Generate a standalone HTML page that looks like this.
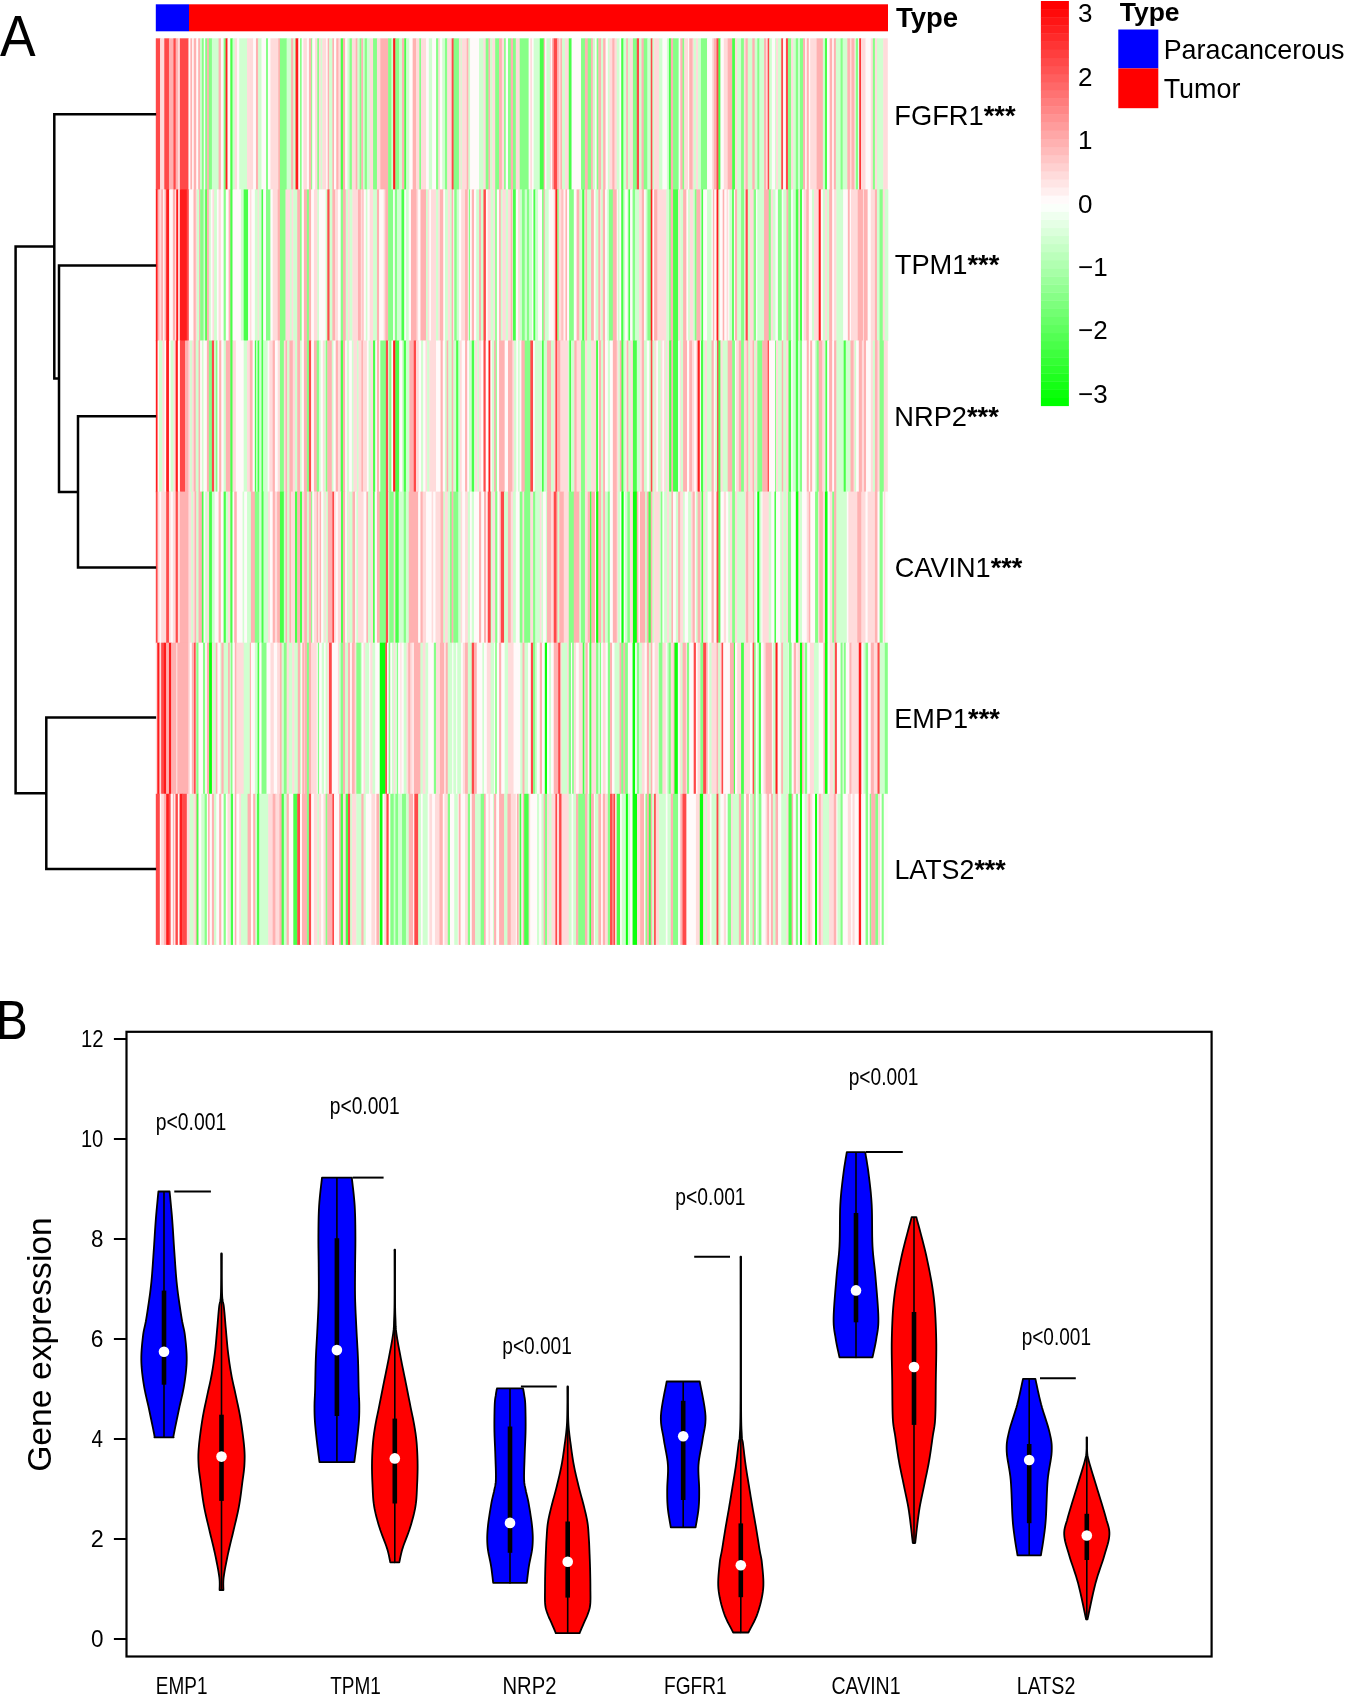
<!DOCTYPE html>
<html><head><meta charset="utf-8"><style>
html,body{margin:0;padding:0;background:#fff;}
svg{display:block;will-change:transform;}
text{font-family:"Liberation Sans", sans-serif;fill:#000;}
</style></head><body>
<svg width="1345" height="1696" viewBox="0 0 1345 1696">
<rect width="1345" height="1696" fill="#fff"/>
<defs><filter id="hb" x="-1%" y="-1%" width="102%" height="102%"><feGaussianBlur stdDeviation="0.55 0.4"/></filter></defs><g filter="url(#hb)"><rect x="155.80" y="38.30" width="4.64" height="151.70" fill="#ff4949"/><rect x="160.04" y="38.30" width="2.63" height="151.70" fill="#ffdbdb"/><rect x="162.27" y="38.30" width="2.41" height="151.70" fill="#ffdbdb"/><rect x="164.28" y="38.30" width="5.08" height="151.70" fill="#ff4949"/><rect x="168.96" y="38.30" width="4.86" height="151.70" fill="#ffb1b1"/><rect x="173.42" y="38.30" width="2.63" height="151.70" fill="#ff4949"/><rect x="175.65" y="38.30" width="2.63" height="151.70" fill="#ffb1b1"/><rect x="177.88" y="38.30" width="2.41" height="151.70" fill="#ffdbdb"/><rect x="179.89" y="38.30" width="8.99" height="151.70" fill="#ff4949"/><rect x="188.48" y="38.30" width="2.30" height="151.70" fill="#fffafa"/><rect x="190.37" y="38.30" width="2.18" height="151.70" fill="#ffb1b1"/><rect x="192.16" y="38.30" width="1.96" height="151.70" fill="#fffafa"/><rect x="193.72" y="38.30" width="2.97" height="151.70" fill="#ffb1b1"/><rect x="196.28" y="38.30" width="2.30" height="151.70" fill="#fffafa"/><rect x="198.18" y="38.30" width="2.18" height="151.70" fill="#ffb1b1"/><rect x="199.96" y="38.30" width="2.30" height="151.70" fill="#d0ffd0"/><rect x="201.86" y="38.30" width="2.30" height="151.70" fill="#87ff87"/><rect x="203.75" y="38.30" width="1.85" height="151.70" fill="#fffafa"/><rect x="205.20" y="38.30" width="2.30" height="151.70" fill="#87ff87"/><rect x="207.10" y="38.30" width="2.18" height="151.70" fill="#ffb1b1"/><rect x="208.88" y="38.30" width="3.41" height="151.70" fill="#87ff87"/><rect x="211.90" y="38.30" width="7.09" height="151.70" fill="#d0ffd0"/><rect x="218.59" y="38.30" width="2.63" height="151.70" fill="#ffb1b1"/><rect x="220.82" y="38.30" width="3.19" height="151.70" fill="#fffafa"/><rect x="223.61" y="38.30" width="2.41" height="151.70" fill="#87ff87"/><rect x="225.61" y="38.30" width="2.30" height="151.70" fill="#ff1f1f"/><rect x="227.51" y="38.30" width="3.19" height="151.70" fill="#fffafa"/><rect x="230.30" y="38.30" width="2.63" height="151.70" fill="#49ff49"/><rect x="232.53" y="38.30" width="2.63" height="151.70" fill="#d0ffd0"/><rect x="234.76" y="38.30" width="2.63" height="151.70" fill="#ffdbdb"/><rect x="236.99" y="38.30" width="2.63" height="151.70" fill="#fffafa"/><rect x="239.22" y="38.30" width="8.21" height="151.70" fill="#d0ffd0"/><rect x="247.03" y="38.30" width="6.53" height="151.70" fill="#ffdbdb"/><rect x="253.16" y="38.30" width="3.19" height="151.70" fill="#fffafa"/><rect x="255.95" y="38.30" width="2.63" height="151.70" fill="#ffb1b1"/><rect x="258.18" y="38.30" width="3.75" height="151.70" fill="#d0ffd0"/><rect x="261.52" y="38.30" width="4.86" height="151.70" fill="#fffafa"/><rect x="265.99" y="38.30" width="2.41" height="151.70" fill="#87ff87"/><rect x="267.99" y="38.30" width="2.85" height="151.70" fill="#fffafa"/><rect x="270.45" y="38.30" width="8.21" height="151.70" fill="#ffdbdb"/><rect x="278.25" y="38.30" width="2.07" height="151.70" fill="#ffb1b1"/><rect x="279.93" y="38.30" width="7.09" height="151.70" fill="#87ff87"/><rect x="286.62" y="38.30" width="4.86" height="151.70" fill="#d0ffd0"/><rect x="291.08" y="38.30" width="2.63" height="151.70" fill="#ffb1b1"/><rect x="293.31" y="38.30" width="2.63" height="151.70" fill="#d0ffd0"/><rect x="295.54" y="38.30" width="3.19" height="151.70" fill="#ff1f1f"/><rect x="298.33" y="38.30" width="2.07" height="151.70" fill="#fffafa"/><rect x="300.00" y="38.30" width="2.07" height="151.70" fill="#87ff87"/><rect x="301.67" y="38.30" width="2.07" height="151.70" fill="#fffafa"/><rect x="303.35" y="38.30" width="3.97" height="151.70" fill="#ffdbdb"/><rect x="306.91" y="38.30" width="2.41" height="151.70" fill="#fffafa"/><rect x="308.92" y="38.30" width="2.63" height="151.70" fill="#ffb1b1"/><rect x="311.15" y="38.30" width="1.52" height="151.70" fill="#87ff87"/><rect x="312.27" y="38.30" width="3.19" height="151.70" fill="#fffafa"/><rect x="315.06" y="38.30" width="2.63" height="151.70" fill="#ffdbdb"/><rect x="317.29" y="38.30" width="2.07" height="151.70" fill="#87ff87"/><rect x="318.96" y="38.30" width="2.07" height="151.70" fill="#ffdbdb"/><rect x="320.63" y="38.30" width="2.07" height="151.70" fill="#d0ffd0"/><rect x="322.30" y="38.30" width="4.30" height="151.70" fill="#ffdbdb"/><rect x="326.21" y="38.30" width="1.85" height="151.70" fill="#fffafa"/><rect x="327.66" y="38.30" width="1.96" height="151.70" fill="#ffb1b1"/><rect x="329.22" y="38.30" width="3.52" height="151.70" fill="#d0ffd0"/><rect x="332.34" y="38.30" width="2.07" height="151.70" fill="#ffb1b1"/><rect x="334.01" y="38.30" width="2.63" height="151.70" fill="#fffafa"/><rect x="336.25" y="38.30" width="2.63" height="151.70" fill="#ffb1b1"/><rect x="338.48" y="38.30" width="2.63" height="151.70" fill="#ffdbdb"/><rect x="340.71" y="38.30" width="2.63" height="151.70" fill="#49ff49"/><rect x="342.94" y="38.30" width="2.63" height="151.70" fill="#ffb1b1"/><rect x="345.17" y="38.30" width="2.63" height="151.70" fill="#fffafa"/><rect x="347.40" y="38.30" width="2.63" height="151.70" fill="#d0ffd0"/><rect x="349.63" y="38.30" width="2.63" height="151.70" fill="#87ff87"/><rect x="351.86" y="38.30" width="4.30" height="151.70" fill="#ffdbdb"/><rect x="355.76" y="38.30" width="2.07" height="151.70" fill="#ffb1b1"/><rect x="357.43" y="38.30" width="2.63" height="151.70" fill="#d0ffd0"/><rect x="359.67" y="38.30" width="2.07" height="151.70" fill="#87ff87"/><rect x="361.34" y="38.30" width="2.07" height="151.70" fill="#ffb1b1"/><rect x="363.01" y="38.30" width="2.07" height="151.70" fill="#d0ffd0"/><rect x="364.68" y="38.30" width="2.63" height="151.70" fill="#87ff87"/><rect x="366.91" y="38.30" width="3.19" height="151.70" fill="#d0ffd0"/><rect x="369.70" y="38.30" width="3.75" height="151.70" fill="#ffdbdb"/><rect x="373.05" y="38.30" width="4.30" height="151.70" fill="#87ff87"/><rect x="376.95" y="38.30" width="3.75" height="151.70" fill="#ffdbdb"/><rect x="380.30" y="38.30" width="8.21" height="151.70" fill="#ffb1b1"/><rect x="388.10" y="38.30" width="3.75" height="151.70" fill="#87ff87"/><rect x="391.45" y="38.30" width="2.07" height="151.70" fill="#d0ffd0"/><rect x="393.12" y="38.30" width="2.63" height="151.70" fill="#ff1f1f"/><rect x="395.35" y="38.30" width="4.30" height="151.70" fill="#87ff87"/><rect x="399.26" y="38.30" width="3.19" height="151.70" fill="#d0ffd0"/><rect x="402.04" y="38.30" width="2.63" height="151.70" fill="#ffb1b1"/><rect x="404.28" y="38.30" width="2.30" height="151.70" fill="#49ff49"/><rect x="406.17" y="38.30" width="3.52" height="151.70" fill="#d0ffd0"/><rect x="409.29" y="38.30" width="3.75" height="151.70" fill="#fffafa"/><rect x="412.64" y="38.30" width="3.75" height="151.70" fill="#ffb1b1"/><rect x="415.99" y="38.30" width="3.75" height="151.70" fill="#ffdbdb"/><rect x="419.33" y="38.30" width="2.07" height="151.70" fill="#87ff87"/><rect x="421.00" y="38.30" width="5.42" height="151.70" fill="#ffdbdb"/><rect x="426.02" y="38.30" width="3.19" height="151.70" fill="#fffafa"/><rect x="428.81" y="38.30" width="3.75" height="151.70" fill="#d0ffd0"/><rect x="432.16" y="38.30" width="4.30" height="151.70" fill="#fffafa"/><rect x="436.06" y="38.30" width="2.63" height="151.70" fill="#87ff87"/><rect x="438.29" y="38.30" width="2.07" height="151.70" fill="#ffdbdb"/><rect x="439.96" y="38.30" width="2.63" height="151.70" fill="#fffafa"/><rect x="442.19" y="38.30" width="3.19" height="151.70" fill="#d0ffd0"/><rect x="444.98" y="38.30" width="2.63" height="151.70" fill="#87ff87"/><rect x="447.21" y="38.30" width="3.19" height="151.70" fill="#ffdbdb"/><rect x="450.00" y="38.30" width="2.07" height="151.70" fill="#ffdbdb"/><rect x="451.67" y="38.30" width="2.30" height="151.70" fill="#ff4949"/><rect x="453.57" y="38.30" width="5.75" height="151.70" fill="#87ff87"/><rect x="458.92" y="38.30" width="2.07" height="151.70" fill="#ffdbdb"/><rect x="460.59" y="38.30" width="1.52" height="151.70" fill="#d0ffd0"/><rect x="461.71" y="38.30" width="5.42" height="151.70" fill="#ffdbdb"/><rect x="466.73" y="38.30" width="2.07" height="151.70" fill="#ffb1b1"/><rect x="468.40" y="38.30" width="2.07" height="151.70" fill="#d0ffd0"/><rect x="470.07" y="38.30" width="9.32" height="151.70" fill="#fffafa"/><rect x="479.00" y="38.30" width="4.86" height="151.70" fill="#d0ffd0"/><rect x="483.46" y="38.30" width="2.63" height="151.70" fill="#ffdbdb"/><rect x="485.69" y="38.30" width="3.19" height="151.70" fill="#87ff87"/><rect x="488.48" y="38.30" width="2.07" height="151.70" fill="#ffb1b1"/><rect x="490.15" y="38.30" width="2.63" height="151.70" fill="#d0ffd0"/><rect x="492.38" y="38.30" width="3.19" height="151.70" fill="#ffdbdb"/><rect x="495.17" y="38.30" width="4.30" height="151.70" fill="#87ff87"/><rect x="499.07" y="38.30" width="3.19" height="151.70" fill="#ffb1b1"/><rect x="501.86" y="38.30" width="2.63" height="151.70" fill="#ffdbdb"/><rect x="504.09" y="38.30" width="2.07" height="151.70" fill="#87ff87"/><rect x="505.76" y="38.30" width="2.63" height="151.70" fill="#fffafa"/><rect x="507.99" y="38.30" width="3.19" height="151.70" fill="#87ff87"/><rect x="510.78" y="38.30" width="2.63" height="151.70" fill="#ffb1b1"/><rect x="513.01" y="38.30" width="3.19" height="151.70" fill="#87ff87"/><rect x="515.80" y="38.30" width="4.30" height="151.70" fill="#ffdbdb"/><rect x="519.70" y="38.30" width="9.32" height="151.70" fill="#87ff87"/><rect x="528.62" y="38.30" width="2.07" height="151.70" fill="#fffafa"/><rect x="530.30" y="38.30" width="2.07" height="151.70" fill="#ffdbdb"/><rect x="531.97" y="38.30" width="2.07" height="151.70" fill="#fffafa"/><rect x="533.64" y="38.30" width="6.53" height="151.70" fill="#d0ffd0"/><rect x="539.78" y="38.30" width="4.30" height="151.70" fill="#49ff49"/><rect x="543.68" y="38.30" width="1.52" height="151.70" fill="#ffb1b1"/><rect x="544.80" y="38.30" width="2.07" height="151.70" fill="#fffafa"/><rect x="546.47" y="38.30" width="3.75" height="151.70" fill="#d0ffd0"/><rect x="549.81" y="38.30" width="1.52" height="151.70" fill="#ffdbdb"/><rect x="550.93" y="38.30" width="1.52" height="151.70" fill="#fffafa"/><rect x="552.04" y="38.30" width="2.07" height="151.70" fill="#ffb1b1"/><rect x="553.72" y="38.30" width="3.75" height="151.70" fill="#ff4949"/><rect x="557.06" y="38.30" width="2.07" height="151.70" fill="#ffb1b1"/><rect x="558.74" y="38.30" width="2.07" height="151.70" fill="#ffdbdb"/><rect x="560.41" y="38.30" width="2.07" height="151.70" fill="#ffb1b1"/><rect x="562.08" y="38.30" width="3.19" height="151.70" fill="#d0ffd0"/><rect x="564.87" y="38.30" width="4.30" height="151.70" fill="#ffdbdb"/><rect x="568.77" y="38.30" width="3.19" height="151.70" fill="#49ff49"/><rect x="571.56" y="38.30" width="9.88" height="151.70" fill="#fffafa"/><rect x="581.04" y="38.30" width="4.30" height="151.70" fill="#87ff87"/><rect x="584.94" y="38.30" width="3.19" height="151.70" fill="#ffb1b1"/><rect x="587.73" y="38.30" width="3.75" height="151.70" fill="#87ff87"/><rect x="591.08" y="38.30" width="2.07" height="151.70" fill="#ffb1b1"/><rect x="592.75" y="38.30" width="2.63" height="151.70" fill="#d0ffd0"/><rect x="594.98" y="38.30" width="2.07" height="151.70" fill="#fffafa"/><rect x="596.65" y="38.30" width="2.07" height="151.70" fill="#87ff87"/><rect x="598.33" y="38.30" width="2.07" height="151.70" fill="#ffb1b1"/><rect x="600.00" y="38.30" width="1.52" height="151.70" fill="#ffb1b1"/><rect x="601.12" y="38.30" width="2.41" height="151.70" fill="#d0ffd0"/><rect x="603.12" y="38.30" width="2.85" height="151.70" fill="#ffb1b1"/><rect x="605.58" y="38.30" width="2.63" height="151.70" fill="#fffafa"/><rect x="607.81" y="38.30" width="2.07" height="151.70" fill="#d0ffd0"/><rect x="609.48" y="38.30" width="3.19" height="151.70" fill="#ffdbdb"/><rect x="612.27" y="38.30" width="2.63" height="151.70" fill="#ffb1b1"/><rect x="614.50" y="38.30" width="2.63" height="151.70" fill="#ffdbdb"/><rect x="616.73" y="38.30" width="3.19" height="151.70" fill="#d0ffd0"/><rect x="619.52" y="38.30" width="2.07" height="151.70" fill="#fffafa"/><rect x="621.19" y="38.30" width="2.63" height="151.70" fill="#49ff49"/><rect x="623.42" y="38.30" width="3.19" height="151.70" fill="#d0ffd0"/><rect x="626.21" y="38.30" width="2.07" height="151.70" fill="#ffb1b1"/><rect x="627.88" y="38.30" width="2.41" height="151.70" fill="#d0ffd0"/><rect x="629.89" y="38.30" width="3.41" height="151.70" fill="#ffdbdb"/><rect x="632.90" y="38.30" width="4.30" height="151.70" fill="#87ff87"/><rect x="636.80" y="38.30" width="2.63" height="151.70" fill="#ff4949"/><rect x="639.03" y="38.30" width="2.85" height="151.70" fill="#d0ffd0"/><rect x="641.49" y="38.30" width="2.63" height="151.70" fill="#ffb1b1"/><rect x="643.72" y="38.30" width="4.08" height="151.70" fill="#87ff87"/><rect x="647.40" y="38.30" width="3.75" height="151.70" fill="#d0ffd0"/><rect x="650.74" y="38.30" width="2.07" height="151.70" fill="#ff4949"/><rect x="652.42" y="38.30" width="2.07" height="151.70" fill="#d0ffd0"/><rect x="654.09" y="38.30" width="5.42" height="151.70" fill="#ffdbdb"/><rect x="659.11" y="38.30" width="3.75" height="151.70" fill="#d0ffd0"/><rect x="662.45" y="38.30" width="4.86" height="151.70" fill="#fffafa"/><rect x="666.91" y="38.30" width="2.41" height="151.70" fill="#d0ffd0"/><rect x="668.92" y="38.30" width="2.30" height="151.70" fill="#49ff49"/><rect x="670.82" y="38.30" width="2.63" height="151.70" fill="#ffb1b1"/><rect x="673.05" y="38.30" width="5.98" height="151.70" fill="#87ff87"/><rect x="678.62" y="38.30" width="2.07" height="151.70" fill="#fffafa"/><rect x="680.30" y="38.30" width="2.63" height="151.70" fill="#ffb1b1"/><rect x="682.53" y="38.30" width="2.07" height="151.70" fill="#87ff87"/><rect x="684.20" y="38.30" width="4.30" height="151.70" fill="#ffdbdb"/><rect x="688.10" y="38.30" width="1.52" height="151.70" fill="#fffafa"/><rect x="689.22" y="38.30" width="3.75" height="151.70" fill="#ffb1b1"/><rect x="692.57" y="38.30" width="1.52" height="151.70" fill="#ffdbdb"/><rect x="693.68" y="38.30" width="2.63" height="151.70" fill="#d0ffd0"/><rect x="695.91" y="38.30" width="2.63" height="151.70" fill="#ffdbdb"/><rect x="698.14" y="38.30" width="3.19" height="151.70" fill="#d0ffd0"/><rect x="700.93" y="38.30" width="6.53" height="151.70" fill="#87ff87"/><rect x="707.06" y="38.30" width="5.42" height="151.70" fill="#fffafa"/><rect x="712.08" y="38.30" width="2.07" height="151.70" fill="#ffdbdb"/><rect x="713.75" y="38.30" width="3.19" height="151.70" fill="#ffb1b1"/><rect x="716.54" y="38.30" width="2.30" height="151.70" fill="#ff4949"/><rect x="718.44" y="38.30" width="2.41" height="151.70" fill="#49ff49"/><rect x="720.45" y="38.30" width="3.75" height="151.70" fill="#fffafa"/><rect x="723.79" y="38.30" width="4.30" height="151.70" fill="#ffdbdb"/><rect x="727.70" y="38.30" width="4.86" height="151.70" fill="#ffb1b1"/><rect x="732.16" y="38.30" width="3.19" height="151.70" fill="#49ff49"/><rect x="734.94" y="38.30" width="2.63" height="151.70" fill="#ffdbdb"/><rect x="737.17" y="38.30" width="4.30" height="151.70" fill="#d0ffd0"/><rect x="741.08" y="38.30" width="3.19" height="151.70" fill="#87ff87"/><rect x="743.87" y="38.30" width="2.07" height="151.70" fill="#ffdbdb"/><rect x="745.54" y="38.30" width="2.63" height="151.70" fill="#ffb1b1"/><rect x="747.77" y="38.30" width="2.63" height="151.70" fill="#d0ffd0"/><rect x="750.00" y="38.30" width="2.69" height="151.70" fill="#d0ffd0"/><rect x="752.29" y="38.30" width="2.79" height="151.70" fill="#ffb1b1"/><rect x="754.68" y="38.30" width="3.00" height="151.70" fill="#d0ffd0"/><rect x="757.29" y="38.30" width="2.48" height="151.70" fill="#87ff87"/><rect x="759.37" y="38.30" width="5.08" height="151.70" fill="#d0ffd0"/><rect x="764.05" y="38.30" width="2.48" height="151.70" fill="#ffb1b1"/><rect x="766.13" y="38.30" width="1.96" height="151.70" fill="#ffdbdb"/><rect x="767.70" y="38.30" width="1.96" height="151.70" fill="#ff4949"/><rect x="769.26" y="38.30" width="3.00" height="151.70" fill="#d0ffd0"/><rect x="771.86" y="38.30" width="3.52" height="151.70" fill="#fffafa"/><rect x="774.98" y="38.30" width="1.44" height="151.70" fill="#d0ffd0"/><rect x="776.02" y="38.30" width="2.48" height="151.70" fill="#ffdbdb"/><rect x="778.10" y="38.30" width="3.52" height="151.70" fill="#d0ffd0"/><rect x="781.23" y="38.30" width="2.27" height="151.70" fill="#ff4949"/><rect x="783.10" y="38.30" width="3.21" height="151.70" fill="#fffafa"/><rect x="785.91" y="38.30" width="2.48" height="151.70" fill="#ff4949"/><rect x="787.99" y="38.30" width="3.52" height="151.70" fill="#87ff87"/><rect x="791.12" y="38.30" width="2.48" height="151.70" fill="#ffdbdb"/><rect x="793.20" y="38.30" width="3.00" height="151.70" fill="#d0ffd0"/><rect x="795.80" y="38.30" width="2.69" height="151.70" fill="#87ff87"/><rect x="798.09" y="38.30" width="2.27" height="151.70" fill="#d0ffd0"/><rect x="799.96" y="38.30" width="3.52" height="151.70" fill="#87ff87"/><rect x="803.09" y="38.30" width="2.48" height="151.70" fill="#ffb1b1"/><rect x="805.17" y="38.30" width="1.96" height="151.70" fill="#fffafa"/><rect x="806.73" y="38.30" width="2.48" height="151.70" fill="#ffb1b1"/><rect x="808.81" y="38.30" width="1.75" height="151.70" fill="#fffafa"/><rect x="810.16" y="38.30" width="6.85" height="151.70" fill="#ffdbdb"/><rect x="816.62" y="38.30" width="6.65" height="151.70" fill="#ffb1b1"/><rect x="822.86" y="38.30" width="2.48" height="151.70" fill="#d0ffd0"/><rect x="824.94" y="38.30" width="2.48" height="151.70" fill="#49ff49"/><rect x="827.03" y="38.30" width="3.00" height="151.70" fill="#fffafa"/><rect x="829.63" y="38.30" width="3.00" height="151.70" fill="#ffb1b1"/><rect x="832.23" y="38.30" width="1.96" height="151.70" fill="#fffafa"/><rect x="833.79" y="38.30" width="2.48" height="151.70" fill="#ffb1b1"/><rect x="835.87" y="38.30" width="5.08" height="151.70" fill="#d0ffd0"/><rect x="840.56" y="38.30" width="2.48" height="151.70" fill="#87ff87"/><rect x="842.64" y="38.30" width="5.08" height="151.70" fill="#d0ffd0"/><rect x="847.32" y="38.30" width="3.00" height="151.70" fill="#ffb1b1"/><rect x="849.93" y="38.30" width="1.96" height="151.70" fill="#ffdbdb"/><rect x="851.49" y="38.30" width="3.52" height="151.70" fill="#ffb1b1"/><rect x="854.61" y="38.30" width="1.44" height="151.70" fill="#fffafa"/><rect x="855.65" y="38.30" width="3.00" height="151.70" fill="#87ff87"/><rect x="858.25" y="38.30" width="1.44" height="151.70" fill="#fffafa"/><rect x="859.29" y="38.30" width="1.96" height="151.70" fill="#ff1f1f"/><rect x="860.86" y="38.30" width="5.08" height="151.70" fill="#ffdbdb"/><rect x="865.54" y="38.30" width="5.60" height="151.70" fill="#fffafa"/><rect x="870.74" y="38.30" width="2.48" height="151.70" fill="#ffdbdb"/><rect x="872.83" y="38.30" width="2.48" height="151.70" fill="#87ff87"/><rect x="874.91" y="38.30" width="2.48" height="151.70" fill="#ffdbdb"/><rect x="876.99" y="38.30" width="6.65" height="151.70" fill="#d0ffd0"/><rect x="883.23" y="38.30" width="4.56" height="151.70" fill="#ffdbdb"/><rect x="155.80" y="189.40" width="2.18" height="151.70" fill="#ff1f1f"/><rect x="157.58" y="189.40" width="2.30" height="151.70" fill="#ffb1b1"/><rect x="159.48" y="189.40" width="2.07" height="151.70" fill="#ffdbdb"/><rect x="161.15" y="189.40" width="2.41" height="151.70" fill="#ffb1b1"/><rect x="163.16" y="189.40" width="1.74" height="151.70" fill="#fffafa"/><rect x="164.50" y="189.40" width="2.07" height="151.70" fill="#ffb1b1"/><rect x="166.17" y="189.40" width="3.41" height="151.70" fill="#ff1f1f"/><rect x="169.18" y="189.40" width="4.08" height="151.70" fill="#fffafa"/><rect x="172.86" y="189.40" width="2.97" height="151.70" fill="#ffb1b1"/><rect x="175.43" y="189.40" width="1.18" height="151.70" fill="#fffafa"/><rect x="176.21" y="189.40" width="2.30" height="151.70" fill="#ff1f1f"/><rect x="178.10" y="189.40" width="2.18" height="151.70" fill="#ffdbdb"/><rect x="179.89" y="189.40" width="7.31" height="151.70" fill="#ff1f1f"/><rect x="186.80" y="189.40" width="2.41" height="151.70" fill="#ff4949"/><rect x="188.81" y="189.40" width="5.08" height="151.70" fill="#fffafa"/><rect x="193.49" y="189.40" width="2.63" height="151.70" fill="#ffb1b1"/><rect x="195.72" y="189.40" width="1.52" height="151.70" fill="#ffdbdb"/><rect x="196.84" y="189.40" width="2.63" height="151.70" fill="#d0ffd0"/><rect x="199.07" y="189.40" width="1.52" height="151.70" fill="#ffb1b1"/><rect x="200.19" y="189.40" width="3.75" height="151.70" fill="#87ff87"/><rect x="203.53" y="189.40" width="2.07" height="151.70" fill="#d0ffd0"/><rect x="205.20" y="189.40" width="2.07" height="151.70" fill="#49ff49"/><rect x="206.88" y="189.40" width="2.41" height="151.70" fill="#ffb1b1"/><rect x="208.88" y="189.40" width="2.30" height="151.70" fill="#d0ffd0"/><rect x="210.78" y="189.40" width="2.07" height="151.70" fill="#fffafa"/><rect x="212.45" y="189.40" width="2.07" height="151.70" fill="#ffdbdb"/><rect x="214.13" y="189.40" width="3.19" height="151.70" fill="#d0ffd0"/><rect x="216.91" y="189.40" width="2.07" height="151.70" fill="#fffafa"/><rect x="218.59" y="189.40" width="2.63" height="151.70" fill="#ffdbdb"/><rect x="220.82" y="189.40" width="3.19" height="151.70" fill="#fffafa"/><rect x="223.61" y="189.40" width="2.63" height="151.70" fill="#87ff87"/><rect x="225.84" y="189.40" width="3.19" height="151.70" fill="#fffafa"/><rect x="228.62" y="189.40" width="2.07" height="151.70" fill="#ffb1b1"/><rect x="230.30" y="189.40" width="2.63" height="151.70" fill="#49ff49"/><rect x="232.53" y="189.40" width="8.76" height="151.70" fill="#fffafa"/><rect x="240.89" y="189.40" width="3.19" height="151.70" fill="#d0ffd0"/><rect x="243.68" y="189.40" width="4.86" height="151.70" fill="#49ff49"/><rect x="248.14" y="189.40" width="2.07" height="151.70" fill="#fffafa"/><rect x="249.81" y="189.40" width="2.07" height="151.70" fill="#ffdbdb"/><rect x="251.49" y="189.40" width="3.75" height="151.70" fill="#fffafa"/><rect x="254.83" y="189.40" width="3.19" height="151.70" fill="#d0ffd0"/><rect x="257.62" y="189.40" width="1.52" height="151.70" fill="#ffdbdb"/><rect x="258.74" y="189.40" width="3.19" height="151.70" fill="#d0ffd0"/><rect x="261.52" y="189.40" width="2.07" height="151.70" fill="#49ff49"/><rect x="263.20" y="189.40" width="3.19" height="151.70" fill="#fffafa"/><rect x="265.99" y="189.40" width="4.86" height="151.70" fill="#87ff87"/><rect x="270.45" y="189.40" width="2.63" height="151.70" fill="#fffafa"/><rect x="272.68" y="189.40" width="5.42" height="151.70" fill="#ffdbdb"/><rect x="277.70" y="189.40" width="2.63" height="151.70" fill="#ffb1b1"/><rect x="279.93" y="189.40" width="5.98" height="151.70" fill="#87ff87"/><rect x="285.50" y="189.40" width="4.86" height="151.70" fill="#ffdbdb"/><rect x="289.96" y="189.40" width="2.07" height="151.70" fill="#d0ffd0"/><rect x="291.64" y="189.40" width="2.07" height="151.70" fill="#ffdbdb"/><rect x="293.31" y="189.40" width="4.30" height="151.70" fill="#d0ffd0"/><rect x="297.21" y="189.40" width="3.19" height="151.70" fill="#ffb1b1"/><rect x="300.00" y="189.40" width="2.07" height="151.70" fill="#87ff87"/><rect x="301.67" y="189.40" width="2.63" height="151.70" fill="#fffafa"/><rect x="303.90" y="189.40" width="3.41" height="151.70" fill="#ffb1b1"/><rect x="306.91" y="189.40" width="2.41" height="151.70" fill="#87ff87"/><rect x="308.92" y="189.40" width="2.63" height="151.70" fill="#ffb1b1"/><rect x="311.15" y="189.40" width="3.19" height="151.70" fill="#fffafa"/><rect x="313.94" y="189.40" width="3.75" height="151.70" fill="#ffdbdb"/><rect x="317.29" y="189.40" width="2.07" height="151.70" fill="#d0ffd0"/><rect x="318.96" y="189.40" width="7.09" height="151.70" fill="#fffafa"/><rect x="325.65" y="189.40" width="2.07" height="151.70" fill="#d0ffd0"/><rect x="327.32" y="189.40" width="2.63" height="151.70" fill="#ff4949"/><rect x="329.55" y="189.40" width="3.19" height="151.70" fill="#d0ffd0"/><rect x="332.34" y="189.40" width="3.19" height="151.70" fill="#ffb1b1"/><rect x="335.13" y="189.40" width="3.19" height="151.70" fill="#ffdbdb"/><rect x="337.92" y="189.40" width="3.19" height="151.70" fill="#fffafa"/><rect x="340.71" y="189.40" width="2.63" height="151.70" fill="#87ff87"/><rect x="342.94" y="189.40" width="3.19" height="151.70" fill="#ffb1b1"/><rect x="345.72" y="189.40" width="2.63" height="151.70" fill="#d0ffd0"/><rect x="347.96" y="189.40" width="2.07" height="151.70" fill="#ffdbdb"/><rect x="349.63" y="189.40" width="3.19" height="151.70" fill="#d0ffd0"/><rect x="352.42" y="189.40" width="5.98" height="151.70" fill="#ffdbdb"/><rect x="357.99" y="189.40" width="3.19" height="151.70" fill="#ffb1b1"/><rect x="360.78" y="189.40" width="2.07" height="151.70" fill="#ffdbdb"/><rect x="362.45" y="189.40" width="1.52" height="151.70" fill="#ffb1b1"/><rect x="363.57" y="189.40" width="2.63" height="151.70" fill="#fffafa"/><rect x="365.80" y="189.40" width="2.07" height="151.70" fill="#d0ffd0"/><rect x="367.47" y="189.40" width="2.63" height="151.70" fill="#fffafa"/><rect x="369.70" y="189.40" width="3.75" height="151.70" fill="#ffdbdb"/><rect x="373.05" y="189.40" width="4.30" height="151.70" fill="#d0ffd0"/><rect x="376.95" y="189.40" width="2.63" height="151.70" fill="#ffb1b1"/><rect x="379.18" y="189.40" width="4.86" height="151.70" fill="#fffafa"/><rect x="383.64" y="189.40" width="2.07" height="151.70" fill="#ffdbdb"/><rect x="385.32" y="189.40" width="3.19" height="151.70" fill="#ffb1b1"/><rect x="388.10" y="189.40" width="5.42" height="151.70" fill="#87ff87"/><rect x="393.12" y="189.40" width="2.07" height="151.70" fill="#fffafa"/><rect x="394.80" y="189.40" width="2.63" height="151.70" fill="#87ff87"/><rect x="397.03" y="189.40" width="4.86" height="151.70" fill="#d0ffd0"/><rect x="401.49" y="189.40" width="3.19" height="151.70" fill="#49ff49"/><rect x="404.28" y="189.40" width="2.07" height="151.70" fill="#fffafa"/><rect x="405.95" y="189.40" width="3.19" height="151.70" fill="#d0ffd0"/><rect x="408.74" y="189.40" width="2.63" height="151.70" fill="#fffafa"/><rect x="410.97" y="189.40" width="5.98" height="151.70" fill="#ffb1b1"/><rect x="416.54" y="189.40" width="2.07" height="151.70" fill="#ffdbdb"/><rect x="418.22" y="189.40" width="2.63" height="151.70" fill="#fffafa"/><rect x="420.45" y="189.40" width="5.98" height="151.70" fill="#ffb1b1"/><rect x="426.02" y="189.40" width="2.07" height="151.70" fill="#d0ffd0"/><rect x="427.70" y="189.40" width="2.07" height="151.70" fill="#ffdbdb"/><rect x="429.37" y="189.40" width="2.07" height="151.70" fill="#fffafa"/><rect x="431.04" y="189.40" width="5.42" height="151.70" fill="#ffdbdb"/><rect x="436.06" y="189.40" width="2.63" height="151.70" fill="#d0ffd0"/><rect x="438.29" y="189.40" width="2.07" height="151.70" fill="#ffdbdb"/><rect x="439.96" y="189.40" width="3.75" height="151.70" fill="#ffb1b1"/><rect x="443.31" y="189.40" width="2.07" height="151.70" fill="#fffafa"/><rect x="444.98" y="189.40" width="3.19" height="151.70" fill="#d0ffd0"/><rect x="447.77" y="189.40" width="2.63" height="151.70" fill="#ffdbdb"/><rect x="450.00" y="189.40" width="2.07" height="151.70" fill="#d0ffd0"/><rect x="451.67" y="189.40" width="2.07" height="151.70" fill="#ffb1b1"/><rect x="453.35" y="189.40" width="1.29" height="151.70" fill="#fffafa"/><rect x="454.24" y="189.40" width="2.85" height="151.70" fill="#87ff87"/><rect x="456.69" y="189.40" width="2.63" height="151.70" fill="#d0ffd0"/><rect x="458.92" y="189.40" width="2.63" height="151.70" fill="#fffafa"/><rect x="461.15" y="189.40" width="4.30" height="151.70" fill="#ffdbdb"/><rect x="465.06" y="189.40" width="3.19" height="151.70" fill="#ffb1b1"/><rect x="467.84" y="189.40" width="1.29" height="151.70" fill="#fffafa"/><rect x="468.74" y="189.40" width="1.74" height="151.70" fill="#87ff87"/><rect x="470.07" y="189.40" width="2.07" height="151.70" fill="#fffafa"/><rect x="471.75" y="189.40" width="2.63" height="151.70" fill="#ffb1b1"/><rect x="473.98" y="189.40" width="2.63" height="151.70" fill="#fffafa"/><rect x="476.21" y="189.40" width="3.19" height="151.70" fill="#d0ffd0"/><rect x="479.00" y="189.40" width="2.41" height="151.70" fill="#ffb1b1"/><rect x="481.00" y="189.40" width="2.85" height="151.70" fill="#d0ffd0"/><rect x="483.46" y="189.40" width="2.85" height="151.70" fill="#ff4949"/><rect x="485.91" y="189.40" width="2.18" height="151.70" fill="#fffafa"/><rect x="487.70" y="189.40" width="3.41" height="151.70" fill="#ffdbdb"/><rect x="490.71" y="189.40" width="3.19" height="151.70" fill="#d0ffd0"/><rect x="493.49" y="189.40" width="2.07" height="151.70" fill="#ffdbdb"/><rect x="495.17" y="189.40" width="2.07" height="151.70" fill="#87ff87"/><rect x="496.84" y="189.40" width="2.63" height="151.70" fill="#fffafa"/><rect x="499.07" y="189.40" width="2.07" height="151.70" fill="#ffb1b1"/><rect x="500.74" y="189.40" width="2.07" height="151.70" fill="#d0ffd0"/><rect x="502.42" y="189.40" width="3.75" height="151.70" fill="#ffdbdb"/><rect x="505.76" y="189.40" width="2.63" height="151.70" fill="#d0ffd0"/><rect x="507.99" y="189.40" width="3.19" height="151.70" fill="#ffdbdb"/><rect x="510.78" y="189.40" width="2.07" height="151.70" fill="#ffb1b1"/><rect x="512.45" y="189.40" width="0.96" height="151.70" fill="#d0ffd0"/><rect x="513.01" y="189.40" width="3.19" height="151.70" fill="#49ff49"/><rect x="515.80" y="189.40" width="2.63" height="151.70" fill="#fffafa"/><rect x="518.03" y="189.40" width="2.07" height="151.70" fill="#ffdbdb"/><rect x="519.70" y="189.40" width="2.63" height="151.70" fill="#d0ffd0"/><rect x="521.93" y="189.40" width="3.19" height="151.70" fill="#87ff87"/><rect x="524.72" y="189.40" width="2.63" height="151.70" fill="#d0ffd0"/><rect x="526.95" y="189.40" width="2.63" height="151.70" fill="#87ff87"/><rect x="529.18" y="189.40" width="3.19" height="151.70" fill="#d0ffd0"/><rect x="531.97" y="189.40" width="1.85" height="151.70" fill="#fffafa"/><rect x="533.42" y="189.40" width="2.30" height="151.70" fill="#49ff49"/><rect x="535.32" y="189.40" width="3.19" height="151.70" fill="#d0ffd0"/><rect x="538.10" y="189.40" width="4.30" height="151.70" fill="#fffafa"/><rect x="542.01" y="189.40" width="2.07" height="151.70" fill="#87ff87"/><rect x="543.68" y="189.40" width="1.52" height="151.70" fill="#ffb1b1"/><rect x="544.80" y="189.40" width="4.30" height="151.70" fill="#d0ffd0"/><rect x="548.70" y="189.40" width="5.42" height="151.70" fill="#fffafa"/><rect x="553.72" y="189.40" width="2.07" height="151.70" fill="#ffdbdb"/><rect x="555.39" y="189.40" width="2.30" height="151.70" fill="#ff1f1f"/><rect x="557.29" y="189.40" width="1.85" height="151.70" fill="#87ff87"/><rect x="558.74" y="189.40" width="3.19" height="151.70" fill="#ffdbdb"/><rect x="561.52" y="189.40" width="1.52" height="151.70" fill="#ffb1b1"/><rect x="562.64" y="189.40" width="2.07" height="151.70" fill="#ffdbdb"/><rect x="564.31" y="189.40" width="1.52" height="151.70" fill="#fffafa"/><rect x="565.43" y="189.40" width="2.07" height="151.70" fill="#ffb1b1"/><rect x="567.10" y="189.40" width="2.41" height="151.70" fill="#fffafa"/><rect x="569.11" y="189.40" width="5.08" height="151.70" fill="#87ff87"/><rect x="573.79" y="189.40" width="3.19" height="151.70" fill="#fffafa"/><rect x="576.58" y="189.40" width="3.19" height="151.70" fill="#ffb1b1"/><rect x="579.37" y="189.40" width="3.19" height="151.70" fill="#d0ffd0"/><rect x="582.16" y="189.40" width="2.63" height="151.70" fill="#49ff49"/><rect x="584.39" y="189.40" width="1.52" height="151.70" fill="#ffdbdb"/><rect x="585.50" y="189.40" width="2.07" height="151.70" fill="#ffb1b1"/><rect x="587.17" y="189.40" width="4.30" height="151.70" fill="#d0ffd0"/><rect x="591.08" y="189.40" width="3.19" height="151.70" fill="#ffb1b1"/><rect x="593.87" y="189.40" width="2.07" height="151.70" fill="#fffafa"/><rect x="595.54" y="189.40" width="3.19" height="151.70" fill="#d0ffd0"/><rect x="598.33" y="189.40" width="2.07" height="151.70" fill="#ffb1b1"/><rect x="600.00" y="189.40" width="1.52" height="151.70" fill="#ffdbdb"/><rect x="601.12" y="189.40" width="2.07" height="151.70" fill="#d0ffd0"/><rect x="602.79" y="189.40" width="2.63" height="151.70" fill="#ffb1b1"/><rect x="605.02" y="189.40" width="2.63" height="151.70" fill="#fffafa"/><rect x="607.25" y="189.40" width="2.07" height="151.70" fill="#d0ffd0"/><rect x="608.92" y="189.40" width="4.30" height="151.70" fill="#87ff87"/><rect x="612.83" y="189.40" width="4.30" height="151.70" fill="#ffb1b1"/><rect x="616.73" y="189.40" width="1.52" height="151.70" fill="#fffafa"/><rect x="617.84" y="189.40" width="2.07" height="151.70" fill="#d0ffd0"/><rect x="619.52" y="189.40" width="2.07" height="151.70" fill="#fffafa"/><rect x="621.19" y="189.40" width="2.63" height="151.70" fill="#49ff49"/><rect x="623.42" y="189.40" width="2.07" height="151.70" fill="#d0ffd0"/><rect x="625.09" y="189.40" width="2.63" height="151.70" fill="#fffafa"/><rect x="627.32" y="189.40" width="1.52" height="151.70" fill="#d0ffd0"/><rect x="628.44" y="189.40" width="2.07" height="151.70" fill="#49ff49"/><rect x="630.11" y="189.40" width="2.85" height="151.70" fill="#fffafa"/><rect x="632.57" y="189.40" width="2.97" height="151.70" fill="#87ff87"/><rect x="635.13" y="189.40" width="4.30" height="151.70" fill="#d0ffd0"/><rect x="639.03" y="189.40" width="3.19" height="151.70" fill="#ffdbdb"/><rect x="641.82" y="189.40" width="2.63" height="151.70" fill="#ffb1b1"/><rect x="644.05" y="189.40" width="2.07" height="151.70" fill="#fffafa"/><rect x="645.72" y="189.40" width="2.07" height="151.70" fill="#d0ffd0"/><rect x="647.40" y="189.40" width="3.75" height="151.70" fill="#87ff87"/><rect x="650.74" y="189.40" width="2.07" height="151.70" fill="#ff1f1f"/><rect x="652.42" y="189.40" width="2.07" height="151.70" fill="#fffafa"/><rect x="654.09" y="189.40" width="3.75" height="151.70" fill="#ffb1b1"/><rect x="657.43" y="189.40" width="9.32" height="151.70" fill="#ffdbdb"/><rect x="666.36" y="189.40" width="3.19" height="151.70" fill="#d0ffd0"/><rect x="669.14" y="189.40" width="2.07" height="151.70" fill="#87ff87"/><rect x="670.82" y="189.40" width="2.63" height="151.70" fill="#ffb1b1"/><rect x="673.05" y="189.40" width="5.42" height="151.70" fill="#49ff49"/><rect x="678.07" y="189.40" width="2.63" height="151.70" fill="#ffdbdb"/><rect x="680.30" y="189.40" width="3.19" height="151.70" fill="#d0ffd0"/><rect x="683.09" y="189.40" width="3.75" height="151.70" fill="#ffb1b1"/><rect x="686.43" y="189.40" width="2.07" height="151.70" fill="#fffafa"/><rect x="688.10" y="189.40" width="2.07" height="151.70" fill="#d0ffd0"/><rect x="689.78" y="189.40" width="3.75" height="151.70" fill="#ffdbdb"/><rect x="693.12" y="189.40" width="2.07" height="151.70" fill="#d0ffd0"/><rect x="694.80" y="189.40" width="2.07" height="151.70" fill="#87ff87"/><rect x="696.47" y="189.40" width="4.30" height="151.70" fill="#ffb1b1"/><rect x="700.37" y="189.40" width="1.52" height="151.70" fill="#d0ffd0"/><rect x="701.49" y="189.40" width="2.07" height="151.70" fill="#49ff49"/><rect x="703.16" y="189.40" width="4.30" height="151.70" fill="#fffafa"/><rect x="707.06" y="189.40" width="4.86" height="151.70" fill="#d0ffd0"/><rect x="711.52" y="189.40" width="1.74" height="151.70" fill="#fffafa"/><rect x="712.86" y="189.40" width="1.85" height="151.70" fill="#ffb1b1"/><rect x="714.31" y="189.40" width="2.63" height="151.70" fill="#fffafa"/><rect x="716.54" y="189.40" width="2.30" height="151.70" fill="#ff1f1f"/><rect x="718.44" y="189.40" width="1.85" height="151.70" fill="#d0ffd0"/><rect x="719.89" y="189.40" width="3.19" height="151.70" fill="#fffafa"/><rect x="722.68" y="189.40" width="2.07" height="151.70" fill="#ffb1b1"/><rect x="724.35" y="189.40" width="2.63" height="151.70" fill="#fffafa"/><rect x="726.58" y="189.40" width="2.07" height="151.70" fill="#ffdbdb"/><rect x="728.25" y="189.40" width="1.52" height="151.70" fill="#fffafa"/><rect x="729.37" y="189.40" width="3.19" height="151.70" fill="#d0ffd0"/><rect x="732.16" y="189.40" width="2.07" height="151.70" fill="#49ff49"/><rect x="733.83" y="189.40" width="1.52" height="151.70" fill="#fffafa"/><rect x="734.94" y="189.40" width="2.63" height="151.70" fill="#ffb1b1"/><rect x="737.17" y="189.40" width="4.30" height="151.70" fill="#d0ffd0"/><rect x="741.08" y="189.40" width="3.75" height="151.70" fill="#87ff87"/><rect x="744.42" y="189.40" width="1.52" height="151.70" fill="#fffafa"/><rect x="745.54" y="189.40" width="2.63" height="151.70" fill="#ff4949"/><rect x="747.77" y="189.40" width="2.63" height="151.70" fill="#d0ffd0"/><rect x="750.00" y="189.40" width="4.04" height="151.70" fill="#ffdbdb"/><rect x="753.64" y="189.40" width="2.79" height="151.70" fill="#87ff87"/><rect x="756.04" y="189.40" width="1.65" height="151.70" fill="#fffafa"/><rect x="757.29" y="189.40" width="7.17" height="151.70" fill="#d0ffd0"/><rect x="764.05" y="189.40" width="5.08" height="151.70" fill="#ffb1b1"/><rect x="768.74" y="189.40" width="2.48" height="151.70" fill="#87ff87"/><rect x="770.82" y="189.40" width="2.48" height="151.70" fill="#ffdbdb"/><rect x="772.90" y="189.40" width="3.00" height="151.70" fill="#d0ffd0"/><rect x="775.50" y="189.40" width="2.79" height="151.70" fill="#fffafa"/><rect x="777.90" y="189.40" width="4.25" height="151.70" fill="#87ff87"/><rect x="781.75" y="189.40" width="1.96" height="151.70" fill="#fffafa"/><rect x="783.31" y="189.40" width="3.52" height="151.70" fill="#d0ffd0"/><rect x="786.43" y="189.40" width="2.27" height="151.70" fill="#ffb1b1"/><rect x="788.30" y="189.40" width="3.21" height="151.70" fill="#87ff87"/><rect x="791.12" y="189.40" width="2.17" height="151.70" fill="#fffafa"/><rect x="792.88" y="189.40" width="3.31" height="151.70" fill="#d0ffd0"/><rect x="795.80" y="189.40" width="3.00" height="151.70" fill="#49ff49"/><rect x="798.40" y="189.40" width="1.96" height="151.70" fill="#ffdbdb"/><rect x="799.96" y="189.40" width="2.48" height="151.70" fill="#49ff49"/><rect x="802.04" y="189.40" width="1.96" height="151.70" fill="#fffafa"/><rect x="803.61" y="189.40" width="3.00" height="151.70" fill="#ffdbdb"/><rect x="806.21" y="189.40" width="3.00" height="151.70" fill="#ffb1b1"/><rect x="808.81" y="189.40" width="3.52" height="151.70" fill="#fffafa"/><rect x="811.93" y="189.40" width="2.48" height="151.70" fill="#d0ffd0"/><rect x="814.01" y="189.40" width="5.08" height="151.70" fill="#ffdbdb"/><rect x="818.70" y="189.40" width="2.48" height="151.70" fill="#ff1f1f"/><rect x="820.78" y="189.40" width="2.48" height="151.70" fill="#fffafa"/><rect x="822.86" y="189.40" width="2.48" height="151.70" fill="#d0ffd0"/><rect x="824.94" y="189.40" width="2.48" height="151.70" fill="#ffdbdb"/><rect x="827.03" y="189.40" width="2.48" height="151.70" fill="#d0ffd0"/><rect x="829.11" y="189.40" width="3.52" height="151.70" fill="#ffb1b1"/><rect x="832.23" y="189.40" width="2.27" height="151.70" fill="#fffafa"/><rect x="834.10" y="189.40" width="2.69" height="151.70" fill="#ffdbdb"/><rect x="836.39" y="189.40" width="7.17" height="151.70" fill="#d0ffd0"/><rect x="843.16" y="189.40" width="5.08" height="151.70" fill="#fffafa"/><rect x="847.84" y="189.40" width="2.27" height="151.70" fill="#ffb1b1"/><rect x="849.72" y="189.40" width="1.65" height="151.70" fill="#fffafa"/><rect x="850.97" y="189.40" width="7.17" height="151.70" fill="#ffdbdb"/><rect x="857.73" y="189.40" width="5.60" height="151.70" fill="#ffb1b1"/><rect x="862.94" y="189.40" width="1.44" height="151.70" fill="#ffdbdb"/><rect x="863.98" y="189.40" width="4.04" height="151.70" fill="#ffb1b1"/><rect x="867.62" y="189.40" width="3.52" height="151.70" fill="#fffafa"/><rect x="870.74" y="189.40" width="4.56" height="151.70" fill="#ffdbdb"/><rect x="874.91" y="189.40" width="2.48" height="151.70" fill="#ffb1b1"/><rect x="876.99" y="189.40" width="3.00" height="151.70" fill="#d0ffd0"/><rect x="879.59" y="189.40" width="3.52" height="151.70" fill="#87ff87"/><rect x="882.71" y="189.40" width="2.48" height="151.70" fill="#ffdbdb"/><rect x="884.80" y="189.40" width="3.52" height="151.70" fill="#d0ffd0"/><rect x="155.80" y="340.50" width="2.18" height="151.70" fill="#ff1f1f"/><rect x="157.58" y="340.50" width="1.74" height="151.70" fill="#fffafa"/><rect x="158.92" y="340.50" width="3.75" height="151.70" fill="#d0ffd0"/><rect x="162.27" y="340.50" width="2.63" height="151.70" fill="#ffdbdb"/><rect x="164.50" y="340.50" width="2.07" height="151.70" fill="#fffafa"/><rect x="166.17" y="340.50" width="3.19" height="151.70" fill="#ff1f1f"/><rect x="168.96" y="340.50" width="2.07" height="151.70" fill="#fffafa"/><rect x="170.63" y="340.50" width="3.19" height="151.70" fill="#d0ffd0"/><rect x="173.42" y="340.50" width="2.63" height="151.70" fill="#ffdbdb"/><rect x="175.65" y="340.50" width="2.63" height="151.70" fill="#ff1f1f"/><rect x="177.88" y="340.50" width="2.41" height="151.70" fill="#fffafa"/><rect x="179.89" y="340.50" width="5.64" height="151.70" fill="#ff4949"/><rect x="185.13" y="340.50" width="3.75" height="151.70" fill="#ffb1b1"/><rect x="188.48" y="340.50" width="2.07" height="151.70" fill="#ffdbdb"/><rect x="190.15" y="340.50" width="2.07" height="151.70" fill="#d0ffd0"/><rect x="191.82" y="340.50" width="2.30" height="151.70" fill="#ffdbdb"/><rect x="193.72" y="340.50" width="2.41" height="151.70" fill="#ffb1b1"/><rect x="195.72" y="340.50" width="3.19" height="151.70" fill="#d0ffd0"/><rect x="198.51" y="340.50" width="2.07" height="151.70" fill="#ffb1b1"/><rect x="200.19" y="340.50" width="2.07" height="151.70" fill="#fffafa"/><rect x="201.86" y="340.50" width="2.07" height="151.70" fill="#d0ffd0"/><rect x="203.53" y="340.50" width="3.75" height="151.70" fill="#fffafa"/><rect x="206.88" y="340.50" width="2.41" height="151.70" fill="#ffb1b1"/><rect x="208.88" y="340.50" width="3.41" height="151.70" fill="#87ff87"/><rect x="211.90" y="340.50" width="2.63" height="151.70" fill="#ff4949"/><rect x="214.13" y="340.50" width="2.07" height="151.70" fill="#d0ffd0"/><rect x="215.80" y="340.50" width="2.07" height="151.70" fill="#87ff87"/><rect x="217.47" y="340.50" width="2.07" height="151.70" fill="#fffafa"/><rect x="219.14" y="340.50" width="2.63" height="151.70" fill="#ffb1b1"/><rect x="221.38" y="340.50" width="2.63" height="151.70" fill="#fffafa"/><rect x="223.61" y="340.50" width="2.63" height="151.70" fill="#d0ffd0"/><rect x="225.84" y="340.50" width="4.86" height="151.70" fill="#ffb1b1"/><rect x="230.30" y="340.50" width="2.63" height="151.70" fill="#49ff49"/><rect x="232.53" y="340.50" width="3.75" height="151.70" fill="#ffdbdb"/><rect x="235.87" y="340.50" width="8.21" height="151.70" fill="#fffafa"/><rect x="243.68" y="340.50" width="3.75" height="151.70" fill="#d0ffd0"/><rect x="247.03" y="340.50" width="3.19" height="151.70" fill="#ffdbdb"/><rect x="249.81" y="340.50" width="3.19" height="151.70" fill="#ffb1b1"/><rect x="252.60" y="340.50" width="2.63" height="151.70" fill="#fffafa"/><rect x="254.83" y="340.50" width="1.74" height="151.70" fill="#49ff49"/><rect x="256.17" y="340.50" width="1.85" height="151.70" fill="#d0ffd0"/><rect x="257.62" y="340.50" width="2.07" height="151.70" fill="#49ff49"/><rect x="259.29" y="340.50" width="2.63" height="151.70" fill="#d0ffd0"/><rect x="261.52" y="340.50" width="2.07" height="151.70" fill="#49ff49"/><rect x="263.20" y="340.50" width="4.86" height="151.70" fill="#d0ffd0"/><rect x="267.66" y="340.50" width="2.07" height="151.70" fill="#fffafa"/><rect x="269.33" y="340.50" width="3.75" height="151.70" fill="#ffdbdb"/><rect x="272.68" y="340.50" width="2.63" height="151.70" fill="#ffb1b1"/><rect x="274.91" y="340.50" width="3.19" height="151.70" fill="#fffafa"/><rect x="277.70" y="340.50" width="2.63" height="151.70" fill="#ffdbdb"/><rect x="279.93" y="340.50" width="4.30" height="151.70" fill="#87ff87"/><rect x="283.83" y="340.50" width="2.07" height="151.70" fill="#ffdbdb"/><rect x="285.50" y="340.50" width="2.07" height="151.70" fill="#ffb1b1"/><rect x="287.17" y="340.50" width="2.63" height="151.70" fill="#d0ffd0"/><rect x="289.41" y="340.50" width="3.75" height="151.70" fill="#ffb1b1"/><rect x="292.75" y="340.50" width="2.63" height="151.70" fill="#ffdbdb"/><rect x="294.98" y="340.50" width="2.63" height="151.70" fill="#d0ffd0"/><rect x="297.21" y="340.50" width="3.19" height="151.70" fill="#ffb1b1"/><rect x="300.00" y="340.50" width="2.07" height="151.70" fill="#d0ffd0"/><rect x="301.67" y="340.50" width="2.63" height="151.70" fill="#fffafa"/><rect x="303.90" y="340.50" width="3.41" height="151.70" fill="#ffb1b1"/><rect x="306.91" y="340.50" width="2.41" height="151.70" fill="#87ff87"/><rect x="308.92" y="340.50" width="2.63" height="151.70" fill="#ff4949"/><rect x="311.15" y="340.50" width="3.19" height="151.70" fill="#fffafa"/><rect x="313.94" y="340.50" width="3.19" height="151.70" fill="#ffb1b1"/><rect x="316.73" y="340.50" width="2.63" height="151.70" fill="#87ff87"/><rect x="318.96" y="340.50" width="2.07" height="151.70" fill="#d0ffd0"/><rect x="320.63" y="340.50" width="2.63" height="151.70" fill="#fffafa"/><rect x="322.86" y="340.50" width="2.07" height="151.70" fill="#ffdbdb"/><rect x="324.54" y="340.50" width="1.74" height="151.70" fill="#d0ffd0"/><rect x="325.87" y="340.50" width="1.85" height="151.70" fill="#87ff87"/><rect x="327.32" y="340.50" width="4.86" height="151.70" fill="#ffb1b1"/><rect x="331.78" y="340.50" width="2.07" height="151.70" fill="#d0ffd0"/><rect x="333.46" y="340.50" width="2.63" height="151.70" fill="#fffafa"/><rect x="335.69" y="340.50" width="2.63" height="151.70" fill="#ffb1b1"/><rect x="337.92" y="340.50" width="3.19" height="151.70" fill="#ffdbdb"/><rect x="340.71" y="340.50" width="2.63" height="151.70" fill="#49ff49"/><rect x="342.94" y="340.50" width="2.63" height="151.70" fill="#ffb1b1"/><rect x="345.17" y="340.50" width="2.07" height="151.70" fill="#fffafa"/><rect x="346.84" y="340.50" width="2.63" height="151.70" fill="#d0ffd0"/><rect x="349.07" y="340.50" width="3.19" height="151.70" fill="#fffafa"/><rect x="351.86" y="340.50" width="2.07" height="151.70" fill="#d0ffd0"/><rect x="353.53" y="340.50" width="3.75" height="151.70" fill="#ffdbdb"/><rect x="356.88" y="340.50" width="2.07" height="151.70" fill="#d0ffd0"/><rect x="358.55" y="340.50" width="3.19" height="151.70" fill="#ffdbdb"/><rect x="361.34" y="340.50" width="2.07" height="151.70" fill="#ffb1b1"/><rect x="363.01" y="340.50" width="4.30" height="151.70" fill="#ffdbdb"/><rect x="366.91" y="340.50" width="2.07" height="151.70" fill="#fffafa"/><rect x="368.59" y="340.50" width="2.63" height="151.70" fill="#d0ffd0"/><rect x="370.82" y="340.50" width="2.63" height="151.70" fill="#ffdbdb"/><rect x="373.05" y="340.50" width="2.63" height="151.70" fill="#49ff49"/><rect x="375.28" y="340.50" width="2.07" height="151.70" fill="#fffafa"/><rect x="376.95" y="340.50" width="2.63" height="151.70" fill="#ffb1b1"/><rect x="379.18" y="340.50" width="1.52" height="151.70" fill="#fffafa"/><rect x="380.30" y="340.50" width="5.98" height="151.70" fill="#87ff87"/><rect x="385.87" y="340.50" width="2.63" height="151.70" fill="#ff4949"/><rect x="388.10" y="340.50" width="1.52" height="151.70" fill="#d0ffd0"/><rect x="389.22" y="340.50" width="2.63" height="151.70" fill="#87ff87"/><rect x="391.45" y="340.50" width="2.07" height="151.70" fill="#fffafa"/><rect x="393.12" y="340.50" width="2.63" height="151.70" fill="#ff1f1f"/><rect x="395.35" y="340.50" width="4.30" height="151.70" fill="#49ff49"/><rect x="399.26" y="340.50" width="3.19" height="151.70" fill="#fffafa"/><rect x="402.04" y="340.50" width="2.07" height="151.70" fill="#d0ffd0"/><rect x="403.72" y="340.50" width="2.63" height="151.70" fill="#49ff49"/><rect x="405.95" y="340.50" width="3.75" height="151.70" fill="#d0ffd0"/><rect x="409.29" y="340.50" width="4.86" height="151.70" fill="#ffb1b1"/><rect x="413.75" y="340.50" width="2.63" height="151.70" fill="#ff4949"/><rect x="415.99" y="340.50" width="3.19" height="151.70" fill="#ffdbdb"/><rect x="418.77" y="340.50" width="2.63" height="151.70" fill="#fffafa"/><rect x="421.00" y="340.50" width="2.63" height="151.70" fill="#d0ffd0"/><rect x="423.23" y="340.50" width="2.63" height="151.70" fill="#fffafa"/><rect x="425.46" y="340.50" width="2.07" height="151.70" fill="#ffdbdb"/><rect x="427.14" y="340.50" width="2.63" height="151.70" fill="#d0ffd0"/><rect x="429.37" y="340.50" width="7.09" height="151.70" fill="#ffdbdb"/><rect x="436.06" y="340.50" width="4.86" height="151.70" fill="#fffafa"/><rect x="440.52" y="340.50" width="2.63" height="151.70" fill="#ffb1b1"/><rect x="442.75" y="340.50" width="2.63" height="151.70" fill="#fffafa"/><rect x="444.98" y="340.50" width="2.07" height="151.70" fill="#d0ffd0"/><rect x="446.65" y="340.50" width="2.07" height="151.70" fill="#ffb1b1"/><rect x="448.33" y="340.50" width="2.07" height="151.70" fill="#d0ffd0"/><rect x="450.00" y="340.50" width="2.07" height="151.70" fill="#d0ffd0"/><rect x="451.67" y="340.50" width="2.07" height="151.70" fill="#ffb1b1"/><rect x="453.35" y="340.50" width="3.19" height="151.70" fill="#d0ffd0"/><rect x="456.13" y="340.50" width="2.63" height="151.70" fill="#49ff49"/><rect x="458.36" y="340.50" width="2.07" height="151.70" fill="#d0ffd0"/><rect x="460.04" y="340.50" width="2.07" height="151.70" fill="#ffdbdb"/><rect x="461.71" y="340.50" width="3.75" height="151.70" fill="#fffafa"/><rect x="465.06" y="340.50" width="2.63" height="151.70" fill="#ffb1b1"/><rect x="467.29" y="340.50" width="2.07" height="151.70" fill="#fffafa"/><rect x="468.96" y="340.50" width="3.19" height="151.70" fill="#d0ffd0"/><rect x="471.75" y="340.50" width="2.63" height="151.70" fill="#49ff49"/><rect x="473.98" y="340.50" width="1.52" height="151.70" fill="#d0ffd0"/><rect x="475.09" y="340.50" width="2.63" height="151.70" fill="#ffdbdb"/><rect x="477.32" y="340.50" width="2.07" height="151.70" fill="#d0ffd0"/><rect x="479.00" y="340.50" width="2.63" height="151.70" fill="#ffdbdb"/><rect x="481.23" y="340.50" width="2.63" height="151.70" fill="#fffafa"/><rect x="483.46" y="340.50" width="2.63" height="151.70" fill="#ff4949"/><rect x="485.69" y="340.50" width="3.19" height="151.70" fill="#fffafa"/><rect x="488.48" y="340.50" width="2.30" height="151.70" fill="#ff1f1f"/><rect x="490.37" y="340.50" width="1.85" height="151.70" fill="#fffafa"/><rect x="491.82" y="340.50" width="2.63" height="151.70" fill="#d0ffd0"/><rect x="494.05" y="340.50" width="2.07" height="151.70" fill="#ffb1b1"/><rect x="495.72" y="340.50" width="1.52" height="151.70" fill="#87ff87"/><rect x="496.84" y="340.50" width="2.63" height="151.70" fill="#fffafa"/><rect x="499.07" y="340.50" width="5.98" height="151.70" fill="#ffb1b1"/><rect x="504.65" y="340.50" width="3.75" height="151.70" fill="#fffafa"/><rect x="507.99" y="340.50" width="4.86" height="151.70" fill="#ffb1b1"/><rect x="512.45" y="340.50" width="2.07" height="151.70" fill="#ffdbdb"/><rect x="514.13" y="340.50" width="2.63" height="151.70" fill="#d0ffd0"/><rect x="516.36" y="340.50" width="2.07" height="151.70" fill="#fffafa"/><rect x="518.03" y="340.50" width="2.07" height="151.70" fill="#d0ffd0"/><rect x="519.70" y="340.50" width="2.07" height="151.70" fill="#fffafa"/><rect x="521.38" y="340.50" width="3.75" height="151.70" fill="#ffb1b1"/><rect x="524.72" y="340.50" width="5.98" height="151.70" fill="#87ff87"/><rect x="530.30" y="340.50" width="3.19" height="151.70" fill="#ff4949"/><rect x="533.09" y="340.50" width="2.07" height="151.70" fill="#fffafa"/><rect x="534.76" y="340.50" width="7.65" height="151.70" fill="#d0ffd0"/><rect x="542.01" y="340.50" width="2.07" height="151.70" fill="#49ff49"/><rect x="543.68" y="340.50" width="3.75" height="151.70" fill="#d0ffd0"/><rect x="547.03" y="340.50" width="4.30" height="151.70" fill="#ffb1b1"/><rect x="550.93" y="340.50" width="3.19" height="151.70" fill="#d0ffd0"/><rect x="553.72" y="340.50" width="2.07" height="151.70" fill="#ffdbdb"/><rect x="555.39" y="340.50" width="2.07" height="151.70" fill="#ff4949"/><rect x="557.06" y="340.50" width="3.75" height="151.70" fill="#ffb1b1"/><rect x="560.41" y="340.50" width="8.21" height="151.70" fill="#ffdbdb"/><rect x="568.22" y="340.50" width="1.52" height="151.70" fill="#d0ffd0"/><rect x="569.33" y="340.50" width="2.07" height="151.70" fill="#49ff49"/><rect x="571.00" y="340.50" width="3.75" height="151.70" fill="#d0ffd0"/><rect x="574.35" y="340.50" width="2.63" height="151.70" fill="#ffb1b1"/><rect x="576.58" y="340.50" width="4.86" height="151.70" fill="#ffdbdb"/><rect x="581.04" y="340.50" width="4.30" height="151.70" fill="#87ff87"/><rect x="584.94" y="340.50" width="2.63" height="151.70" fill="#ffdbdb"/><rect x="587.17" y="340.50" width="4.30" height="151.70" fill="#d0ffd0"/><rect x="591.08" y="340.50" width="5.42" height="151.70" fill="#ffdbdb"/><rect x="596.10" y="340.50" width="2.41" height="151.70" fill="#49ff49"/><rect x="598.10" y="340.50" width="1.18" height="151.70" fill="#fffafa"/><rect x="598.88" y="340.50" width="1.52" height="151.70" fill="#ffb1b1"/><rect x="600.00" y="340.50" width="1.52" height="151.70" fill="#ffb1b1"/><rect x="601.12" y="340.50" width="2.41" height="151.70" fill="#d0ffd0"/><rect x="603.12" y="340.50" width="2.30" height="151.70" fill="#ffb1b1"/><rect x="605.02" y="340.50" width="3.19" height="151.70" fill="#fffafa"/><rect x="607.81" y="340.50" width="2.63" height="151.70" fill="#d0ffd0"/><rect x="610.04" y="340.50" width="3.19" height="151.70" fill="#fffafa"/><rect x="612.83" y="340.50" width="4.30" height="151.70" fill="#ffb1b1"/><rect x="616.73" y="340.50" width="2.07" height="151.70" fill="#ffdbdb"/><rect x="618.40" y="340.50" width="1.85" height="151.70" fill="#d0ffd0"/><rect x="619.85" y="340.50" width="1.96" height="151.70" fill="#ffb1b1"/><rect x="621.41" y="340.50" width="2.41" height="151.70" fill="#49ff49"/><rect x="623.42" y="340.50" width="2.63" height="151.70" fill="#d0ffd0"/><rect x="625.65" y="340.50" width="1.29" height="151.70" fill="#fffafa"/><rect x="626.54" y="340.50" width="2.30" height="151.70" fill="#ffb1b1"/><rect x="628.44" y="340.50" width="2.63" height="151.70" fill="#d0ffd0"/><rect x="630.67" y="340.50" width="2.63" height="151.70" fill="#ffdbdb"/><rect x="632.90" y="340.50" width="4.30" height="151.70" fill="#49ff49"/><rect x="636.80" y="340.50" width="3.75" height="151.70" fill="#d0ffd0"/><rect x="640.15" y="340.50" width="2.07" height="151.70" fill="#ffdbdb"/><rect x="641.82" y="340.50" width="2.63" height="151.70" fill="#ffb1b1"/><rect x="644.05" y="340.50" width="3.19" height="151.70" fill="#d0ffd0"/><rect x="646.84" y="340.50" width="2.63" height="151.70" fill="#fffafa"/><rect x="649.07" y="340.50" width="2.07" height="151.70" fill="#d0ffd0"/><rect x="650.74" y="340.50" width="2.07" height="151.70" fill="#ff4949"/><rect x="652.42" y="340.50" width="2.41" height="151.70" fill="#d0ffd0"/><rect x="654.42" y="340.50" width="2.30" height="151.70" fill="#ffdbdb"/><rect x="656.32" y="340.50" width="2.07" height="151.70" fill="#fffafa"/><rect x="657.99" y="340.50" width="3.19" height="151.70" fill="#d0ffd0"/><rect x="660.78" y="340.50" width="2.07" height="151.70" fill="#ffdbdb"/><rect x="662.45" y="340.50" width="2.07" height="151.70" fill="#fffafa"/><rect x="664.13" y="340.50" width="2.07" height="151.70" fill="#ffdbdb"/><rect x="665.80" y="340.50" width="2.07" height="151.70" fill="#d0ffd0"/><rect x="667.47" y="340.50" width="2.07" height="151.70" fill="#ffdbdb"/><rect x="669.14" y="340.50" width="2.63" height="151.70" fill="#49ff49"/><rect x="671.38" y="340.50" width="2.07" height="151.70" fill="#ffb1b1"/><rect x="673.05" y="340.50" width="5.42" height="151.70" fill="#49ff49"/><rect x="678.07" y="340.50" width="2.07" height="151.70" fill="#fffafa"/><rect x="679.74" y="340.50" width="1.52" height="151.70" fill="#ffdbdb"/><rect x="680.86" y="340.50" width="2.63" height="151.70" fill="#d0ffd0"/><rect x="683.09" y="340.50" width="4.30" height="151.70" fill="#ffb1b1"/><rect x="686.99" y="340.50" width="2.63" height="151.70" fill="#fffafa"/><rect x="689.22" y="340.50" width="3.19" height="151.70" fill="#ffb1b1"/><rect x="692.01" y="340.50" width="2.63" height="151.70" fill="#ffdbdb"/><rect x="694.24" y="340.50" width="2.07" height="151.70" fill="#fffafa"/><rect x="695.91" y="340.50" width="2.07" height="151.70" fill="#ffdbdb"/><rect x="697.58" y="340.50" width="2.63" height="151.70" fill="#ff1f1f"/><rect x="699.81" y="340.50" width="1.52" height="151.70" fill="#fffafa"/><rect x="700.93" y="340.50" width="2.63" height="151.70" fill="#49ff49"/><rect x="703.16" y="340.50" width="2.07" height="151.70" fill="#d0ffd0"/><rect x="704.83" y="340.50" width="2.63" height="151.70" fill="#ffdbdb"/><rect x="707.06" y="340.50" width="4.86" height="151.70" fill="#d0ffd0"/><rect x="711.52" y="340.50" width="2.63" height="151.70" fill="#ffb1b1"/><rect x="713.75" y="340.50" width="2.07" height="151.70" fill="#fffafa"/><rect x="715.43" y="340.50" width="2.07" height="151.70" fill="#d0ffd0"/><rect x="717.10" y="340.50" width="1.74" height="151.70" fill="#ff4949"/><rect x="718.44" y="340.50" width="2.41" height="151.70" fill="#49ff49"/><rect x="720.45" y="340.50" width="2.63" height="151.70" fill="#ffdbdb"/><rect x="722.68" y="340.50" width="5.42" height="151.70" fill="#d0ffd0"/><rect x="727.70" y="340.50" width="4.86" height="151.70" fill="#ffb1b1"/><rect x="732.16" y="340.50" width="3.19" height="151.70" fill="#87ff87"/><rect x="734.94" y="340.50" width="1.52" height="151.70" fill="#fffafa"/><rect x="736.06" y="340.50" width="3.19" height="151.70" fill="#ffdbdb"/><rect x="738.85" y="340.50" width="2.63" height="151.70" fill="#ffb1b1"/><rect x="741.08" y="340.50" width="3.19" height="151.70" fill="#87ff87"/><rect x="743.87" y="340.50" width="3.19" height="151.70" fill="#ffdbdb"/><rect x="746.65" y="340.50" width="2.07" height="151.70" fill="#ffb1b1"/><rect x="748.33" y="340.50" width="2.07" height="151.70" fill="#d0ffd0"/><rect x="750.00" y="340.50" width="3.00" height="151.70" fill="#ffdbdb"/><rect x="752.60" y="340.50" width="1.96" height="151.70" fill="#ffb1b1"/><rect x="754.16" y="340.50" width="1.96" height="151.70" fill="#d0ffd0"/><rect x="755.72" y="340.50" width="1.96" height="151.70" fill="#ffdbdb"/><rect x="757.29" y="340.50" width="5.40" height="151.70" fill="#87ff87"/><rect x="762.28" y="340.50" width="5.81" height="151.70" fill="#ffb1b1"/><rect x="767.70" y="340.50" width="1.65" height="151.70" fill="#ff4949"/><rect x="768.94" y="340.50" width="6.44" height="151.70" fill="#fffafa"/><rect x="774.98" y="340.50" width="1.44" height="151.70" fill="#87ff87"/><rect x="776.02" y="340.50" width="2.48" height="151.70" fill="#ffdbdb"/><rect x="778.10" y="340.50" width="4.04" height="151.70" fill="#d0ffd0"/><rect x="781.75" y="340.50" width="1.96" height="151.70" fill="#ffb1b1"/><rect x="783.31" y="340.50" width="3.00" height="151.70" fill="#d0ffd0"/><rect x="785.91" y="340.50" width="3.00" height="151.70" fill="#ffdbdb"/><rect x="788.51" y="340.50" width="3.00" height="151.70" fill="#49ff49"/><rect x="791.12" y="340.50" width="1.96" height="151.70" fill="#fffafa"/><rect x="792.68" y="340.50" width="3.52" height="151.70" fill="#d0ffd0"/><rect x="795.80" y="340.50" width="2.69" height="151.70" fill="#49ff49"/><rect x="798.09" y="340.50" width="2.27" height="151.70" fill="#d0ffd0"/><rect x="799.96" y="340.50" width="2.48" height="151.70" fill="#87ff87"/><rect x="802.04" y="340.50" width="5.08" height="151.70" fill="#fffafa"/><rect x="806.73" y="340.50" width="2.48" height="151.70" fill="#ffb1b1"/><rect x="808.81" y="340.50" width="1.75" height="151.70" fill="#fffafa"/><rect x="810.16" y="340.50" width="2.48" height="151.70" fill="#ffb1b1"/><rect x="812.25" y="340.50" width="3.21" height="151.70" fill="#fffafa"/><rect x="815.06" y="340.50" width="1.96" height="151.70" fill="#d0ffd0"/><rect x="816.62" y="340.50" width="2.48" height="151.70" fill="#87ff87"/><rect x="818.70" y="340.50" width="4.04" height="151.70" fill="#ffb1b1"/><rect x="822.34" y="340.50" width="2.48" height="151.70" fill="#ffdbdb"/><rect x="824.42" y="340.50" width="1.44" height="151.70" fill="#d0ffd0"/><rect x="825.46" y="340.50" width="2.17" height="151.70" fill="#49ff49"/><rect x="827.23" y="340.50" width="2.27" height="151.70" fill="#fffafa"/><rect x="829.11" y="340.50" width="3.52" height="151.70" fill="#ffb1b1"/><rect x="832.23" y="340.50" width="2.27" height="151.70" fill="#fffafa"/><rect x="834.10" y="340.50" width="2.69" height="151.70" fill="#ffb1b1"/><rect x="836.39" y="340.50" width="7.69" height="151.70" fill="#d0ffd0"/><rect x="843.68" y="340.50" width="2.48" height="151.70" fill="#49ff49"/><rect x="845.76" y="340.50" width="5.08" height="151.70" fill="#d0ffd0"/><rect x="850.45" y="340.50" width="3.52" height="151.70" fill="#ffb1b1"/><rect x="853.57" y="340.50" width="1.44" height="151.70" fill="#ffdbdb"/><rect x="854.61" y="340.50" width="1.96" height="151.70" fill="#d0ffd0"/><rect x="856.17" y="340.50" width="3.00" height="151.70" fill="#fffafa"/><rect x="858.77" y="340.50" width="3.52" height="151.70" fill="#ffb1b1"/><rect x="861.90" y="340.50" width="2.48" height="151.70" fill="#ffdbdb"/><rect x="863.98" y="340.50" width="2.48" height="151.70" fill="#ffb1b1"/><rect x="866.06" y="340.50" width="5.08" height="151.70" fill="#fffafa"/><rect x="870.74" y="340.50" width="2.48" height="151.70" fill="#ffdbdb"/><rect x="872.83" y="340.50" width="2.48" height="151.70" fill="#d0ffd0"/><rect x="874.91" y="340.50" width="3.00" height="151.70" fill="#ffb1b1"/><rect x="877.51" y="340.50" width="2.48" height="151.70" fill="#ffdbdb"/><rect x="879.59" y="340.50" width="4.56" height="151.70" fill="#87ff87"/><rect x="883.75" y="340.50" width="4.04" height="151.70" fill="#ffdbdb"/><rect x="155.80" y="491.60" width="2.18" height="151.70" fill="#ff4949"/><rect x="157.58" y="491.60" width="2.30" height="151.70" fill="#ffdbdb"/><rect x="159.48" y="491.60" width="2.07" height="151.70" fill="#fffafa"/><rect x="161.15" y="491.60" width="5.42" height="151.70" fill="#ffdbdb"/><rect x="166.17" y="491.60" width="3.19" height="151.70" fill="#ff4949"/><rect x="168.96" y="491.60" width="2.07" height="151.70" fill="#ffdbdb"/><rect x="170.63" y="491.60" width="2.63" height="151.70" fill="#fffafa"/><rect x="172.86" y="491.60" width="3.19" height="151.70" fill="#ffdbdb"/><rect x="175.65" y="491.60" width="2.63" height="151.70" fill="#ff4949"/><rect x="177.88" y="491.60" width="2.41" height="151.70" fill="#ffdbdb"/><rect x="179.89" y="491.60" width="8.99" height="151.70" fill="#ffb1b1"/><rect x="188.48" y="491.60" width="3.19" height="151.70" fill="#ffdbdb"/><rect x="191.26" y="491.60" width="2.07" height="151.70" fill="#d0ffd0"/><rect x="192.94" y="491.60" width="2.07" height="151.70" fill="#ffdbdb"/><rect x="194.61" y="491.60" width="2.07" height="151.70" fill="#ffb1b1"/><rect x="196.28" y="491.60" width="2.63" height="151.70" fill="#d0ffd0"/><rect x="198.51" y="491.60" width="3.75" height="151.70" fill="#ffb1b1"/><rect x="201.86" y="491.60" width="2.07" height="151.70" fill="#49ff49"/><rect x="203.53" y="491.60" width="2.07" height="151.70" fill="#fffafa"/><rect x="205.20" y="491.60" width="2.30" height="151.70" fill="#d0ffd0"/><rect x="207.10" y="491.60" width="2.41" height="151.70" fill="#ffdbdb"/><rect x="209.11" y="491.60" width="3.19" height="151.70" fill="#49ff49"/><rect x="211.90" y="491.60" width="3.19" height="151.70" fill="#d0ffd0"/><rect x="214.68" y="491.60" width="4.30" height="151.70" fill="#fffafa"/><rect x="218.59" y="491.60" width="2.63" height="151.70" fill="#ffb1b1"/><rect x="220.82" y="491.60" width="3.19" height="151.70" fill="#fffafa"/><rect x="223.61" y="491.60" width="2.63" height="151.70" fill="#49ff49"/><rect x="225.84" y="491.60" width="2.63" height="151.70" fill="#d0ffd0"/><rect x="228.07" y="491.60" width="2.63" height="151.70" fill="#ffdbdb"/><rect x="230.30" y="491.60" width="2.63" height="151.70" fill="#49ff49"/><rect x="232.53" y="491.60" width="2.07" height="151.70" fill="#fffafa"/><rect x="234.20" y="491.60" width="2.97" height="151.70" fill="#ffb1b1"/><rect x="236.77" y="491.60" width="6.20" height="151.70" fill="#fffafa"/><rect x="242.57" y="491.60" width="2.07" height="151.70" fill="#d0ffd0"/><rect x="244.24" y="491.60" width="3.19" height="151.70" fill="#fffafa"/><rect x="247.03" y="491.60" width="4.30" height="151.70" fill="#d0ffd0"/><rect x="250.93" y="491.60" width="4.30" height="151.70" fill="#ffb1b1"/><rect x="254.83" y="491.60" width="4.86" height="151.70" fill="#87ff87"/><rect x="259.29" y="491.60" width="2.63" height="151.70" fill="#d0ffd0"/><rect x="261.52" y="491.60" width="2.41" height="151.70" fill="#49ff49"/><rect x="263.53" y="491.60" width="5.08" height="151.70" fill="#d0ffd0"/><rect x="268.22" y="491.60" width="2.07" height="151.70" fill="#ffdbdb"/><rect x="269.89" y="491.60" width="3.19" height="151.70" fill="#fffafa"/><rect x="272.68" y="491.60" width="2.63" height="151.70" fill="#ffb1b1"/><rect x="274.91" y="491.60" width="2.63" height="151.70" fill="#ffdbdb"/><rect x="277.14" y="491.60" width="3.19" height="151.70" fill="#ffb1b1"/><rect x="279.93" y="491.60" width="4.30" height="151.70" fill="#49ff49"/><rect x="283.83" y="491.60" width="2.07" height="151.70" fill="#d0ffd0"/><rect x="285.50" y="491.60" width="2.07" height="151.70" fill="#ffb1b1"/><rect x="287.17" y="491.60" width="2.63" height="151.70" fill="#d0ffd0"/><rect x="289.41" y="491.60" width="2.07" height="151.70" fill="#ffb1b1"/><rect x="291.08" y="491.60" width="4.30" height="151.70" fill="#ffdbdb"/><rect x="294.98" y="491.60" width="2.63" height="151.70" fill="#49ff49"/><rect x="297.21" y="491.60" width="3.19" height="151.70" fill="#ffb1b1"/><rect x="300.00" y="491.60" width="2.41" height="151.70" fill="#49ff49"/><rect x="302.01" y="491.60" width="2.63" height="151.70" fill="#ffdbdb"/><rect x="304.24" y="491.60" width="3.08" height="151.70" fill="#ffb1b1"/><rect x="306.91" y="491.60" width="2.41" height="151.70" fill="#d0ffd0"/><rect x="308.92" y="491.60" width="2.63" height="151.70" fill="#ffb1b1"/><rect x="311.15" y="491.60" width="1.52" height="151.70" fill="#87ff87"/><rect x="312.27" y="491.60" width="2.07" height="151.70" fill="#fffafa"/><rect x="313.94" y="491.60" width="3.19" height="151.70" fill="#ffdbdb"/><rect x="316.73" y="491.60" width="2.07" height="151.70" fill="#ffb1b1"/><rect x="318.40" y="491.60" width="1.52" height="151.70" fill="#fffafa"/><rect x="319.52" y="491.60" width="2.07" height="151.70" fill="#ffb1b1"/><rect x="321.19" y="491.60" width="2.63" height="151.70" fill="#fffafa"/><rect x="323.42" y="491.60" width="1.52" height="151.70" fill="#d0ffd0"/><rect x="324.54" y="491.60" width="2.07" height="151.70" fill="#ffdbdb"/><rect x="326.21" y="491.60" width="2.07" height="151.70" fill="#d0ffd0"/><rect x="327.88" y="491.60" width="4.86" height="151.70" fill="#ffb1b1"/><rect x="332.34" y="491.60" width="2.07" height="151.70" fill="#ff4949"/><rect x="334.01" y="491.60" width="2.07" height="151.70" fill="#ffdbdb"/><rect x="335.69" y="491.60" width="2.63" height="151.70" fill="#fffafa"/><rect x="337.92" y="491.60" width="3.52" height="151.70" fill="#ffdbdb"/><rect x="341.04" y="491.60" width="2.30" height="151.70" fill="#49ff49"/><rect x="342.94" y="491.60" width="2.63" height="151.70" fill="#ffb1b1"/><rect x="345.17" y="491.60" width="2.07" height="151.70" fill="#fffafa"/><rect x="346.84" y="491.60" width="2.07" height="151.70" fill="#d0ffd0"/><rect x="348.51" y="491.60" width="1.52" height="151.70" fill="#ffdbdb"/><rect x="349.63" y="491.60" width="3.19" height="151.70" fill="#d0ffd0"/><rect x="352.42" y="491.60" width="3.19" height="151.70" fill="#ffb1b1"/><rect x="355.20" y="491.60" width="1.52" height="151.70" fill="#fffafa"/><rect x="356.32" y="491.60" width="2.07" height="151.70" fill="#d0ffd0"/><rect x="357.99" y="491.60" width="5.98" height="151.70" fill="#ffdbdb"/><rect x="363.57" y="491.60" width="3.19" height="151.70" fill="#fffafa"/><rect x="366.36" y="491.60" width="2.07" height="151.70" fill="#ffb1b1"/><rect x="368.03" y="491.60" width="3.19" height="151.70" fill="#d0ffd0"/><rect x="370.82" y="491.60" width="2.63" height="151.70" fill="#ffdbdb"/><rect x="373.05" y="491.60" width="2.07" height="151.70" fill="#49ff49"/><rect x="374.72" y="491.60" width="2.63" height="151.70" fill="#fffafa"/><rect x="376.95" y="491.60" width="3.19" height="151.70" fill="#ffb1b1"/><rect x="379.74" y="491.60" width="6.53" height="151.70" fill="#87ff87"/><rect x="385.87" y="491.60" width="2.63" height="151.70" fill="#ff4949"/><rect x="388.10" y="491.60" width="1.52" height="151.70" fill="#d0ffd0"/><rect x="389.22" y="491.60" width="4.86" height="151.70" fill="#87ff87"/><rect x="393.68" y="491.60" width="2.07" height="151.70" fill="#ffdbdb"/><rect x="395.35" y="491.60" width="3.75" height="151.70" fill="#49ff49"/><rect x="398.70" y="491.60" width="5.42" height="151.70" fill="#d0ffd0"/><rect x="403.72" y="491.60" width="2.63" height="151.70" fill="#87ff87"/><rect x="405.95" y="491.60" width="3.19" height="151.70" fill="#d0ffd0"/><rect x="408.74" y="491.60" width="9.88" height="151.70" fill="#ffb1b1"/><rect x="418.22" y="491.60" width="2.63" height="151.70" fill="#fffafa"/><rect x="420.45" y="491.60" width="2.63" height="151.70" fill="#ffb1b1"/><rect x="422.68" y="491.60" width="3.75" height="151.70" fill="#ffdbdb"/><rect x="426.02" y="491.60" width="5.98" height="151.70" fill="#fffafa"/><rect x="431.60" y="491.60" width="2.07" height="151.70" fill="#ffdbdb"/><rect x="433.27" y="491.60" width="2.63" height="151.70" fill="#fffafa"/><rect x="435.50" y="491.60" width="5.42" height="151.70" fill="#ffdbdb"/><rect x="440.52" y="491.60" width="3.19" height="151.70" fill="#ffb1b1"/><rect x="443.31" y="491.60" width="2.07" height="151.70" fill="#d0ffd0"/><rect x="444.98" y="491.60" width="3.19" height="151.70" fill="#ffdbdb"/><rect x="447.77" y="491.60" width="2.63" height="151.70" fill="#d0ffd0"/><rect x="450.00" y="491.60" width="2.07" height="151.70" fill="#87ff87"/><rect x="451.67" y="491.60" width="2.07" height="151.70" fill="#ffb1b1"/><rect x="453.35" y="491.60" width="5.42" height="151.70" fill="#87ff87"/><rect x="458.36" y="491.60" width="2.63" height="151.70" fill="#d0ffd0"/><rect x="460.59" y="491.60" width="2.07" height="151.70" fill="#ffdbdb"/><rect x="462.27" y="491.60" width="3.19" height="151.70" fill="#fffafa"/><rect x="465.06" y="491.60" width="3.19" height="151.70" fill="#ffdbdb"/><rect x="467.84" y="491.60" width="2.63" height="151.70" fill="#d0ffd0"/><rect x="470.07" y="491.60" width="2.07" height="151.70" fill="#fffafa"/><rect x="471.75" y="491.60" width="2.63" height="151.70" fill="#d0ffd0"/><rect x="473.98" y="491.60" width="5.42" height="151.70" fill="#fffafa"/><rect x="479.00" y="491.60" width="2.63" height="151.70" fill="#ffb1b1"/><rect x="481.23" y="491.60" width="3.19" height="151.70" fill="#fffafa"/><rect x="484.01" y="491.60" width="2.63" height="151.70" fill="#ffb1b1"/><rect x="486.25" y="491.60" width="1.85" height="151.70" fill="#fffafa"/><rect x="487.70" y="491.60" width="3.41" height="151.70" fill="#ff4949"/><rect x="490.71" y="491.60" width="2.07" height="151.70" fill="#d0ffd0"/><rect x="492.38" y="491.60" width="3.19" height="151.70" fill="#ffdbdb"/><rect x="495.17" y="491.60" width="2.63" height="151.70" fill="#87ff87"/><rect x="497.40" y="491.60" width="2.07" height="151.70" fill="#fffafa"/><rect x="499.07" y="491.60" width="2.07" height="151.70" fill="#ffdbdb"/><rect x="500.74" y="491.60" width="3.75" height="151.70" fill="#ff4949"/><rect x="504.09" y="491.60" width="4.30" height="151.70" fill="#d0ffd0"/><rect x="507.99" y="491.60" width="3.19" height="151.70" fill="#ffb1b1"/><rect x="510.78" y="491.60" width="2.63" height="151.70" fill="#ffdbdb"/><rect x="513.01" y="491.60" width="3.19" height="151.70" fill="#d0ffd0"/><rect x="515.80" y="491.60" width="4.30" height="151.70" fill="#fffafa"/><rect x="519.70" y="491.60" width="3.19" height="151.70" fill="#87ff87"/><rect x="522.49" y="491.60" width="2.07" height="151.70" fill="#ffdbdb"/><rect x="524.16" y="491.60" width="6.53" height="151.70" fill="#87ff87"/><rect x="530.30" y="491.60" width="3.19" height="151.70" fill="#ffdbdb"/><rect x="533.09" y="491.60" width="2.63" height="151.70" fill="#87ff87"/><rect x="535.32" y="491.60" width="4.86" height="151.70" fill="#d0ffd0"/><rect x="539.78" y="491.60" width="2.07" height="151.70" fill="#ffdbdb"/><rect x="541.45" y="491.60" width="2.07" height="151.70" fill="#d0ffd0"/><rect x="543.12" y="491.60" width="3.19" height="151.70" fill="#fffafa"/><rect x="545.91" y="491.60" width="1.52" height="151.70" fill="#d0ffd0"/><rect x="547.03" y="491.60" width="4.30" height="151.70" fill="#ffb1b1"/><rect x="550.93" y="491.60" width="3.19" height="151.70" fill="#ffdbdb"/><rect x="553.72" y="491.60" width="3.19" height="151.70" fill="#ff4949"/><rect x="556.51" y="491.60" width="1.52" height="151.70" fill="#ffb1b1"/><rect x="557.62" y="491.60" width="2.07" height="151.70" fill="#d0ffd0"/><rect x="559.29" y="491.60" width="4.86" height="151.70" fill="#ffb1b1"/><rect x="563.75" y="491.60" width="5.42" height="151.70" fill="#ffdbdb"/><rect x="568.77" y="491.60" width="5.42" height="151.70" fill="#87ff87"/><rect x="573.79" y="491.60" width="5.98" height="151.70" fill="#ffb1b1"/><rect x="579.37" y="491.60" width="2.07" height="151.70" fill="#d0ffd0"/><rect x="581.04" y="491.60" width="4.30" height="151.70" fill="#87ff87"/><rect x="584.94" y="491.60" width="3.19" height="151.70" fill="#ffdbdb"/><rect x="587.73" y="491.60" width="2.63" height="151.70" fill="#ffb1b1"/><rect x="589.96" y="491.60" width="1.85" height="151.70" fill="#49ff49"/><rect x="591.41" y="491.60" width="3.97" height="151.70" fill="#ffb1b1"/><rect x="594.98" y="491.60" width="1.52" height="151.70" fill="#fffafa"/><rect x="596.10" y="491.60" width="2.63" height="151.70" fill="#0aff0a"/><rect x="598.33" y="491.60" width="2.07" height="151.70" fill="#ffb1b1"/><rect x="600.00" y="491.60" width="1.52" height="151.70" fill="#ffb1b1"/><rect x="601.12" y="491.60" width="2.41" height="151.70" fill="#d0ffd0"/><rect x="603.12" y="491.60" width="2.30" height="151.70" fill="#ffb1b1"/><rect x="605.02" y="491.60" width="3.19" height="151.70" fill="#d0ffd0"/><rect x="607.81" y="491.60" width="2.41" height="151.70" fill="#87ff87"/><rect x="609.81" y="491.60" width="3.41" height="151.70" fill="#fffafa"/><rect x="612.83" y="491.60" width="4.30" height="151.70" fill="#ffb1b1"/><rect x="616.73" y="491.60" width="1.52" height="151.70" fill="#ffdbdb"/><rect x="617.84" y="491.60" width="2.63" height="151.70" fill="#d0ffd0"/><rect x="620.07" y="491.60" width="1.74" height="151.70" fill="#fffafa"/><rect x="621.41" y="491.60" width="2.63" height="151.70" fill="#0aff0a"/><rect x="623.64" y="491.60" width="1.85" height="151.70" fill="#fffafa"/><rect x="625.09" y="491.60" width="2.63" height="151.70" fill="#d0ffd0"/><rect x="627.32" y="491.60" width="2.97" height="151.70" fill="#87ff87"/><rect x="629.89" y="491.60" width="3.41" height="151.70" fill="#ffdbdb"/><rect x="632.90" y="491.60" width="4.30" height="151.70" fill="#0aff0a"/><rect x="636.80" y="491.60" width="2.07" height="151.70" fill="#ffb1b1"/><rect x="638.48" y="491.60" width="1.85" height="151.70" fill="#fffafa"/><rect x="639.93" y="491.60" width="5.64" height="151.70" fill="#ffb1b1"/><rect x="645.17" y="491.60" width="2.07" height="151.70" fill="#d0ffd0"/><rect x="646.84" y="491.60" width="2.07" height="151.70" fill="#ffb1b1"/><rect x="648.51" y="491.60" width="2.63" height="151.70" fill="#49ff49"/><rect x="650.74" y="491.60" width="2.07" height="151.70" fill="#ffb1b1"/><rect x="652.42" y="491.60" width="2.07" height="151.70" fill="#d0ffd0"/><rect x="654.09" y="491.60" width="5.98" height="151.70" fill="#ffdbdb"/><rect x="659.67" y="491.60" width="1.52" height="151.70" fill="#d0ffd0"/><rect x="660.78" y="491.60" width="2.07" height="151.70" fill="#87ff87"/><rect x="662.45" y="491.60" width="2.07" height="151.70" fill="#fffafa"/><rect x="664.13" y="491.60" width="3.19" height="151.70" fill="#d0ffd0"/><rect x="666.91" y="491.60" width="2.63" height="151.70" fill="#ffdbdb"/><rect x="669.14" y="491.60" width="2.63" height="151.70" fill="#d0ffd0"/><rect x="671.38" y="491.60" width="2.07" height="151.70" fill="#ffb1b1"/><rect x="673.05" y="491.60" width="3.19" height="151.70" fill="#fffafa"/><rect x="675.84" y="491.60" width="2.63" height="151.70" fill="#d0ffd0"/><rect x="678.07" y="491.60" width="2.63" height="151.70" fill="#ffb1b1"/><rect x="680.30" y="491.60" width="3.19" height="151.70" fill="#ffdbdb"/><rect x="683.09" y="491.60" width="2.07" height="151.70" fill="#d0ffd0"/><rect x="684.76" y="491.60" width="3.75" height="151.70" fill="#fffafa"/><rect x="688.10" y="491.60" width="3.19" height="151.70" fill="#d0ffd0"/><rect x="690.89" y="491.60" width="2.07" height="151.70" fill="#ffdbdb"/><rect x="692.57" y="491.60" width="2.63" height="151.70" fill="#ffb1b1"/><rect x="694.80" y="491.60" width="1.52" height="151.70" fill="#fffafa"/><rect x="695.91" y="491.60" width="2.07" height="151.70" fill="#d0ffd0"/><rect x="697.58" y="491.60" width="3.19" height="151.70" fill="#ffb1b1"/><rect x="700.37" y="491.60" width="1.52" height="151.70" fill="#d0ffd0"/><rect x="701.49" y="491.60" width="2.07" height="151.70" fill="#49ff49"/><rect x="703.16" y="491.60" width="2.63" height="151.70" fill="#ffdbdb"/><rect x="705.39" y="491.60" width="2.63" height="151.70" fill="#d0ffd0"/><rect x="707.62" y="491.60" width="4.30" height="151.70" fill="#fffafa"/><rect x="711.52" y="491.60" width="2.63" height="151.70" fill="#ffb1b1"/><rect x="713.75" y="491.60" width="3.19" height="151.70" fill="#fffafa"/><rect x="716.54" y="491.60" width="2.30" height="151.70" fill="#ff4949"/><rect x="718.44" y="491.60" width="2.41" height="151.70" fill="#49ff49"/><rect x="720.45" y="491.60" width="3.75" height="151.70" fill="#fffafa"/><rect x="723.79" y="491.60" width="2.63" height="151.70" fill="#ffdbdb"/><rect x="726.02" y="491.60" width="2.63" height="151.70" fill="#fffafa"/><rect x="728.25" y="491.60" width="2.07" height="151.70" fill="#d0ffd0"/><rect x="729.93" y="491.60" width="2.63" height="151.70" fill="#ffdbdb"/><rect x="732.16" y="491.60" width="3.19" height="151.70" fill="#87ff87"/><rect x="734.94" y="491.60" width="2.63" height="151.70" fill="#ffdbdb"/><rect x="737.17" y="491.60" width="8.21" height="151.70" fill="#d0ffd0"/><rect x="744.98" y="491.60" width="1.52" height="151.70" fill="#ffdbdb"/><rect x="746.10" y="491.60" width="2.63" height="151.70" fill="#ffb1b1"/><rect x="748.33" y="491.60" width="2.07" height="151.70" fill="#ffdbdb"/><rect x="750.00" y="491.60" width="3.31" height="151.70" fill="#ffdbdb"/><rect x="752.91" y="491.60" width="1.65" height="151.70" fill="#ffb1b1"/><rect x="754.16" y="491.60" width="1.96" height="151.70" fill="#d0ffd0"/><rect x="755.72" y="491.60" width="1.96" height="151.70" fill="#fffafa"/><rect x="757.29" y="491.60" width="2.48" height="151.70" fill="#0aff0a"/><rect x="759.37" y="491.60" width="2.48" height="151.70" fill="#d0ffd0"/><rect x="761.45" y="491.60" width="1.44" height="151.70" fill="#fffafa"/><rect x="762.49" y="491.60" width="6.65" height="151.70" fill="#ffdbdb"/><rect x="768.74" y="491.60" width="3.00" height="151.70" fill="#d0ffd0"/><rect x="771.34" y="491.60" width="3.52" height="151.70" fill="#fffafa"/><rect x="774.46" y="491.60" width="1.96" height="151.70" fill="#49ff49"/><rect x="776.02" y="491.60" width="4.56" height="151.70" fill="#fffafa"/><rect x="780.19" y="491.60" width="1.96" height="151.70" fill="#d0ffd0"/><rect x="781.75" y="491.60" width="1.96" height="151.70" fill="#ffdbdb"/><rect x="783.31" y="491.60" width="3.52" height="151.70" fill="#d0ffd0"/><rect x="786.43" y="491.60" width="1.96" height="151.70" fill="#ffdbdb"/><rect x="787.99" y="491.60" width="3.52" height="151.70" fill="#87ff87"/><rect x="791.12" y="491.60" width="5.08" height="151.70" fill="#fffafa"/><rect x="795.80" y="491.60" width="3.00" height="151.70" fill="#0aff0a"/><rect x="798.40" y="491.60" width="1.96" height="151.70" fill="#ffdbdb"/><rect x="799.96" y="491.60" width="2.48" height="151.70" fill="#d0ffd0"/><rect x="802.04" y="491.60" width="5.08" height="151.70" fill="#fffafa"/><rect x="806.73" y="491.60" width="2.48" height="151.70" fill="#ffdbdb"/><rect x="808.81" y="491.60" width="1.96" height="151.70" fill="#ffb1b1"/><rect x="810.37" y="491.60" width="5.08" height="151.70" fill="#fffafa"/><rect x="815.06" y="491.60" width="3.52" height="151.70" fill="#87ff87"/><rect x="818.18" y="491.60" width="1.44" height="151.70" fill="#ffdbdb"/><rect x="819.22" y="491.60" width="4.04" height="151.70" fill="#ffb1b1"/><rect x="822.86" y="491.60" width="2.48" height="151.70" fill="#ffdbdb"/><rect x="824.94" y="491.60" width="3.00" height="151.70" fill="#0aff0a"/><rect x="827.55" y="491.60" width="2.48" height="151.70" fill="#fffafa"/><rect x="829.63" y="491.60" width="3.00" height="151.70" fill="#ffdbdb"/><rect x="832.23" y="491.60" width="2.27" height="151.70" fill="#87ff87"/><rect x="834.10" y="491.60" width="2.69" height="151.70" fill="#ffb1b1"/><rect x="836.39" y="491.60" width="10.81" height="151.70" fill="#d0ffd0"/><rect x="846.80" y="491.60" width="1.96" height="151.70" fill="#fffafa"/><rect x="848.36" y="491.60" width="9.25" height="151.70" fill="#ffdbdb"/><rect x="857.21" y="491.60" width="4.56" height="151.70" fill="#ffb1b1"/><rect x="861.38" y="491.60" width="4.56" height="151.70" fill="#ffdbdb"/><rect x="865.54" y="491.60" width="2.48" height="151.70" fill="#fffafa"/><rect x="867.62" y="491.60" width="7.69" height="151.70" fill="#ffdbdb"/><rect x="874.91" y="491.60" width="3.00" height="151.70" fill="#ffb1b1"/><rect x="877.51" y="491.60" width="2.48" height="151.70" fill="#fffafa"/><rect x="879.59" y="491.60" width="3.52" height="151.70" fill="#87ff87"/><rect x="882.71" y="491.60" width="1.44" height="151.70" fill="#fffafa"/><rect x="883.75" y="491.60" width="1.96" height="151.70" fill="#ffdbdb"/><rect x="885.32" y="491.60" width="2.48" height="151.70" fill="#fffafa"/><rect x="155.80" y="642.70" width="1.85" height="151.70" fill="#ffdbdb"/><rect x="157.25" y="642.70" width="2.63" height="151.70" fill="#ff1f1f"/><rect x="159.48" y="642.70" width="2.07" height="151.70" fill="#ffdbdb"/><rect x="161.15" y="642.70" width="3.19" height="151.70" fill="#ff4949"/><rect x="163.94" y="642.70" width="2.63" height="151.70" fill="#ff1f1f"/><rect x="166.17" y="642.70" width="3.19" height="151.70" fill="#ffb1b1"/><rect x="168.96" y="642.70" width="2.63" height="151.70" fill="#ff1f1f"/><rect x="171.19" y="642.70" width="5.42" height="151.70" fill="#ffb1b1"/><rect x="176.21" y="642.70" width="1.52" height="151.70" fill="#ffdbdb"/><rect x="177.32" y="642.70" width="11.55" height="151.70" fill="#ffb1b1"/><rect x="188.48" y="642.70" width="1.85" height="151.70" fill="#ffdbdb"/><rect x="189.93" y="642.70" width="2.30" height="151.70" fill="#fffafa"/><rect x="191.82" y="642.70" width="2.63" height="151.70" fill="#ffb1b1"/><rect x="194.05" y="642.70" width="2.07" height="151.70" fill="#ff4949"/><rect x="195.72" y="642.70" width="0.96" height="151.70" fill="#fffafa"/><rect x="196.28" y="642.70" width="2.63" height="151.70" fill="#87ff87"/><rect x="198.51" y="642.70" width="4.86" height="151.70" fill="#fffafa"/><rect x="202.97" y="642.70" width="2.63" height="151.70" fill="#87ff87"/><rect x="205.20" y="642.70" width="2.07" height="151.70" fill="#fffafa"/><rect x="206.88" y="642.70" width="2.63" height="151.70" fill="#ffb1b1"/><rect x="209.11" y="642.70" width="3.19" height="151.70" fill="#0aff0a"/><rect x="211.90" y="642.70" width="2.07" height="151.70" fill="#ffdbdb"/><rect x="213.57" y="642.70" width="2.63" height="151.70" fill="#d0ffd0"/><rect x="215.80" y="642.70" width="2.07" height="151.70" fill="#ffb1b1"/><rect x="217.47" y="642.70" width="3.19" height="151.70" fill="#fffafa"/><rect x="220.26" y="642.70" width="1.52" height="151.70" fill="#d0ffd0"/><rect x="221.38" y="642.70" width="2.63" height="151.70" fill="#ffb1b1"/><rect x="223.61" y="642.70" width="4.86" height="151.70" fill="#d0ffd0"/><rect x="228.07" y="642.70" width="2.07" height="151.70" fill="#ffb1b1"/><rect x="229.74" y="642.70" width="1.52" height="151.70" fill="#d0ffd0"/><rect x="230.86" y="642.70" width="2.07" height="151.70" fill="#87ff87"/><rect x="232.53" y="642.70" width="2.63" height="151.70" fill="#fffafa"/><rect x="234.76" y="642.70" width="2.07" height="151.70" fill="#ffb1b1"/><rect x="236.43" y="642.70" width="7.65" height="151.70" fill="#ffdbdb"/><rect x="243.68" y="642.70" width="6.53" height="151.70" fill="#d0ffd0"/><rect x="249.81" y="642.70" width="1.52" height="151.70" fill="#ffb1b1"/><rect x="250.93" y="642.70" width="4.30" height="151.70" fill="#fffafa"/><rect x="254.83" y="642.70" width="3.19" height="151.70" fill="#d0ffd0"/><rect x="257.62" y="642.70" width="2.07" height="151.70" fill="#49ff49"/><rect x="259.29" y="642.70" width="2.63" height="151.70" fill="#fffafa"/><rect x="261.52" y="642.70" width="5.42" height="151.70" fill="#87ff87"/><rect x="266.54" y="642.70" width="4.30" height="151.70" fill="#fffafa"/><rect x="270.45" y="642.70" width="3.75" height="151.70" fill="#ffdbdb"/><rect x="273.79" y="642.70" width="3.75" height="151.70" fill="#fffafa"/><rect x="277.14" y="642.70" width="3.19" height="151.70" fill="#ffdbdb"/><rect x="279.93" y="642.70" width="2.07" height="151.70" fill="#ffb1b1"/><rect x="281.60" y="642.70" width="2.63" height="151.70" fill="#d0ffd0"/><rect x="283.83" y="642.70" width="3.19" height="151.70" fill="#87ff87"/><rect x="286.62" y="642.70" width="2.63" height="151.70" fill="#ffdbdb"/><rect x="288.85" y="642.70" width="3.75" height="151.70" fill="#d0ffd0"/><rect x="292.19" y="642.70" width="2.63" height="151.70" fill="#ffdbdb"/><rect x="294.42" y="642.70" width="3.75" height="151.70" fill="#d0ffd0"/><rect x="297.77" y="642.70" width="2.63" height="151.70" fill="#ffb1b1"/><rect x="300.00" y="642.70" width="1.52" height="151.70" fill="#d0ffd0"/><rect x="301.12" y="642.70" width="1.52" height="151.70" fill="#fffafa"/><rect x="302.23" y="642.70" width="2.63" height="151.70" fill="#ffb1b1"/><rect x="304.46" y="642.70" width="0.96" height="151.70" fill="#ffdbdb"/><rect x="305.02" y="642.70" width="2.30" height="151.70" fill="#ffb1b1"/><rect x="306.91" y="642.70" width="2.41" height="151.70" fill="#87ff87"/><rect x="308.92" y="642.70" width="2.63" height="151.70" fill="#ffb1b1"/><rect x="311.15" y="642.70" width="5.98" height="151.70" fill="#ffdbdb"/><rect x="316.73" y="642.70" width="1.52" height="151.70" fill="#fffafa"/><rect x="317.84" y="642.70" width="1.74" height="151.70" fill="#87ff87"/><rect x="319.18" y="642.70" width="2.97" height="151.70" fill="#fffafa"/><rect x="321.75" y="642.70" width="2.63" height="151.70" fill="#d0ffd0"/><rect x="323.98" y="642.70" width="2.07" height="151.70" fill="#fffafa"/><rect x="325.65" y="642.70" width="2.07" height="151.70" fill="#d0ffd0"/><rect x="327.32" y="642.70" width="2.07" height="151.70" fill="#ffdbdb"/><rect x="329.00" y="642.70" width="3.19" height="151.70" fill="#ff4949"/><rect x="331.78" y="642.70" width="6.53" height="151.70" fill="#fffafa"/><rect x="337.92" y="642.70" width="1.52" height="151.70" fill="#ffdbdb"/><rect x="339.03" y="642.70" width="2.07" height="151.70" fill="#d0ffd0"/><rect x="340.71" y="642.70" width="2.63" height="151.70" fill="#87ff87"/><rect x="342.94" y="642.70" width="2.63" height="151.70" fill="#ffb1b1"/><rect x="345.17" y="642.70" width="3.19" height="151.70" fill="#d0ffd0"/><rect x="347.96" y="642.70" width="2.63" height="151.70" fill="#ffb1b1"/><rect x="350.19" y="642.70" width="2.07" height="151.70" fill="#fffafa"/><rect x="351.86" y="642.70" width="3.19" height="151.70" fill="#ffb1b1"/><rect x="354.65" y="642.70" width="2.07" height="151.70" fill="#ffdbdb"/><rect x="356.32" y="642.70" width="4.86" height="151.70" fill="#87ff87"/><rect x="360.78" y="642.70" width="1.52" height="151.70" fill="#d0ffd0"/><rect x="361.90" y="642.70" width="2.07" height="151.70" fill="#fffafa"/><rect x="363.57" y="642.70" width="2.07" height="151.70" fill="#ffdbdb"/><rect x="365.24" y="642.70" width="4.30" height="151.70" fill="#d0ffd0"/><rect x="369.14" y="642.70" width="1.52" height="151.70" fill="#fffafa"/><rect x="370.26" y="642.70" width="2.63" height="151.70" fill="#ffdbdb"/><rect x="372.49" y="642.70" width="3.19" height="151.70" fill="#d0ffd0"/><rect x="375.28" y="642.70" width="4.86" height="151.70" fill="#fffafa"/><rect x="379.74" y="642.70" width="5.98" height="151.70" fill="#0aff0a"/><rect x="385.32" y="642.70" width="2.07" height="151.70" fill="#ff4949"/><rect x="386.99" y="642.70" width="2.07" height="151.70" fill="#fffafa"/><rect x="388.66" y="642.70" width="2.07" height="151.70" fill="#87ff87"/><rect x="390.33" y="642.70" width="2.07" height="151.70" fill="#fffafa"/><rect x="392.01" y="642.70" width="2.07" height="151.70" fill="#d0ffd0"/><rect x="393.68" y="642.70" width="2.07" height="151.70" fill="#ffdbdb"/><rect x="395.35" y="642.70" width="2.07" height="151.70" fill="#d0ffd0"/><rect x="397.03" y="642.70" width="1.52" height="151.70" fill="#87ff87"/><rect x="398.14" y="642.70" width="2.63" height="151.70" fill="#fffafa"/><rect x="400.37" y="642.70" width="1.52" height="151.70" fill="#ffdbdb"/><rect x="401.49" y="642.70" width="2.63" height="151.70" fill="#fffafa"/><rect x="403.72" y="642.70" width="3.19" height="151.70" fill="#d0ffd0"/><rect x="406.51" y="642.70" width="2.07" height="151.70" fill="#ffdbdb"/><rect x="408.18" y="642.70" width="2.63" height="151.70" fill="#ffb1b1"/><rect x="410.41" y="642.70" width="2.63" height="151.70" fill="#ffdbdb"/><rect x="412.64" y="642.70" width="1.52" height="151.70" fill="#fffafa"/><rect x="413.75" y="642.70" width="7.09" height="151.70" fill="#ffb1b1"/><rect x="420.45" y="642.70" width="2.63" height="151.70" fill="#d0ffd0"/><rect x="422.68" y="642.70" width="3.19" height="151.70" fill="#ffdbdb"/><rect x="425.46" y="642.70" width="3.19" height="151.70" fill="#d0ffd0"/><rect x="428.25" y="642.70" width="5.98" height="151.70" fill="#fffafa"/><rect x="433.83" y="642.70" width="2.63" height="151.70" fill="#87ff87"/><rect x="436.06" y="642.70" width="4.30" height="151.70" fill="#ffdbdb"/><rect x="439.96" y="642.70" width="4.86" height="151.70" fill="#ffb1b1"/><rect x="444.42" y="642.70" width="1.52" height="151.70" fill="#fffafa"/><rect x="445.54" y="642.70" width="2.63" height="151.70" fill="#ffb1b1"/><rect x="447.77" y="642.70" width="2.63" height="151.70" fill="#d0ffd0"/><rect x="450.00" y="642.70" width="2.63" height="151.70" fill="#d0ffd0"/><rect x="452.23" y="642.70" width="1.52" height="151.70" fill="#fffafa"/><rect x="453.35" y="642.70" width="3.19" height="151.70" fill="#d0ffd0"/><rect x="456.13" y="642.70" width="1.52" height="151.70" fill="#fffafa"/><rect x="457.25" y="642.70" width="4.30" height="151.70" fill="#d0ffd0"/><rect x="461.15" y="642.70" width="2.07" height="151.70" fill="#fffafa"/><rect x="462.83" y="642.70" width="2.63" height="151.70" fill="#ffdbdb"/><rect x="465.06" y="642.70" width="3.19" height="151.70" fill="#ffb1b1"/><rect x="467.84" y="642.70" width="4.30" height="151.70" fill="#d0ffd0"/><rect x="471.75" y="642.70" width="2.63" height="151.70" fill="#ff4949"/><rect x="473.98" y="642.70" width="3.19" height="151.70" fill="#ffb1b1"/><rect x="476.77" y="642.70" width="5.98" height="151.70" fill="#fffafa"/><rect x="482.34" y="642.70" width="2.07" height="151.70" fill="#d0ffd0"/><rect x="484.01" y="642.70" width="3.19" height="151.70" fill="#fffafa"/><rect x="486.80" y="642.70" width="4.30" height="151.70" fill="#ffdbdb"/><rect x="490.71" y="642.70" width="3.75" height="151.70" fill="#d0ffd0"/><rect x="494.05" y="642.70" width="1.52" height="151.70" fill="#fffafa"/><rect x="495.17" y="642.70" width="2.07" height="151.70" fill="#87ff87"/><rect x="496.84" y="642.70" width="2.63" height="151.70" fill="#fffafa"/><rect x="499.07" y="642.70" width="2.63" height="151.70" fill="#ffb1b1"/><rect x="501.30" y="642.70" width="3.75" height="151.70" fill="#fffafa"/><rect x="504.65" y="642.70" width="3.75" height="151.70" fill="#d0ffd0"/><rect x="507.99" y="642.70" width="5.98" height="151.70" fill="#ffdbdb"/><rect x="513.57" y="642.70" width="7.09" height="151.70" fill="#fffafa"/><rect x="520.26" y="642.70" width="2.63" height="151.70" fill="#d0ffd0"/><rect x="522.49" y="642.70" width="2.41" height="151.70" fill="#ffb1b1"/><rect x="524.50" y="642.70" width="3.97" height="151.70" fill="#d0ffd0"/><rect x="528.07" y="642.70" width="3.19" height="151.70" fill="#fffafa"/><rect x="530.86" y="642.70" width="2.63" height="151.70" fill="#ff4949"/><rect x="533.09" y="642.70" width="2.63" height="151.70" fill="#87ff87"/><rect x="535.32" y="642.70" width="2.07" height="151.70" fill="#d0ffd0"/><rect x="536.99" y="642.70" width="3.19" height="151.70" fill="#fffafa"/><rect x="539.78" y="642.70" width="2.63" height="151.70" fill="#ffb1b1"/><rect x="542.01" y="642.70" width="3.19" height="151.70" fill="#fffafa"/><rect x="544.80" y="642.70" width="2.63" height="151.70" fill="#0aff0a"/><rect x="547.03" y="642.70" width="2.63" height="151.70" fill="#fffafa"/><rect x="549.26" y="642.70" width="2.07" height="151.70" fill="#d0ffd0"/><rect x="550.93" y="642.70" width="3.19" height="151.70" fill="#fffafa"/><rect x="553.72" y="642.70" width="4.86" height="151.70" fill="#ffb1b1"/><rect x="558.18" y="642.70" width="2.63" height="151.70" fill="#ff4949"/><rect x="560.41" y="642.70" width="1.52" height="151.70" fill="#ffdbdb"/><rect x="561.52" y="642.70" width="5.98" height="151.70" fill="#d0ffd0"/><rect x="567.10" y="642.70" width="2.07" height="151.70" fill="#ffdbdb"/><rect x="568.77" y="642.70" width="2.63" height="151.70" fill="#87ff87"/><rect x="571.00" y="642.70" width="1.52" height="151.70" fill="#fffafa"/><rect x="572.12" y="642.70" width="2.07" height="151.70" fill="#87ff87"/><rect x="573.79" y="642.70" width="2.63" height="151.70" fill="#ffdbdb"/><rect x="576.02" y="642.70" width="3.19" height="151.70" fill="#fffafa"/><rect x="578.81" y="642.70" width="4.30" height="151.70" fill="#ffdbdb"/><rect x="582.71" y="642.70" width="2.07" height="151.70" fill="#49ff49"/><rect x="584.39" y="642.70" width="1.52" height="151.70" fill="#d0ffd0"/><rect x="585.50" y="642.70" width="2.63" height="151.70" fill="#ffb1b1"/><rect x="587.73" y="642.70" width="2.07" height="151.70" fill="#fffafa"/><rect x="589.41" y="642.70" width="2.41" height="151.70" fill="#49ff49"/><rect x="591.41" y="642.70" width="5.08" height="151.70" fill="#ffdbdb"/><rect x="596.10" y="642.70" width="2.63" height="151.70" fill="#87ff87"/><rect x="598.33" y="642.70" width="2.07" height="151.70" fill="#d0ffd0"/><rect x="600.00" y="642.70" width="1.52" height="151.70" fill="#87ff87"/><rect x="601.12" y="642.70" width="2.07" height="151.70" fill="#fffafa"/><rect x="602.79" y="642.70" width="3.19" height="151.70" fill="#ffdbdb"/><rect x="605.58" y="642.70" width="2.63" height="151.70" fill="#fffafa"/><rect x="607.81" y="642.70" width="2.63" height="151.70" fill="#87ff87"/><rect x="610.04" y="642.70" width="2.41" height="151.70" fill="#ffb1b1"/><rect x="612.04" y="642.70" width="2.85" height="151.70" fill="#fffafa"/><rect x="614.50" y="642.70" width="5.42" height="151.70" fill="#d0ffd0"/><rect x="619.52" y="642.70" width="2.07" height="151.70" fill="#ffb1b1"/><rect x="621.19" y="642.70" width="2.63" height="151.70" fill="#87ff87"/><rect x="623.42" y="642.70" width="2.07" height="151.70" fill="#ffb1b1"/><rect x="625.09" y="642.70" width="3.19" height="151.70" fill="#87ff87"/><rect x="627.88" y="642.70" width="5.08" height="151.70" fill="#fffafa"/><rect x="632.57" y="642.70" width="2.97" height="151.70" fill="#0aff0a"/><rect x="635.13" y="642.70" width="2.07" height="151.70" fill="#fffafa"/><rect x="636.80" y="642.70" width="2.63" height="151.70" fill="#87ff87"/><rect x="639.03" y="642.70" width="3.19" height="151.70" fill="#d0ffd0"/><rect x="641.82" y="642.70" width="3.19" height="151.70" fill="#ffdbdb"/><rect x="644.61" y="642.70" width="2.63" height="151.70" fill="#fffafa"/><rect x="646.84" y="642.70" width="2.63" height="151.70" fill="#ffb1b1"/><rect x="649.07" y="642.70" width="2.07" height="151.70" fill="#d0ffd0"/><rect x="650.74" y="642.70" width="2.07" height="151.70" fill="#ffb1b1"/><rect x="652.42" y="642.70" width="2.63" height="151.70" fill="#fffafa"/><rect x="654.65" y="642.70" width="3.75" height="151.70" fill="#ffdbdb"/><rect x="657.99" y="642.70" width="1.52" height="151.70" fill="#d0ffd0"/><rect x="659.11" y="642.70" width="3.75" height="151.70" fill="#87ff87"/><rect x="662.45" y="642.70" width="3.75" height="151.70" fill="#ffdbdb"/><rect x="665.80" y="642.70" width="1.52" height="151.70" fill="#fffafa"/><rect x="666.91" y="642.70" width="2.07" height="151.70" fill="#d0ffd0"/><rect x="668.59" y="642.70" width="2.63" height="151.70" fill="#87ff87"/><rect x="670.82" y="642.70" width="3.19" height="151.70" fill="#ffdbdb"/><rect x="673.61" y="642.70" width="1.29" height="151.70" fill="#ffb1b1"/><rect x="674.50" y="642.70" width="3.75" height="151.70" fill="#0aff0a"/><rect x="677.84" y="642.70" width="2.30" height="151.70" fill="#fffafa"/><rect x="679.74" y="642.70" width="1.52" height="151.70" fill="#ffdbdb"/><rect x="680.86" y="642.70" width="2.07" height="151.70" fill="#d0ffd0"/><rect x="682.53" y="642.70" width="3.75" height="151.70" fill="#ffb1b1"/><rect x="685.87" y="642.70" width="1.52" height="151.70" fill="#ffdbdb"/><rect x="686.99" y="642.70" width="2.63" height="151.70" fill="#87ff87"/><rect x="689.22" y="642.70" width="4.86" height="151.70" fill="#fffafa"/><rect x="693.68" y="642.70" width="2.63" height="151.70" fill="#ff4949"/><rect x="695.91" y="642.70" width="2.07" height="151.70" fill="#fffafa"/><rect x="697.58" y="642.70" width="3.19" height="151.70" fill="#ffdbdb"/><rect x="700.37" y="642.70" width="3.19" height="151.70" fill="#87ff87"/><rect x="703.16" y="642.70" width="3.19" height="151.70" fill="#ff4949"/><rect x="705.95" y="642.70" width="2.07" height="151.70" fill="#ffb1b1"/><rect x="707.62" y="642.70" width="2.07" height="151.70" fill="#fffafa"/><rect x="709.29" y="642.70" width="2.63" height="151.70" fill="#d0ffd0"/><rect x="711.52" y="642.70" width="5.42" height="151.70" fill="#ffdbdb"/><rect x="716.54" y="642.70" width="2.07" height="151.70" fill="#ffb1b1"/><rect x="718.22" y="642.70" width="2.07" height="151.70" fill="#d0ffd0"/><rect x="719.89" y="642.70" width="2.07" height="151.70" fill="#ffdbdb"/><rect x="721.56" y="642.70" width="2.07" height="151.70" fill="#ff4949"/><rect x="723.23" y="642.70" width="7.09" height="151.70" fill="#fffafa"/><rect x="729.93" y="642.70" width="4.30" height="151.70" fill="#ffb1b1"/><rect x="733.83" y="642.70" width="1.52" height="151.70" fill="#49ff49"/><rect x="734.94" y="642.70" width="2.63" height="151.70" fill="#fffafa"/><rect x="737.17" y="642.70" width="4.30" height="151.70" fill="#ffdbdb"/><rect x="741.08" y="642.70" width="3.19" height="151.70" fill="#49ff49"/><rect x="743.87" y="642.70" width="6.53" height="151.70" fill="#ffdbdb"/><rect x="750.00" y="642.70" width="3.00" height="151.70" fill="#fffafa"/><rect x="752.60" y="642.70" width="1.96" height="151.70" fill="#ff4949"/><rect x="754.16" y="642.70" width="1.96" height="151.70" fill="#87ff87"/><rect x="755.72" y="642.70" width="1.96" height="151.70" fill="#fffafa"/><rect x="757.29" y="642.70" width="1.96" height="151.70" fill="#d0ffd0"/><rect x="758.85" y="642.70" width="2.48" height="151.70" fill="#49ff49"/><rect x="760.93" y="642.70" width="3.00" height="151.70" fill="#fffafa"/><rect x="763.53" y="642.70" width="2.48" height="151.70" fill="#ffdbdb"/><rect x="765.61" y="642.70" width="6.65" height="151.70" fill="#ffb1b1"/><rect x="771.86" y="642.70" width="1.44" height="151.70" fill="#fffafa"/><rect x="772.90" y="642.70" width="3.00" height="151.70" fill="#d0ffd0"/><rect x="775.50" y="642.70" width="2.48" height="151.70" fill="#ff1f1f"/><rect x="777.58" y="642.70" width="3.52" height="151.70" fill="#fffafa"/><rect x="780.71" y="642.70" width="0.92" height="151.70" fill="#d0ffd0"/><rect x="781.23" y="642.70" width="2.27" height="151.70" fill="#ffb1b1"/><rect x="783.10" y="642.70" width="5.29" height="151.70" fill="#d0ffd0"/><rect x="787.99" y="642.70" width="1.13" height="151.70" fill="#fffafa"/><rect x="788.72" y="642.70" width="3.31" height="151.70" fill="#87ff87"/><rect x="791.64" y="642.70" width="2.48" height="151.70" fill="#fffafa"/><rect x="793.72" y="642.70" width="3.00" height="151.70" fill="#ffb1b1"/><rect x="796.32" y="642.70" width="1.44" height="151.70" fill="#fffafa"/><rect x="797.36" y="642.70" width="3.00" height="151.70" fill="#ffdbdb"/><rect x="799.96" y="642.70" width="2.48" height="151.70" fill="#0aff0a"/><rect x="802.04" y="642.70" width="1.96" height="151.70" fill="#ffb1b1"/><rect x="803.61" y="642.70" width="1.44" height="151.70" fill="#fffafa"/><rect x="804.65" y="642.70" width="3.00" height="151.70" fill="#87ff87"/><rect x="807.25" y="642.70" width="3.00" height="151.70" fill="#fffafa"/><rect x="809.85" y="642.70" width="4.56" height="151.70" fill="#ffdbdb"/><rect x="814.01" y="642.70" width="5.08" height="151.70" fill="#d0ffd0"/><rect x="818.70" y="642.70" width="5.08" height="151.70" fill="#fffafa"/><rect x="823.38" y="642.70" width="1.96" height="151.70" fill="#ffb1b1"/><rect x="824.94" y="642.70" width="3.00" height="151.70" fill="#0aff0a"/><rect x="827.55" y="642.70" width="2.48" height="151.70" fill="#fffafa"/><rect x="829.63" y="642.70" width="4.04" height="151.70" fill="#ffdbdb"/><rect x="833.27" y="642.70" width="1.96" height="151.70" fill="#d0ffd0"/><rect x="834.83" y="642.70" width="2.48" height="151.70" fill="#ff4949"/><rect x="836.91" y="642.70" width="4.04" height="151.70" fill="#fffafa"/><rect x="840.56" y="642.70" width="2.48" height="151.70" fill="#87ff87"/><rect x="842.64" y="642.70" width="1.44" height="151.70" fill="#fffafa"/><rect x="843.68" y="642.70" width="2.48" height="151.70" fill="#87ff87"/><rect x="845.76" y="642.70" width="4.04" height="151.70" fill="#fffafa"/><rect x="849.41" y="642.70" width="2.48" height="151.70" fill="#ffb1b1"/><rect x="851.49" y="642.70" width="7.69" height="151.70" fill="#ffdbdb"/><rect x="858.77" y="642.70" width="3.00" height="151.70" fill="#ff1f1f"/><rect x="861.38" y="642.70" width="2.48" height="151.70" fill="#fffafa"/><rect x="863.46" y="642.70" width="2.48" height="151.70" fill="#d0ffd0"/><rect x="865.54" y="642.70" width="3.00" height="151.70" fill="#87ff87"/><rect x="868.14" y="642.70" width="3.00" height="151.70" fill="#fffafa"/><rect x="870.74" y="642.70" width="3.52" height="151.70" fill="#ffb1b1"/><rect x="873.87" y="642.70" width="4.04" height="151.70" fill="#ffdbdb"/><rect x="877.51" y="642.70" width="2.48" height="151.70" fill="#ff4949"/><rect x="879.59" y="642.70" width="5.60" height="151.70" fill="#d0ffd0"/><rect x="884.80" y="642.70" width="3.00" height="151.70" fill="#87ff87"/><rect x="155.80" y="793.80" width="4.41" height="151.10" fill="#ff4949"/><rect x="159.81" y="793.80" width="1.74" height="151.10" fill="#fffafa"/><rect x="161.15" y="793.80" width="3.19" height="151.10" fill="#ffdbdb"/><rect x="163.94" y="793.80" width="2.63" height="151.10" fill="#ffb1b1"/><rect x="166.17" y="793.80" width="2.97" height="151.10" fill="#ff1f1f"/><rect x="168.74" y="793.80" width="2.30" height="151.10" fill="#ff4949"/><rect x="170.63" y="793.80" width="2.63" height="151.10" fill="#fffafa"/><rect x="172.86" y="793.80" width="1.85" height="151.10" fill="#ffb1b1"/><rect x="174.31" y="793.80" width="1.52" height="151.10" fill="#fffafa"/><rect x="175.43" y="793.80" width="2.85" height="151.10" fill="#ff4949"/><rect x="177.88" y="793.80" width="2.07" height="151.10" fill="#fffafa"/><rect x="179.55" y="793.80" width="3.19" height="151.10" fill="#ff1f1f"/><rect x="182.34" y="793.80" width="4.86" height="151.10" fill="#ff4949"/><rect x="186.80" y="793.80" width="3.19" height="151.10" fill="#ffdbdb"/><rect x="189.59" y="793.80" width="4.30" height="151.10" fill="#d0ffd0"/><rect x="193.49" y="793.80" width="2.63" height="151.10" fill="#ffdbdb"/><rect x="195.72" y="793.80" width="1.29" height="151.10" fill="#ffb1b1"/><rect x="196.62" y="793.80" width="2.30" height="151.10" fill="#49ff49"/><rect x="198.51" y="793.80" width="3.19" height="151.10" fill="#fffafa"/><rect x="201.30" y="793.80" width="3.75" height="151.10" fill="#d0ffd0"/><rect x="204.65" y="793.80" width="2.63" height="151.10" fill="#87ff87"/><rect x="206.88" y="793.80" width="1.52" height="151.10" fill="#fffafa"/><rect x="207.99" y="793.80" width="2.07" height="151.10" fill="#ffb1b1"/><rect x="209.67" y="793.80" width="2.63" height="151.10" fill="#fffafa"/><rect x="211.90" y="793.80" width="2.63" height="151.10" fill="#ffb1b1"/><rect x="214.13" y="793.80" width="2.63" height="151.10" fill="#d0ffd0"/><rect x="216.36" y="793.80" width="3.19" height="151.10" fill="#fffafa"/><rect x="219.14" y="793.80" width="2.63" height="151.10" fill="#ffb1b1"/><rect x="221.38" y="793.80" width="2.63" height="151.10" fill="#fffafa"/><rect x="223.61" y="793.80" width="2.63" height="151.10" fill="#87ff87"/><rect x="225.84" y="793.80" width="2.07" height="151.10" fill="#fffafa"/><rect x="227.51" y="793.80" width="2.63" height="151.10" fill="#ffdbdb"/><rect x="229.74" y="793.80" width="1.52" height="151.10" fill="#d0ffd0"/><rect x="230.86" y="793.80" width="2.63" height="151.10" fill="#49ff49"/><rect x="233.09" y="793.80" width="2.07" height="151.10" fill="#fffafa"/><rect x="234.76" y="793.80" width="2.07" height="151.10" fill="#ffb1b1"/><rect x="236.43" y="793.80" width="3.19" height="151.10" fill="#fffafa"/><rect x="239.22" y="793.80" width="2.07" height="151.10" fill="#ffdbdb"/><rect x="240.89" y="793.80" width="7.09" height="151.10" fill="#d0ffd0"/><rect x="247.58" y="793.80" width="3.75" height="151.10" fill="#ffb1b1"/><rect x="250.93" y="793.80" width="2.63" height="151.10" fill="#fffafa"/><rect x="253.16" y="793.80" width="2.63" height="151.10" fill="#ffb1b1"/><rect x="255.39" y="793.80" width="2.07" height="151.10" fill="#d0ffd0"/><rect x="257.06" y="793.80" width="2.63" height="151.10" fill="#49ff49"/><rect x="259.29" y="793.80" width="9.32" height="151.10" fill="#d0ffd0"/><rect x="268.22" y="793.80" width="4.86" height="151.10" fill="#ffdbdb"/><rect x="272.68" y="793.80" width="3.19" height="151.10" fill="#ffb1b1"/><rect x="275.46" y="793.80" width="4.30" height="151.10" fill="#ffdbdb"/><rect x="279.37" y="793.80" width="2.63" height="151.10" fill="#ffb1b1"/><rect x="281.60" y="793.80" width="2.63" height="151.10" fill="#49ff49"/><rect x="283.83" y="793.80" width="3.19" height="151.10" fill="#d0ffd0"/><rect x="286.62" y="793.80" width="2.63" height="151.10" fill="#ffb1b1"/><rect x="288.85" y="793.80" width="4.86" height="151.10" fill="#fffafa"/><rect x="293.31" y="793.80" width="4.30" height="151.10" fill="#49ff49"/><rect x="297.21" y="793.80" width="3.19" height="151.10" fill="#ff4949"/><rect x="300.00" y="793.80" width="2.41" height="151.10" fill="#fffafa"/><rect x="302.01" y="793.80" width="5.31" height="151.10" fill="#ffb1b1"/><rect x="306.91" y="793.80" width="2.41" height="151.10" fill="#87ff87"/><rect x="308.92" y="793.80" width="2.63" height="151.10" fill="#ff4949"/><rect x="311.15" y="793.80" width="3.19" height="151.10" fill="#fffafa"/><rect x="313.94" y="793.80" width="3.75" height="151.10" fill="#ffdbdb"/><rect x="317.29" y="793.80" width="2.07" height="151.10" fill="#d0ffd0"/><rect x="318.96" y="793.80" width="2.63" height="151.10" fill="#ffdbdb"/><rect x="321.19" y="793.80" width="2.63" height="151.10" fill="#fffafa"/><rect x="323.42" y="793.80" width="2.63" height="151.10" fill="#ffdbdb"/><rect x="325.65" y="793.80" width="2.07" height="151.10" fill="#87ff87"/><rect x="327.32" y="793.80" width="5.42" height="151.10" fill="#ffb1b1"/><rect x="332.34" y="793.80" width="2.07" height="151.10" fill="#ff4949"/><rect x="334.01" y="793.80" width="5.42" height="151.10" fill="#fffafa"/><rect x="339.03" y="793.80" width="2.07" height="151.10" fill="#ffb1b1"/><rect x="340.71" y="793.80" width="2.63" height="151.10" fill="#49ff49"/><rect x="342.94" y="793.80" width="3.19" height="151.10" fill="#ffdbdb"/><rect x="345.72" y="793.80" width="2.63" height="151.10" fill="#49ff49"/><rect x="347.96" y="793.80" width="2.63" height="151.10" fill="#ff4949"/><rect x="350.19" y="793.80" width="2.07" height="151.10" fill="#d0ffd0"/><rect x="351.86" y="793.80" width="4.86" height="151.10" fill="#ffdbdb"/><rect x="356.32" y="793.80" width="5.42" height="151.10" fill="#d0ffd0"/><rect x="361.34" y="793.80" width="2.63" height="151.10" fill="#ffb1b1"/><rect x="363.57" y="793.80" width="2.63" height="151.10" fill="#d0ffd0"/><rect x="365.80" y="793.80" width="5.98" height="151.10" fill="#fffafa"/><rect x="371.38" y="793.80" width="4.30" height="151.10" fill="#ffdbdb"/><rect x="375.28" y="793.80" width="1.52" height="151.10" fill="#fffafa"/><rect x="376.39" y="793.80" width="3.19" height="151.10" fill="#ffb1b1"/><rect x="379.18" y="793.80" width="0.96" height="151.10" fill="#fffafa"/><rect x="379.74" y="793.80" width="3.19" height="151.10" fill="#0aff0a"/><rect x="382.53" y="793.80" width="2.07" height="151.10" fill="#fffafa"/><rect x="384.20" y="793.80" width="2.63" height="151.10" fill="#ffdbdb"/><rect x="386.43" y="793.80" width="2.63" height="151.10" fill="#ff4949"/><rect x="388.66" y="793.80" width="2.07" height="151.10" fill="#fffafa"/><rect x="390.33" y="793.80" width="3.75" height="151.10" fill="#87ff87"/><rect x="393.68" y="793.80" width="2.07" height="151.10" fill="#d0ffd0"/><rect x="395.35" y="793.80" width="3.19" height="151.10" fill="#87ff87"/><rect x="398.14" y="793.80" width="4.30" height="151.10" fill="#d0ffd0"/><rect x="402.04" y="793.80" width="4.30" height="151.10" fill="#87ff87"/><rect x="405.95" y="793.80" width="3.19" height="151.10" fill="#d0ffd0"/><rect x="408.74" y="793.80" width="4.86" height="151.10" fill="#ffb1b1"/><rect x="413.20" y="793.80" width="1.52" height="151.10" fill="#fffafa"/><rect x="414.31" y="793.80" width="4.30" height="151.10" fill="#ff4949"/><rect x="418.22" y="793.80" width="3.19" height="151.10" fill="#d0ffd0"/><rect x="421.00" y="793.80" width="2.07" height="151.10" fill="#fffafa"/><rect x="422.68" y="793.80" width="5.42" height="151.10" fill="#d0ffd0"/><rect x="427.70" y="793.80" width="2.07" height="151.10" fill="#fffafa"/><rect x="429.37" y="793.80" width="3.19" height="151.10" fill="#ffdbdb"/><rect x="432.16" y="793.80" width="3.19" height="151.10" fill="#fffafa"/><rect x="434.94" y="793.80" width="4.86" height="151.10" fill="#ffdbdb"/><rect x="439.41" y="793.80" width="3.75" height="151.10" fill="#ffb1b1"/><rect x="442.75" y="793.80" width="2.07" height="151.10" fill="#fffafa"/><rect x="444.42" y="793.80" width="3.75" height="151.10" fill="#ffdbdb"/><rect x="447.77" y="793.80" width="2.63" height="151.10" fill="#87ff87"/><rect x="450.00" y="793.80" width="4.64" height="151.10" fill="#fffafa"/><rect x="454.24" y="793.80" width="3.97" height="151.10" fill="#d0ffd0"/><rect x="457.81" y="793.80" width="1.29" height="151.10" fill="#fffafa"/><rect x="458.70" y="793.80" width="2.30" height="151.10" fill="#ffb1b1"/><rect x="460.59" y="793.80" width="4.86" height="151.10" fill="#fffafa"/><rect x="465.06" y="793.80" width="3.19" height="151.10" fill="#ffdbdb"/><rect x="467.84" y="793.80" width="2.63" height="151.10" fill="#87ff87"/><rect x="470.07" y="793.80" width="2.07" height="151.10" fill="#fffafa"/><rect x="471.75" y="793.80" width="3.75" height="151.10" fill="#ffb1b1"/><rect x="475.09" y="793.80" width="5.98" height="151.10" fill="#d0ffd0"/><rect x="480.67" y="793.80" width="3.75" height="151.10" fill="#87ff87"/><rect x="484.01" y="793.80" width="2.07" height="151.10" fill="#ffb1b1"/><rect x="485.69" y="793.80" width="3.19" height="151.10" fill="#fffafa"/><rect x="488.48" y="793.80" width="2.07" height="151.10" fill="#ffdbdb"/><rect x="490.15" y="793.80" width="3.19" height="151.10" fill="#fffafa"/><rect x="492.94" y="793.80" width="1.52" height="151.10" fill="#d0ffd0"/><rect x="494.05" y="793.80" width="2.63" height="151.10" fill="#ffb1b1"/><rect x="496.28" y="793.80" width="3.19" height="151.10" fill="#fffafa"/><rect x="499.07" y="793.80" width="5.42" height="151.10" fill="#ffb1b1"/><rect x="504.09" y="793.80" width="3.75" height="151.10" fill="#d0ffd0"/><rect x="507.43" y="793.80" width="3.75" height="151.10" fill="#ffb1b1"/><rect x="510.78" y="793.80" width="5.42" height="151.10" fill="#ffdbdb"/><rect x="515.80" y="793.80" width="1.52" height="151.10" fill="#fffafa"/><rect x="516.91" y="793.80" width="2.07" height="151.10" fill="#ffb1b1"/><rect x="518.59" y="793.80" width="1.52" height="151.10" fill="#d0ffd0"/><rect x="519.70" y="793.80" width="2.07" height="151.10" fill="#49ff49"/><rect x="521.38" y="793.80" width="1.74" height="151.10" fill="#fffafa"/><rect x="522.71" y="793.80" width="1.85" height="151.10" fill="#ffb1b1"/><rect x="524.16" y="793.80" width="4.86" height="151.10" fill="#49ff49"/><rect x="528.62" y="793.80" width="2.07" height="151.10" fill="#ffdbdb"/><rect x="530.30" y="793.80" width="7.09" height="151.10" fill="#fffafa"/><rect x="536.99" y="793.80" width="2.63" height="151.10" fill="#d0ffd0"/><rect x="539.22" y="793.80" width="2.63" height="151.10" fill="#fffafa"/><rect x="541.45" y="793.80" width="2.63" height="151.10" fill="#d0ffd0"/><rect x="543.68" y="793.80" width="1.74" height="151.10" fill="#ffb1b1"/><rect x="545.02" y="793.80" width="2.41" height="151.10" fill="#87ff87"/><rect x="547.03" y="793.80" width="2.63" height="151.10" fill="#ffdbdb"/><rect x="549.26" y="793.80" width="2.63" height="151.10" fill="#d0ffd0"/><rect x="551.49" y="793.80" width="4.30" height="151.10" fill="#ffdbdb"/><rect x="555.39" y="793.80" width="2.07" height="151.10" fill="#ff4949"/><rect x="557.06" y="793.80" width="2.41" height="151.10" fill="#ffdbdb"/><rect x="559.07" y="793.80" width="2.85" height="151.10" fill="#ff4949"/><rect x="561.52" y="793.80" width="7.65" height="151.10" fill="#ffdbdb"/><rect x="568.77" y="793.80" width="3.19" height="151.10" fill="#d0ffd0"/><rect x="571.56" y="793.80" width="2.07" height="151.10" fill="#fffafa"/><rect x="573.23" y="793.80" width="3.19" height="151.10" fill="#d0ffd0"/><rect x="576.02" y="793.80" width="2.63" height="151.10" fill="#ffb1b1"/><rect x="578.25" y="793.80" width="7.09" height="151.10" fill="#87ff87"/><rect x="584.94" y="793.80" width="2.85" height="151.10" fill="#ffb1b1"/><rect x="587.40" y="793.80" width="2.41" height="151.10" fill="#d0ffd0"/><rect x="589.41" y="793.80" width="2.07" height="151.10" fill="#49ff49"/><rect x="591.08" y="793.80" width="3.19" height="151.10" fill="#ffb1b1"/><rect x="593.87" y="793.80" width="1.52" height="151.10" fill="#fffafa"/><rect x="594.98" y="793.80" width="3.75" height="151.10" fill="#d0ffd0"/><rect x="598.33" y="793.80" width="2.07" height="151.10" fill="#ffb1b1"/><rect x="600.00" y="793.80" width="1.52" height="151.10" fill="#ffb1b1"/><rect x="601.12" y="793.80" width="2.07" height="151.10" fill="#fffafa"/><rect x="602.79" y="793.80" width="2.63" height="151.10" fill="#ffb1b1"/><rect x="605.02" y="793.80" width="3.19" height="151.10" fill="#ffdbdb"/><rect x="607.81" y="793.80" width="2.63" height="151.10" fill="#87ff87"/><rect x="610.04" y="793.80" width="2.85" height="151.10" fill="#ff4949"/><rect x="612.49" y="793.80" width="1.29" height="151.10" fill="#ffb1b1"/><rect x="613.38" y="793.80" width="2.07" height="151.10" fill="#ff4949"/><rect x="615.06" y="793.80" width="2.07" height="151.10" fill="#ffdbdb"/><rect x="616.73" y="793.80" width="3.75" height="151.10" fill="#49ff49"/><rect x="620.07" y="793.80" width="2.07" height="151.10" fill="#fffafa"/><rect x="621.75" y="793.80" width="4.53" height="151.10" fill="#d0ffd0"/><rect x="625.87" y="793.80" width="2.41" height="151.10" fill="#0aff0a"/><rect x="627.88" y="793.80" width="2.63" height="151.10" fill="#d0ffd0"/><rect x="630.11" y="793.80" width="2.85" height="151.10" fill="#fffafa"/><rect x="632.57" y="793.80" width="4.86" height="151.10" fill="#0aff0a"/><rect x="637.03" y="793.80" width="3.52" height="151.10" fill="#ffdbdb"/><rect x="640.15" y="793.80" width="4.30" height="151.10" fill="#ffb1b1"/><rect x="644.05" y="793.80" width="1.85" height="151.10" fill="#fffafa"/><rect x="645.50" y="793.80" width="1.74" height="151.10" fill="#87ff87"/><rect x="646.84" y="793.80" width="2.41" height="151.10" fill="#ffb1b1"/><rect x="648.85" y="793.80" width="2.30" height="151.10" fill="#49ff49"/><rect x="650.74" y="793.80" width="1.85" height="151.10" fill="#ffb1b1"/><rect x="652.19" y="793.80" width="2.30" height="151.10" fill="#d0ffd0"/><rect x="654.09" y="793.80" width="2.07" height="151.10" fill="#ff4949"/><rect x="655.76" y="793.80" width="3.75" height="151.10" fill="#ffdbdb"/><rect x="659.11" y="793.80" width="7.09" height="151.10" fill="#d0ffd0"/><rect x="665.80" y="793.80" width="2.07" height="151.10" fill="#fffafa"/><rect x="667.47" y="793.80" width="3.75" height="151.10" fill="#d0ffd0"/><rect x="670.82" y="793.80" width="2.63" height="151.10" fill="#ffb1b1"/><rect x="673.05" y="793.80" width="5.42" height="151.10" fill="#87ff87"/><rect x="678.07" y="793.80" width="2.63" height="151.10" fill="#fffafa"/><rect x="680.30" y="793.80" width="2.63" height="151.10" fill="#ffb1b1"/><rect x="682.53" y="793.80" width="4.30" height="151.10" fill="#ff4949"/><rect x="686.43" y="793.80" width="9.88" height="151.10" fill="#fffafa"/><rect x="695.91" y="793.80" width="4.30" height="151.10" fill="#ffdbdb"/><rect x="699.81" y="793.80" width="3.75" height="151.10" fill="#0aff0a"/><rect x="703.16" y="793.80" width="2.63" height="151.10" fill="#ffdbdb"/><rect x="705.39" y="793.80" width="2.07" height="151.10" fill="#d0ffd0"/><rect x="707.06" y="793.80" width="3.19" height="151.10" fill="#ffdbdb"/><rect x="709.85" y="793.80" width="2.07" height="151.10" fill="#fffafa"/><rect x="711.52" y="793.80" width="5.42" height="151.10" fill="#d0ffd0"/><rect x="716.54" y="793.80" width="2.30" height="151.10" fill="#ff4949"/><rect x="718.44" y="793.80" width="2.41" height="151.10" fill="#d0ffd0"/><rect x="720.45" y="793.80" width="3.75" height="151.10" fill="#fffafa"/><rect x="723.79" y="793.80" width="2.63" height="151.10" fill="#ffdbdb"/><rect x="726.02" y="793.80" width="2.07" height="151.10" fill="#fffafa"/><rect x="727.70" y="793.80" width="3.75" height="151.10" fill="#87ff87"/><rect x="731.04" y="793.80" width="2.07" height="151.10" fill="#ffdbdb"/><rect x="732.71" y="793.80" width="6.53" height="151.10" fill="#d0ffd0"/><rect x="738.85" y="793.80" width="2.63" height="151.10" fill="#ffb1b1"/><rect x="741.08" y="793.80" width="3.19" height="151.10" fill="#87ff87"/><rect x="743.87" y="793.80" width="2.63" height="151.10" fill="#fffafa"/><rect x="746.10" y="793.80" width="3.19" height="151.10" fill="#ffb1b1"/><rect x="748.88" y="793.80" width="1.52" height="151.10" fill="#fffafa"/><rect x="750.00" y="793.80" width="3.00" height="151.10" fill="#d0ffd0"/><rect x="752.60" y="793.80" width="1.96" height="151.10" fill="#ffb1b1"/><rect x="754.16" y="793.80" width="1.96" height="151.10" fill="#87ff87"/><rect x="755.72" y="793.80" width="1.96" height="151.10" fill="#fffafa"/><rect x="757.29" y="793.80" width="1.96" height="151.10" fill="#d0ffd0"/><rect x="758.85" y="793.80" width="3.00" height="151.10" fill="#87ff87"/><rect x="761.45" y="793.80" width="4.56" height="151.10" fill="#fffafa"/><rect x="765.61" y="793.80" width="1.96" height="151.10" fill="#ffdbdb"/><rect x="767.17" y="793.80" width="2.48" height="151.10" fill="#ffb1b1"/><rect x="769.26" y="793.80" width="1.96" height="151.10" fill="#fffafa"/><rect x="770.82" y="793.80" width="2.48" height="151.10" fill="#ffb1b1"/><rect x="772.90" y="793.80" width="3.00" height="151.10" fill="#d0ffd0"/><rect x="775.50" y="793.80" width="3.00" height="151.10" fill="#ffb1b1"/><rect x="778.10" y="793.80" width="3.52" height="151.10" fill="#fffafa"/><rect x="781.23" y="793.80" width="5.60" height="151.10" fill="#d0ffd0"/><rect x="786.43" y="793.80" width="2.48" height="151.10" fill="#ffdbdb"/><rect x="788.51" y="793.80" width="3.52" height="151.10" fill="#49ff49"/><rect x="791.64" y="793.80" width="1.96" height="151.10" fill="#ffb1b1"/><rect x="793.20" y="793.80" width="3.00" height="151.10" fill="#fffafa"/><rect x="795.80" y="793.80" width="2.69" height="151.10" fill="#87ff87"/><rect x="798.09" y="793.80" width="2.27" height="151.10" fill="#fffafa"/><rect x="799.96" y="793.80" width="2.48" height="151.10" fill="#0aff0a"/><rect x="802.04" y="793.80" width="3.00" height="151.10" fill="#fffafa"/><rect x="804.65" y="793.80" width="2.48" height="151.10" fill="#d0ffd0"/><rect x="806.73" y="793.80" width="1.96" height="151.10" fill="#ffdbdb"/><rect x="808.29" y="793.80" width="2.48" height="151.10" fill="#ffb1b1"/><rect x="810.37" y="793.80" width="2.48" height="151.10" fill="#ffdbdb"/><rect x="812.45" y="793.80" width="3.00" height="151.10" fill="#fffafa"/><rect x="815.06" y="793.80" width="2.48" height="151.10" fill="#0aff0a"/><rect x="817.14" y="793.80" width="1.96" height="151.10" fill="#fffafa"/><rect x="818.70" y="793.80" width="2.48" height="151.10" fill="#ffb1b1"/><rect x="820.78" y="793.80" width="2.48" height="151.10" fill="#ffdbdb"/><rect x="822.86" y="793.80" width="6.65" height="151.10" fill="#d0ffd0"/><rect x="829.11" y="793.80" width="5.08" height="151.10" fill="#ffdbdb"/><rect x="833.79" y="793.80" width="3.00" height="151.10" fill="#ffb1b1"/><rect x="836.39" y="793.80" width="1.44" height="151.10" fill="#fffafa"/><rect x="837.43" y="793.80" width="3.52" height="151.10" fill="#d0ffd0"/><rect x="840.56" y="793.80" width="2.48" height="151.10" fill="#87ff87"/><rect x="842.64" y="793.80" width="5.60" height="151.10" fill="#fffafa"/><rect x="847.84" y="793.80" width="3.52" height="151.10" fill="#ffdbdb"/><rect x="850.97" y="793.80" width="1.96" height="151.10" fill="#fffafa"/><rect x="852.53" y="793.80" width="2.48" height="151.10" fill="#ffdbdb"/><rect x="854.61" y="793.80" width="4.56" height="151.10" fill="#fffafa"/><rect x="858.77" y="793.80" width="2.79" height="151.10" fill="#ff1f1f"/><rect x="861.17" y="793.80" width="4.77" height="151.10" fill="#fffafa"/><rect x="865.54" y="793.80" width="3.00" height="151.10" fill="#87ff87"/><rect x="868.14" y="793.80" width="1.96" height="151.10" fill="#fffafa"/><rect x="869.70" y="793.80" width="1.96" height="151.10" fill="#87ff87"/><rect x="871.26" y="793.80" width="4.56" height="151.10" fill="#ffb1b1"/><rect x="875.43" y="793.80" width="3.00" height="151.10" fill="#87ff87"/><rect x="878.03" y="793.80" width="2.48" height="151.10" fill="#ffdbdb"/><rect x="880.11" y="793.80" width="1.96" height="151.10" fill="#fffafa"/><rect x="881.67" y="793.80" width="2.48" height="151.10" fill="#87ff87"/><rect x="883.75" y="793.80" width="4.04" height="151.10" fill="#fffafa"/></g>
<rect x="155.8" y="4.3" width="33.2" height="27" fill="#0000ff"/>
<rect x="189" y="4.3" width="699" height="27" fill="#ff0000"/>
<text x="896" y="27.2" font-size="27.5" font-weight="bold">Type</text>
<text x="894.34" y="124.5" font-size="27.5" textLength="121.26" lengthAdjust="spacingAndGlyphs">FGFR1<tspan font-weight="bold">***</tspan></text>
<text x="894.76" y="274.3" font-size="27.5" textLength="104.59" lengthAdjust="spacingAndGlyphs">TPM1<tspan font-weight="bold">***</tspan></text>
<text x="894.25" y="426.1" font-size="27.5" textLength="104.58" lengthAdjust="spacingAndGlyphs">NRP2<tspan font-weight="bold">***</tspan></text>
<text x="894.72" y="576.8" font-size="27.5" textLength="127.65" lengthAdjust="spacingAndGlyphs">CAVIN1<tspan font-weight="bold">***</tspan></text>
<text x="894.26" y="728.0" font-size="27.5" textLength="105.52" lengthAdjust="spacingAndGlyphs">EMP1<tspan font-weight="bold">***</tspan></text>
<text x="894.45" y="878.9" font-size="27.5" textLength="111.25" lengthAdjust="spacingAndGlyphs">LATS2<tspan font-weight="bold">***</tspan></text>
<path d="M154.9 114.3L54.3 114.3M54.3 114.3L54.3 378.6M54.3 378.6L59.0 378.6M154.9 265.6L59.0 265.6M59.0 265.6L59.0 492.0M59.0 492.0L78.0 492.0M154.9 416.2L78.0 416.2M78.0 416.2L78.0 567.5M78.0 567.5L154.9 567.5M54.3 246.4L15.6 246.4M15.6 246.4L15.6 793.3M15.6 793.3L46.3 793.3M154.9 717.6L46.3 717.6M46.3 717.6L46.3 869.0M46.3 869.0L154.9 869.0" stroke="#000" stroke-width="2.5" fill="none" stroke-linecap="square"/>
<rect x="1040.9" y="397.61" width="28.0" height="8.49" fill="#00ff00"/>
<rect x="1040.9" y="389.51" width="28.0" height="8.49" fill="#0aff0a"/>
<rect x="1040.9" y="381.42" width="28.0" height="8.49" fill="#15ff15"/>
<rect x="1040.9" y="373.32" width="28.0" height="8.49" fill="#1fff1f"/>
<rect x="1040.9" y="365.23" width="28.0" height="8.49" fill="#2aff2a"/>
<rect x="1040.9" y="357.14" width="28.0" height="8.49" fill="#34ff34"/>
<rect x="1040.9" y="349.04" width="28.0" height="8.49" fill="#3eff3e"/>
<rect x="1040.9" y="340.95" width="28.0" height="8.49" fill="#49ff49"/>
<rect x="1040.9" y="332.85" width="28.0" height="8.49" fill="#53ff53"/>
<rect x="1040.9" y="324.76" width="28.0" height="8.49" fill="#5eff5e"/>
<rect x="1040.9" y="316.67" width="28.0" height="8.49" fill="#68ff68"/>
<rect x="1040.9" y="308.57" width="28.0" height="8.49" fill="#72ff72"/>
<rect x="1040.9" y="300.48" width="28.0" height="8.49" fill="#7dff7d"/>
<rect x="1040.9" y="292.38" width="28.0" height="8.49" fill="#87ff87"/>
<rect x="1040.9" y="284.29" width="28.0" height="8.49" fill="#92ff92"/>
<rect x="1040.9" y="276.20" width="28.0" height="8.49" fill="#9cff9c"/>
<rect x="1040.9" y="268.10" width="28.0" height="8.49" fill="#a7ffa7"/>
<rect x="1040.9" y="260.01" width="28.0" height="8.49" fill="#b1ffb1"/>
<rect x="1040.9" y="251.91" width="28.0" height="8.49" fill="#bbffbb"/>
<rect x="1040.9" y="243.82" width="28.0" height="8.49" fill="#c6ffc6"/>
<rect x="1040.9" y="235.73" width="28.0" height="8.49" fill="#d0ffd0"/>
<rect x="1040.9" y="227.63" width="28.0" height="8.49" fill="#dbffdb"/>
<rect x="1040.9" y="219.54" width="28.0" height="8.49" fill="#e5ffe5"/>
<rect x="1040.9" y="211.44" width="28.0" height="8.49" fill="#efffef"/>
<rect x="1040.9" y="203.35" width="28.0" height="8.49" fill="#fafffa"/>
<rect x="1040.9" y="195.26" width="28.0" height="8.49" fill="#fffafa"/>
<rect x="1040.9" y="187.16" width="28.0" height="8.49" fill="#ffefef"/>
<rect x="1040.9" y="179.07" width="28.0" height="8.49" fill="#ffe5e5"/>
<rect x="1040.9" y="170.97" width="28.0" height="8.49" fill="#ffdbdb"/>
<rect x="1040.9" y="162.88" width="28.0" height="8.49" fill="#ffd0d0"/>
<rect x="1040.9" y="154.79" width="28.0" height="8.49" fill="#ffc6c6"/>
<rect x="1040.9" y="146.69" width="28.0" height="8.49" fill="#ffbbbb"/>
<rect x="1040.9" y="138.60" width="28.0" height="8.49" fill="#ffb1b1"/>
<rect x="1040.9" y="130.50" width="28.0" height="8.49" fill="#ffa7a7"/>
<rect x="1040.9" y="122.41" width="28.0" height="8.49" fill="#ff9c9c"/>
<rect x="1040.9" y="114.32" width="28.0" height="8.49" fill="#ff9292"/>
<rect x="1040.9" y="106.22" width="28.0" height="8.49" fill="#ff8787"/>
<rect x="1040.9" y="98.13" width="28.0" height="8.49" fill="#ff7d7d"/>
<rect x="1040.9" y="90.03" width="28.0" height="8.49" fill="#ff7272"/>
<rect x="1040.9" y="81.94" width="28.0" height="8.49" fill="#ff6868"/>
<rect x="1040.9" y="73.85" width="28.0" height="8.49" fill="#ff5e5e"/>
<rect x="1040.9" y="65.75" width="28.0" height="8.49" fill="#ff5353"/>
<rect x="1040.9" y="57.66" width="28.0" height="8.49" fill="#ff4949"/>
<rect x="1040.9" y="49.56" width="28.0" height="8.49" fill="#ff3e3e"/>
<rect x="1040.9" y="41.47" width="28.0" height="8.49" fill="#ff3434"/>
<rect x="1040.9" y="33.38" width="28.0" height="8.49" fill="#ff2a2a"/>
<rect x="1040.9" y="25.28" width="28.0" height="8.49" fill="#ff1f1f"/>
<rect x="1040.9" y="17.19" width="28.0" height="8.49" fill="#ff1515"/>
<rect x="1040.9" y="9.09" width="28.0" height="8.49" fill="#ff0a0a"/>
<rect x="1040.9" y="1.00" width="28.0" height="8.49" fill="#ff0000"/>
<text x="1078" y="22.3" font-size="26">3</text>
<text x="1078" y="85.7" font-size="26">2</text>
<text x="1078" y="149.1" font-size="26">1</text>
<text x="1078" y="212.5" font-size="26">0</text>
<text x="1078" y="275.9" font-size="26">−1</text>
<text x="1078" y="339.3" font-size="26">−2</text>
<text x="1078" y="402.7" font-size="26">−3</text>
<text x="1119.7" y="20.6" font-size="26.5" font-weight="bold">Type</text>
<rect x="1118.3" y="29.5" width="40" height="38.9" fill="#0000ff"/>
<rect x="1118.3" y="68.4" width="40" height="39.8" fill="#ff0000"/>
<text x="1163.7" y="59" font-size="26.9">Paracancerous</text>
<text x="1163.7" y="98.4" font-size="26.9">Tumor</text>
<text transform="translate(0 56.4) scale(0.945 1)" font-size="56.5">A</text>
<text transform="translate(-4 1039.3) scale(0.86 1)" font-size="55.3">B</text>
<rect x="126.5" y="1031.8" width="1085.1" height="624.7" fill="none" stroke="#000" stroke-width="2.2"/>
<path d="M113.9 1639.0H126.5" stroke="#000" stroke-width="2"/>
<text x="91.00" y="1647.2" font-size="23" textLength="12.51" lengthAdjust="spacingAndGlyphs">0</text>
<path d="M113.9 1539.0H126.5" stroke="#000" stroke-width="2"/>
<text x="90.87" y="1547.2" font-size="23" textLength="13.03" lengthAdjust="spacingAndGlyphs">2</text>
<path d="M113.9 1439.0H126.5" stroke="#000" stroke-width="2"/>
<text x="91.54" y="1447.2" font-size="23" textLength="11.43" lengthAdjust="spacingAndGlyphs">4</text>
<path d="M113.9 1339.0H126.5" stroke="#000" stroke-width="2"/>
<text x="90.74" y="1347.2" font-size="23" textLength="12.64" lengthAdjust="spacingAndGlyphs">6</text>
<path d="M113.9 1239.0H126.5" stroke="#000" stroke-width="2"/>
<text x="90.92" y="1247.2" font-size="23" textLength="12.41" lengthAdjust="spacingAndGlyphs">8</text>
<path d="M113.9 1139.0H126.5" stroke="#000" stroke-width="2"/>
<text x="80.94" y="1147.2" font-size="23" textLength="22.38" lengthAdjust="spacingAndGlyphs">10</text>
<path d="M113.9 1039.0H126.5" stroke="#000" stroke-width="2"/>
<text x="80.93" y="1047.2" font-size="23" textLength="22.58" lengthAdjust="spacingAndGlyphs">12</text>
<text transform="translate(50.9 1344.5) rotate(-90)" font-size="33.7" text-anchor="middle">Gene expression</text>
<text x="155.83" y="1693.9" font-size="23.2" textLength="51.61" lengthAdjust="spacingAndGlyphs">EMP1</text>
<text x="330.26" y="1693.9" font-size="23.2" textLength="50.59" lengthAdjust="spacingAndGlyphs">TPM1</text>
<text x="502.48" y="1693.9" font-size="23.2" textLength="53.94" lengthAdjust="spacingAndGlyphs">NRP2</text>
<text x="663.97" y="1693.9" font-size="23.2" textLength="62.73" lengthAdjust="spacingAndGlyphs">FGFR1</text>
<text x="831.51" y="1693.9" font-size="23.2" textLength="68.98" lengthAdjust="spacingAndGlyphs">CAVIN1</text>
<text x="1016.71" y="1693.9" font-size="23.2" textLength="58.65" lengthAdjust="spacingAndGlyphs">LATS2</text>
<text x="155.76" y="1130.0" font-size="23" textLength="70.56" lengthAdjust="spacingAndGlyphs">p&lt;0.001</text>
<text x="329.78" y="1113.9" font-size="23" textLength="69.97" lengthAdjust="spacingAndGlyphs">p&lt;0.001</text>
<text x="502.30" y="1354.3" font-size="23" textLength="69.54" lengthAdjust="spacingAndGlyphs">p&lt;0.001</text>
<text x="675.37" y="1204.9" font-size="23" textLength="70.22" lengthAdjust="spacingAndGlyphs">p&lt;0.001</text>
<text x="848.68" y="1085.1" font-size="23" textLength="69.77" lengthAdjust="spacingAndGlyphs">p&lt;0.001</text>
<text x="1021.69" y="1344.9" font-size="23" textLength="69.27" lengthAdjust="spacingAndGlyphs">p&lt;0.001</text>
<path d="M174.3 1191.5H210.9" stroke="#000" stroke-width="2"/>
<path d="M352.5 1177.6H383.6" stroke="#000" stroke-width="2"/>
<path d="M520.9 1386.4H556.8" stroke="#000" stroke-width="2"/>
<path d="M694.2 1256.8H730.0" stroke="#000" stroke-width="2"/>
<path d="M866.0 1152.1H902.8" stroke="#000" stroke-width="2"/>
<path d="M1040.0 1378.3H1075.8" stroke="#000" stroke-width="2"/>
<path d="M169.60 1191.50 L169.80 1193.63 L170.08 1196.43 L170.40 1199.76 L170.76 1203.49 L171.14 1207.47 L171.52 1211.57 L171.88 1215.66 L172.20 1219.60 L172.49 1223.49 L172.77 1227.51 L173.04 1231.62 L173.30 1235.79 L173.56 1240.01 L173.83 1244.24 L174.11 1248.44 L174.40 1252.60 L174.69 1256.72 L174.97 1260.85 L175.25 1264.97 L175.54 1269.09 L175.85 1273.22 L176.19 1277.34 L176.57 1281.47 L177.00 1285.60 L177.50 1289.85 L178.06 1294.26 L178.67 1298.73 L179.31 1303.18 L179.96 1307.50 L180.58 1311.59 L181.17 1315.36 L181.70 1318.70 L182.18 1321.50 L182.64 1323.80 L183.07 1325.74 L183.48 1327.47 L183.87 1329.13 L184.23 1330.88 L184.58 1332.85 L184.90 1335.20 L185.22 1337.90 L185.55 1340.82 L185.87 1343.90 L186.16 1347.09 L186.40 1350.34 L186.59 1353.61 L186.69 1356.85 L186.70 1360.00 L186.61 1363.09 L186.44 1366.18 L186.20 1369.27 L185.89 1372.35 L185.53 1375.43 L185.12 1378.52 L184.68 1381.61 L184.20 1384.70 L183.67 1387.80 L183.07 1390.89 L182.41 1393.99 L181.71 1397.09 L181.00 1400.20 L180.28 1403.30 L179.57 1406.40 L178.90 1409.50 L178.22 1412.75 L177.50 1416.21 L176.76 1419.76 L176.03 1423.26 L175.34 1426.60 L174.73 1429.63 L174.20 1432.24 L173.80 1434.30 L173.54 1435.74 L173.40 1436.65 L173.36 1437.15 L173.38 1437.35 L173.45 1437.35 L173.52 1437.27 L173.58 1437.22 L173.60 1437.30 L154.40 1437.30 L154.42 1437.22 L154.48 1437.27 L154.55 1437.35 L154.62 1437.35 L154.64 1437.15 L154.60 1436.65 L154.46 1435.74 L154.20 1434.30 L153.80 1432.24 L153.27 1429.63 L152.66 1426.60 L151.97 1423.26 L151.24 1419.76 L150.50 1416.21 L149.78 1412.75 L149.10 1409.50 L148.43 1406.40 L147.72 1403.30 L147.00 1400.20 L146.29 1397.09 L145.59 1393.99 L144.93 1390.89 L144.33 1387.80 L143.80 1384.70 L143.32 1381.61 L142.88 1378.52 L142.47 1375.43 L142.11 1372.35 L141.80 1369.27 L141.56 1366.18 L141.39 1363.09 L141.30 1360.00 L141.31 1356.85 L141.41 1353.61 L141.60 1350.34 L141.84 1347.09 L142.13 1343.90 L142.45 1340.82 L142.78 1337.90 L143.10 1335.20 L143.42 1332.85 L143.77 1330.88 L144.13 1329.13 L144.52 1327.47 L144.93 1325.74 L145.36 1323.80 L145.82 1321.50 L146.30 1318.70 L146.83 1315.36 L147.42 1311.59 L148.04 1307.50 L148.69 1303.18 L149.33 1298.73 L149.94 1294.26 L150.50 1289.85 L151.00 1285.60 L151.43 1281.47 L151.81 1277.34 L152.15 1273.22 L152.46 1269.09 L152.75 1264.97 L153.03 1260.85 L153.31 1256.72 L153.60 1252.60 L153.89 1248.44 L154.17 1244.24 L154.44 1240.01 L154.70 1235.79 L154.96 1231.62 L155.23 1227.51 L155.51 1223.49 L155.80 1219.60 L156.12 1215.66 L156.48 1211.57 L156.86 1207.47 L157.24 1203.49 L157.60 1199.76 L157.92 1196.43 L158.20 1193.63 L158.40 1191.50Z" fill="#0000ff" stroke="#000" stroke-width="1.8" stroke-linejoin="round"/>
<path d="M164.0 1192.1V1437.3" stroke="#000" stroke-width="1.6" stroke-linecap="round"/>
<path d="M164.0 1290.6V1384.7" stroke="#000" stroke-width="4.6"/>
<circle cx="164.0" cy="1351.7" r="5.3" fill="#fff"/>
<path d="M221.75 1253.40 L221.75 1255.51 L221.74 1258.38 L221.73 1261.80 L221.72 1265.58 L221.71 1269.49 L221.71 1273.33 L221.72 1276.90 L221.75 1280.00 L221.79 1282.72 L221.82 1285.31 L221.87 1287.77 L221.93 1290.09 L221.99 1292.27 L222.08 1294.32 L222.18 1296.23 L222.30 1298.00 L222.45 1299.48 L222.62 1300.61 L222.81 1301.51 L223.01 1302.32 L223.22 1303.16 L223.45 1304.17 L223.67 1305.47 L223.90 1307.20 L224.13 1309.38 L224.37 1311.89 L224.62 1314.67 L224.87 1317.62 L225.13 1320.69 L225.38 1323.77 L225.64 1326.80 L225.90 1329.70 L226.15 1332.50 L226.39 1335.31 L226.63 1338.11 L226.87 1340.91 L227.12 1343.70 L227.39 1346.50 L227.68 1349.30 L228.00 1352.10 L228.34 1354.90 L228.71 1357.70 L229.08 1360.50 L229.48 1363.30 L229.90 1366.10 L230.34 1368.90 L230.81 1371.70 L231.30 1374.50 L231.83 1377.30 L232.40 1380.10 L233.00 1382.90 L233.62 1385.70 L234.26 1388.50 L234.89 1391.30 L235.50 1394.10 L236.10 1396.90 L236.68 1399.66 L237.27 1402.37 L237.85 1405.06 L238.43 1407.76 L238.99 1410.50 L239.55 1413.31 L240.08 1416.24 L240.60 1419.30 L241.12 1422.59 L241.64 1426.13 L242.17 1429.81 L242.67 1433.54 L243.14 1437.24 L243.56 1440.81 L243.92 1444.16 L244.20 1447.20 L244.40 1449.90 L244.54 1452.34 L244.63 1454.58 L244.66 1456.69 L244.64 1458.71 L244.59 1460.71 L244.51 1462.76 L244.40 1464.90 L244.26 1467.07 L244.06 1469.19 L243.83 1471.28 L243.57 1473.38 L243.28 1475.53 L242.96 1477.76 L242.64 1480.11 L242.30 1482.60 L241.96 1485.27 L241.61 1488.09 L241.24 1491.02 L240.85 1494.03 L240.44 1497.09 L239.99 1500.16 L239.52 1503.21 L239.00 1506.20 L238.44 1509.15 L237.82 1512.10 L237.17 1515.05 L236.49 1518.00 L235.80 1520.95 L235.09 1523.90 L234.39 1526.85 L233.70 1529.80 L233.01 1532.75 L232.29 1535.70 L231.57 1538.65 L230.84 1541.60 L230.13 1544.55 L229.42 1547.50 L228.74 1550.45 L228.10 1553.40 L227.46 1556.42 L226.82 1559.55 L226.18 1562.72 L225.57 1565.86 L225.00 1568.93 L224.48 1571.85 L224.05 1574.56 L223.70 1577.00 L223.46 1579.22 L223.33 1581.30 L223.27 1583.22 L223.28 1584.97 L223.31 1586.54 L223.36 1587.91 L223.40 1589.07 L223.40 1590.00 L219.60 1590.00 L219.60 1589.07 L219.64 1587.91 L219.69 1586.54 L219.72 1584.97 L219.73 1583.22 L219.67 1581.30 L219.54 1579.22 L219.30 1577.00 L218.95 1574.56 L218.52 1571.85 L218.00 1568.93 L217.43 1565.86 L216.82 1562.72 L216.18 1559.55 L215.54 1556.42 L214.90 1553.40 L214.26 1550.45 L213.58 1547.50 L212.87 1544.55 L212.16 1541.60 L211.43 1538.65 L210.71 1535.70 L209.99 1532.75 L209.30 1529.80 L208.61 1526.85 L207.91 1523.90 L207.20 1520.95 L206.51 1518.00 L205.83 1515.05 L205.18 1512.10 L204.56 1509.15 L204.00 1506.20 L203.48 1503.21 L203.01 1500.16 L202.56 1497.09 L202.15 1494.03 L201.76 1491.02 L201.39 1488.09 L201.04 1485.27 L200.70 1482.60 L200.36 1480.11 L200.04 1477.76 L199.72 1475.53 L199.43 1473.38 L199.17 1471.28 L198.94 1469.19 L198.74 1467.07 L198.60 1464.90 L198.49 1462.76 L198.41 1460.71 L198.36 1458.71 L198.34 1456.69 L198.37 1454.58 L198.46 1452.34 L198.60 1449.90 L198.80 1447.20 L199.08 1444.16 L199.44 1440.81 L199.86 1437.24 L200.33 1433.54 L200.83 1429.81 L201.36 1426.13 L201.88 1422.59 L202.40 1419.30 L202.92 1416.24 L203.45 1413.31 L204.01 1410.50 L204.57 1407.76 L205.15 1405.06 L205.73 1402.37 L206.32 1399.66 L206.90 1396.90 L207.50 1394.10 L208.11 1391.30 L208.74 1388.50 L209.38 1385.70 L210.00 1382.90 L210.60 1380.10 L211.17 1377.30 L211.70 1374.50 L212.19 1371.70 L212.66 1368.90 L213.10 1366.10 L213.52 1363.30 L213.92 1360.50 L214.29 1357.70 L214.66 1354.90 L215.00 1352.10 L215.32 1349.30 L215.61 1346.50 L215.88 1343.70 L216.13 1340.91 L216.37 1338.11 L216.61 1335.31 L216.85 1332.50 L217.10 1329.70 L217.36 1326.80 L217.62 1323.77 L217.87 1320.69 L218.13 1317.62 L218.38 1314.67 L218.63 1311.89 L218.87 1309.38 L219.10 1307.20 L219.33 1305.47 L219.55 1304.17 L219.78 1303.16 L219.99 1302.32 L220.19 1301.51 L220.38 1300.61 L220.55 1299.48 L220.70 1298.00 L220.82 1296.23 L220.92 1294.32 L221.01 1292.27 L221.07 1290.09 L221.13 1287.77 L221.18 1285.31 L221.21 1282.72 L221.25 1280.00 L221.28 1276.90 L221.29 1273.33 L221.29 1269.49 L221.28 1265.58 L221.27 1261.80 L221.26 1258.38 L221.25 1255.51 L221.25 1253.40Z" fill="#ff0000" stroke="#000" stroke-width="1.8" stroke-linejoin="round"/>
<path d="M221.5 1254.0V1590.0" stroke="#000" stroke-width="1.6" stroke-linecap="round"/>
<path d="M221.5 1414.7V1500.9" stroke="#000" stroke-width="4.6"/>
<circle cx="221.5" cy="1456.6" r="5.3" fill="#fff"/>
<path d="M351.80 1177.60 L352.04 1179.78 L352.37 1182.65 L352.77 1186.07 L353.21 1189.88 L353.65 1193.93 L354.06 1198.07 L354.42 1202.15 L354.70 1206.00 L354.90 1209.73 L355.05 1213.52 L355.17 1217.35 L355.25 1221.21 L355.31 1225.09 L355.35 1228.98 L355.38 1232.85 L355.40 1236.70 L355.41 1240.53 L355.39 1244.35 L355.35 1248.18 L355.29 1252.00 L355.23 1255.82 L355.18 1259.65 L355.13 1263.47 L355.10 1267.30 L355.08 1271.13 L355.05 1274.97 L355.02 1278.81 L355.00 1282.65 L354.99 1286.49 L355.00 1290.33 L355.04 1294.17 L355.10 1298.00 L355.20 1301.83 L355.33 1305.65 L355.48 1309.48 L355.65 1313.30 L355.83 1317.12 L356.02 1320.95 L356.21 1324.77 L356.40 1328.60 L356.59 1332.43 L356.80 1336.27 L357.02 1340.11 L357.24 1343.94 L357.45 1347.78 L357.66 1351.62 L357.84 1355.46 L358.00 1359.30 L358.13 1363.24 L358.24 1367.34 L358.33 1371.50 L358.41 1375.63 L358.48 1379.64 L358.55 1383.43 L358.62 1386.91 L358.70 1390.00 L358.79 1392.62 L358.88 1394.83 L358.98 1396.72 L359.07 1398.41 L359.15 1399.98 L359.22 1401.53 L359.27 1403.17 L359.30 1405.00 L359.31 1406.93 L359.31 1408.85 L359.30 1410.77 L359.27 1412.71 L359.22 1414.71 L359.14 1416.77 L359.04 1418.93 L358.90 1421.20 L358.72 1423.62 L358.50 1426.18 L358.25 1428.85 L357.98 1431.58 L357.69 1434.34 L357.39 1437.09 L357.09 1439.79 L356.80 1442.40 L356.49 1445.07 L356.14 1447.89 L355.78 1450.76 L355.42 1453.58 L355.07 1456.22 L354.76 1458.60 L354.50 1460.59 L354.30 1462.10 L319.50 1462.10 L319.30 1460.59 L319.04 1458.60 L318.73 1456.22 L318.38 1453.58 L318.02 1450.76 L317.66 1447.89 L317.31 1445.07 L317.00 1442.40 L316.71 1439.79 L316.41 1437.09 L316.11 1434.34 L315.82 1431.58 L315.55 1428.85 L315.30 1426.18 L315.08 1423.62 L314.90 1421.20 L314.76 1418.93 L314.66 1416.77 L314.58 1414.71 L314.53 1412.71 L314.50 1410.77 L314.49 1408.85 L314.49 1406.93 L314.50 1405.00 L314.53 1403.17 L314.58 1401.53 L314.65 1399.98 L314.73 1398.41 L314.82 1396.72 L314.92 1394.83 L315.01 1392.62 L315.10 1390.00 L315.18 1386.91 L315.25 1383.43 L315.32 1379.64 L315.39 1375.63 L315.47 1371.50 L315.56 1367.34 L315.67 1363.24 L315.80 1359.30 L315.96 1355.46 L316.14 1351.62 L316.35 1347.78 L316.56 1343.94 L316.78 1340.11 L317.00 1336.27 L317.21 1332.43 L317.40 1328.60 L317.59 1324.77 L317.78 1320.95 L317.97 1317.12 L318.15 1313.30 L318.32 1309.48 L318.47 1305.65 L318.60 1301.83 L318.70 1298.00 L318.76 1294.17 L318.80 1290.33 L318.81 1286.49 L318.80 1282.65 L318.78 1278.81 L318.75 1274.97 L318.72 1271.13 L318.70 1267.30 L318.67 1263.47 L318.62 1259.65 L318.57 1255.82 L318.51 1252.00 L318.45 1248.18 L318.41 1244.35 L318.39 1240.53 L318.40 1236.70 L318.42 1232.85 L318.45 1228.98 L318.49 1225.09 L318.55 1221.21 L318.63 1217.35 L318.75 1213.52 L318.90 1209.73 L319.10 1206.00 L319.38 1202.15 L319.74 1198.07 L320.15 1193.93 L320.59 1189.88 L321.03 1186.07 L321.43 1182.65 L321.76 1179.78 L322.00 1177.60Z" fill="#0000ff" stroke="#000" stroke-width="1.8" stroke-linejoin="round"/>
<path d="M336.9 1178.2V1462.1" stroke="#000" stroke-width="1.6" stroke-linecap="round"/>
<path d="M336.9 1238.2V1415.9" stroke="#000" stroke-width="4.6"/>
<circle cx="336.9" cy="1350.1" r="5.3" fill="#fff"/>
<path d="M395.05 1249.70 L395.05 1253.79 L395.04 1259.45 L395.03 1266.21 L395.02 1273.60 L395.02 1281.15 L395.02 1288.38 L395.03 1294.82 L395.05 1300.00 L395.08 1304.00 L395.12 1307.29 L395.17 1310.01 L395.22 1312.31 L395.28 1314.31 L395.35 1316.17 L395.42 1318.02 L395.50 1320.00 L395.57 1321.91 L395.61 1323.55 L395.65 1325.01 L395.70 1326.41 L395.79 1327.84 L395.92 1329.41 L396.12 1331.23 L396.40 1333.40 L396.78 1335.95 L397.24 1338.78 L397.77 1341.83 L398.34 1345.04 L398.95 1348.33 L399.58 1351.65 L400.20 1354.93 L400.80 1358.10 L401.40 1361.20 L402.01 1364.30 L402.64 1367.40 L403.27 1370.50 L403.91 1373.60 L404.54 1376.70 L405.18 1379.80 L405.80 1382.90 L406.43 1386.04 L407.06 1389.25 L407.71 1392.49 L408.34 1395.71 L408.97 1398.88 L409.58 1401.94 L410.16 1404.86 L410.70 1407.60 L411.21 1410.12 L411.70 1412.46 L412.16 1414.66 L412.61 1416.76 L413.03 1418.80 L413.44 1420.82 L413.82 1422.87 L414.20 1425.00 L414.56 1427.15 L414.91 1429.26 L415.24 1431.35 L415.56 1433.46 L415.85 1435.59 L416.12 1437.78 L416.37 1440.04 L416.60 1442.40 L416.80 1444.88 L416.98 1447.45 L417.14 1450.11 L417.28 1452.81 L417.40 1455.55 L417.49 1458.29 L417.56 1461.02 L417.60 1463.70 L417.62 1466.35 L417.61 1469.01 L417.57 1471.66 L417.51 1474.31 L417.43 1476.95 L417.34 1479.60 L417.23 1482.25 L417.10 1484.90 L416.98 1487.55 L416.86 1490.20 L416.74 1492.85 L416.60 1495.50 L416.42 1498.15 L416.19 1500.80 L415.88 1503.45 L415.50 1506.10 L415.03 1508.75 L414.49 1511.40 L413.89 1514.05 L413.23 1516.69 L412.53 1519.34 L411.78 1521.99 L411.00 1524.65 L410.20 1527.30 L409.32 1530.01 L408.34 1532.79 L407.29 1535.61 L406.22 1538.41 L405.16 1541.16 L404.16 1543.80 L403.26 1546.30 L402.50 1548.60 L401.86 1550.78 L401.31 1552.90 L400.83 1554.93 L400.42 1556.83 L400.07 1558.57 L399.77 1560.10 L399.52 1561.39 L399.30 1562.40 L390.30 1562.40 L390.08 1561.39 L389.83 1560.10 L389.53 1558.57 L389.18 1556.83 L388.77 1554.93 L388.29 1552.90 L387.74 1550.78 L387.10 1548.60 L386.34 1546.30 L385.44 1543.80 L384.44 1541.16 L383.38 1538.41 L382.31 1535.61 L381.26 1532.79 L380.28 1530.01 L379.40 1527.30 L378.60 1524.65 L377.82 1521.99 L377.07 1519.34 L376.37 1516.69 L375.71 1514.05 L375.11 1511.40 L374.57 1508.75 L374.10 1506.10 L373.72 1503.45 L373.41 1500.80 L373.18 1498.15 L373.00 1495.50 L372.86 1492.85 L372.74 1490.20 L372.62 1487.55 L372.50 1484.90 L372.37 1482.25 L372.26 1479.60 L372.17 1476.95 L372.09 1474.31 L372.03 1471.66 L371.99 1469.01 L371.98 1466.35 L372.00 1463.70 L372.04 1461.02 L372.11 1458.29 L372.20 1455.55 L372.32 1452.81 L372.46 1450.11 L372.62 1447.45 L372.80 1444.88 L373.00 1442.40 L373.23 1440.04 L373.48 1437.78 L373.75 1435.59 L374.04 1433.46 L374.36 1431.35 L374.69 1429.26 L375.04 1427.15 L375.40 1425.00 L375.78 1422.87 L376.16 1420.82 L376.57 1418.80 L376.99 1416.76 L377.44 1414.66 L377.90 1412.46 L378.39 1410.12 L378.90 1407.60 L379.44 1404.86 L380.02 1401.94 L380.63 1398.88 L381.26 1395.71 L381.89 1392.49 L382.54 1389.25 L383.17 1386.04 L383.80 1382.90 L384.42 1379.80 L385.06 1376.70 L385.69 1373.60 L386.33 1370.50 L386.96 1367.40 L387.59 1364.30 L388.20 1361.20 L388.80 1358.10 L389.40 1354.93 L390.02 1351.65 L390.65 1348.33 L391.26 1345.04 L391.83 1341.83 L392.36 1338.78 L392.82 1335.95 L393.20 1333.40 L393.48 1331.23 L393.68 1329.41 L393.81 1327.84 L393.90 1326.41 L393.95 1325.01 L393.99 1323.55 L394.03 1321.91 L394.10 1320.00 L394.18 1318.02 L394.25 1316.17 L394.32 1314.31 L394.38 1312.31 L394.43 1310.01 L394.48 1307.29 L394.52 1304.00 L394.55 1300.00 L394.57 1294.82 L394.58 1288.38 L394.58 1281.15 L394.58 1273.60 L394.57 1266.21 L394.56 1259.45 L394.55 1253.79 L394.55 1249.70Z" fill="#ff0000" stroke="#000" stroke-width="1.8" stroke-linejoin="round"/>
<path d="M394.8 1250.3V1562.4" stroke="#000" stroke-width="1.6" stroke-linecap="round"/>
<path d="M394.8 1418.6V1503.5" stroke="#000" stroke-width="4.6"/>
<circle cx="394.8" cy="1458.4" r="5.3" fill="#fff"/>
<path d="M523.10 1388.40 L523.18 1388.89 L523.30 1389.51 L523.43 1390.26 L523.58 1391.09 L523.74 1392.01 L523.90 1392.98 L524.05 1393.98 L524.20 1395.00 L524.34 1395.96 L524.49 1396.85 L524.65 1397.75 L524.80 1398.71 L524.95 1399.82 L525.08 1401.14 L525.20 1402.74 L525.30 1404.70 L525.38 1407.08 L525.46 1409.84 L525.52 1412.90 L525.58 1416.16 L525.61 1419.54 L525.63 1422.95 L525.63 1426.30 L525.60 1429.50 L525.54 1432.59 L525.45 1435.68 L525.34 1438.77 L525.21 1441.85 L525.07 1444.93 L524.93 1448.02 L524.81 1451.11 L524.70 1454.20 L524.60 1457.39 L524.48 1460.72 L524.36 1464.10 L524.24 1467.46 L524.15 1470.71 L524.09 1473.77 L524.07 1476.56 L524.10 1479.00 L524.19 1481.02 L524.31 1482.66 L524.48 1484.02 L524.67 1485.19 L524.90 1486.28 L525.15 1487.38 L525.42 1488.59 L525.70 1490.00 L526.00 1491.51 L526.34 1492.98 L526.70 1494.45 L527.08 1495.99 L527.47 1497.63 L527.88 1499.43 L528.29 1501.44 L528.70 1503.70 L529.15 1506.31 L529.64 1509.27 L530.16 1512.46 L530.68 1515.80 L531.18 1519.17 L531.63 1522.48 L532.01 1525.63 L532.30 1528.50 L532.50 1531.11 L532.65 1533.57 L532.75 1535.89 L532.79 1538.14 L532.77 1540.33 L532.70 1542.52 L532.58 1544.73 L532.40 1547.00 L532.13 1549.33 L531.77 1551.67 L531.33 1554.02 L530.84 1556.38 L530.34 1558.72 L529.85 1561.04 L529.39 1563.34 L529.00 1565.60 L528.65 1567.94 L528.31 1570.42 L527.99 1572.94 L527.69 1575.41 L527.41 1577.74 L527.17 1579.82 L526.96 1581.57 L526.80 1582.90 L493.20 1582.90 L493.04 1581.57 L492.83 1579.82 L492.59 1577.74 L492.31 1575.41 L492.01 1572.94 L491.69 1570.42 L491.35 1567.94 L491.00 1565.60 L490.61 1563.34 L490.15 1561.04 L489.66 1558.72 L489.16 1556.38 L488.67 1554.02 L488.23 1551.67 L487.87 1549.33 L487.60 1547.00 L487.42 1544.73 L487.30 1542.52 L487.23 1540.33 L487.21 1538.14 L487.25 1535.89 L487.35 1533.57 L487.50 1531.11 L487.70 1528.50 L487.99 1525.63 L488.37 1522.48 L488.82 1519.17 L489.32 1515.80 L489.84 1512.46 L490.36 1509.27 L490.85 1506.31 L491.30 1503.70 L491.71 1501.44 L492.12 1499.43 L492.53 1497.63 L492.93 1495.99 L493.30 1494.45 L493.66 1492.98 L494.00 1491.51 L494.30 1490.00 L494.58 1488.59 L494.85 1487.38 L495.10 1486.28 L495.32 1485.19 L495.52 1484.02 L495.69 1482.66 L495.81 1481.02 L495.90 1479.00 L495.93 1476.56 L495.91 1473.77 L495.85 1470.71 L495.76 1467.46 L495.64 1464.10 L495.52 1460.72 L495.40 1457.39 L495.30 1454.20 L495.19 1451.11 L495.07 1448.02 L494.93 1444.93 L494.79 1441.85 L494.66 1438.77 L494.55 1435.68 L494.46 1432.59 L494.40 1429.50 L494.37 1426.30 L494.37 1422.95 L494.39 1419.54 L494.43 1416.16 L494.48 1412.90 L494.54 1409.84 L494.62 1407.08 L494.70 1404.70 L494.80 1402.74 L494.92 1401.14 L495.05 1399.82 L495.20 1398.71 L495.35 1397.75 L495.51 1396.85 L495.66 1395.96 L495.80 1395.00 L495.95 1393.98 L496.10 1392.98 L496.26 1392.01 L496.42 1391.09 L496.57 1390.26 L496.70 1389.51 L496.82 1388.89 L496.90 1388.40Z" fill="#0000ff" stroke="#000" stroke-width="1.8" stroke-linejoin="round"/>
<path d="M510.0 1389.0V1582.9" stroke="#000" stroke-width="1.6" stroke-linecap="round"/>
<path d="M510.0 1426.5V1552.8" stroke="#000" stroke-width="4.6"/>
<circle cx="510.0" cy="1522.9" r="5.3" fill="#fff"/>
<path d="M567.95 1386.40 L567.95 1387.83 L567.94 1389.71 L567.93 1391.95 L567.92 1394.45 L567.91 1397.11 L567.91 1399.82 L567.92 1402.48 L567.95 1405.00 L567.98 1407.44 L568.01 1409.93 L568.05 1412.45 L568.09 1414.99 L568.16 1417.53 L568.24 1420.06 L568.35 1422.55 L568.50 1425.00 L568.68 1427.38 L568.89 1429.71 L569.13 1431.99 L569.38 1434.27 L569.66 1436.55 L569.96 1438.87 L570.27 1441.25 L570.60 1443.70 L570.94 1446.24 L571.29 1448.84 L571.65 1451.50 L572.03 1454.19 L572.43 1456.91 L572.86 1459.62 L573.32 1462.32 L573.80 1465.00 L574.32 1467.65 L574.87 1470.31 L575.45 1472.96 L576.05 1475.61 L576.67 1478.25 L577.31 1480.90 L577.95 1483.55 L578.60 1486.20 L579.28 1488.89 L580.00 1491.62 L580.74 1494.38 L581.49 1497.13 L582.23 1499.83 L582.94 1502.47 L583.60 1505.00 L584.20 1507.40 L584.74 1509.65 L585.25 1511.77 L585.73 1513.79 L586.17 1515.73 L586.58 1517.64 L586.95 1519.53 L587.29 1521.44 L587.60 1523.40 L587.87 1525.43 L588.09 1527.52 L588.28 1529.62 L588.43 1531.71 L588.56 1533.76 L588.68 1535.73 L588.79 1537.59 L588.90 1539.30 L589.00 1540.78 L589.08 1542.04 L589.14 1543.14 L589.19 1544.18 L589.23 1545.25 L589.28 1546.44 L589.33 1547.82 L589.40 1549.50 L589.48 1551.48 L589.57 1553.70 L589.67 1556.10 L589.76 1558.62 L589.86 1561.21 L589.95 1563.83 L590.03 1566.41 L590.10 1568.90 L590.16 1571.36 L590.21 1573.85 L590.26 1576.35 L590.31 1578.85 L590.34 1581.32 L590.37 1583.75 L590.39 1586.12 L590.40 1588.40 L590.41 1590.63 L590.44 1592.83 L590.46 1595.00 L590.48 1597.11 L590.47 1599.15 L590.42 1601.08 L590.34 1602.91 L590.20 1604.60 L590.01 1606.12 L589.78 1607.48 L589.51 1608.71 L589.21 1609.85 L588.87 1610.94 L588.51 1612.02 L588.11 1613.13 L587.70 1614.30 L587.25 1615.53 L586.74 1616.76 L586.20 1618.00 L585.63 1619.24 L585.05 1620.48 L584.48 1621.70 L583.93 1622.91 L583.40 1624.10 L582.88 1625.32 L582.33 1626.62 L581.77 1627.93 L581.23 1629.21 L580.72 1630.42 L580.27 1631.50 L579.89 1632.41 L579.60 1633.10 L555.80 1633.10 L555.51 1632.41 L555.13 1631.50 L554.68 1630.42 L554.17 1629.21 L553.63 1627.93 L553.07 1626.62 L552.52 1625.32 L552.00 1624.10 L551.47 1622.91 L550.92 1621.70 L550.35 1620.48 L549.77 1619.24 L549.20 1618.00 L548.66 1616.76 L548.15 1615.53 L547.70 1614.30 L547.29 1613.13 L546.89 1612.02 L546.53 1610.94 L546.19 1609.85 L545.89 1608.71 L545.62 1607.48 L545.39 1606.12 L545.20 1604.60 L545.06 1602.91 L544.98 1601.08 L544.93 1599.15 L544.93 1597.11 L544.94 1595.00 L544.96 1592.83 L544.99 1590.63 L545.00 1588.40 L545.01 1586.12 L545.03 1583.75 L545.06 1581.32 L545.09 1578.85 L545.14 1576.35 L545.19 1573.85 L545.24 1571.36 L545.30 1568.90 L545.37 1566.41 L545.45 1563.83 L545.54 1561.21 L545.64 1558.62 L545.73 1556.10 L545.83 1553.70 L545.92 1551.48 L546.00 1549.50 L546.07 1547.82 L546.12 1546.44 L546.17 1545.25 L546.21 1544.18 L546.26 1543.14 L546.32 1542.04 L546.40 1540.78 L546.50 1539.30 L546.61 1537.59 L546.72 1535.73 L546.84 1533.76 L546.97 1531.71 L547.12 1529.62 L547.31 1527.52 L547.53 1525.43 L547.80 1523.40 L548.11 1521.44 L548.45 1519.53 L548.82 1517.64 L549.23 1515.73 L549.67 1513.79 L550.15 1511.77 L550.66 1509.65 L551.20 1507.40 L551.80 1505.00 L552.46 1502.47 L553.17 1499.83 L553.91 1497.13 L554.66 1494.38 L555.40 1491.62 L556.12 1488.89 L556.80 1486.20 L557.45 1483.55 L558.09 1480.90 L558.73 1478.25 L559.35 1475.61 L559.95 1472.96 L560.53 1470.31 L561.08 1467.65 L561.60 1465.00 L562.08 1462.32 L562.54 1459.62 L562.97 1456.91 L563.37 1454.19 L563.75 1451.50 L564.11 1448.84 L564.46 1446.24 L564.80 1443.70 L565.13 1441.25 L565.44 1438.87 L565.74 1436.55 L566.02 1434.27 L566.27 1431.99 L566.51 1429.71 L566.72 1427.38 L566.90 1425.00 L567.05 1422.55 L567.16 1420.06 L567.24 1417.53 L567.31 1414.99 L567.35 1412.45 L567.39 1409.93 L567.42 1407.44 L567.45 1405.00 L567.48 1402.48 L567.49 1399.82 L567.49 1397.11 L567.48 1394.45 L567.47 1391.95 L567.46 1389.71 L567.45 1387.83 L567.45 1386.40Z" fill="#ff0000" stroke="#000" stroke-width="1.8" stroke-linejoin="round"/>
<path d="M567.7 1387.0V1633.1" stroke="#000" stroke-width="1.6" stroke-linecap="round"/>
<path d="M567.7 1521.5V1597.6" stroke="#000" stroke-width="4.6"/>
<circle cx="567.7" cy="1561.7" r="5.3" fill="#fff"/>
<path d="M699.70 1381.50 L700.21 1384.22 L700.95 1387.90 L701.84 1392.29 L702.79 1397.14 L703.71 1402.17 L704.53 1407.13 L705.16 1411.76 L705.50 1415.80 L705.55 1419.30 L705.39 1422.55 L705.06 1425.59 L704.61 1428.49 L704.08 1431.32 L703.53 1434.14 L702.98 1437.02 L702.50 1440.00 L702.02 1443.07 L701.46 1446.16 L700.87 1449.26 L700.27 1452.37 L699.70 1455.48 L699.19 1458.59 L698.78 1461.70 L698.50 1464.80 L698.37 1467.93 L698.38 1471.12 L698.48 1474.34 L698.64 1477.54 L698.83 1480.69 L699.01 1483.76 L699.14 1486.71 L699.20 1489.50 L699.20 1492.11 L699.20 1494.56 L699.18 1496.90 L699.13 1499.14 L699.06 1501.35 L698.95 1503.55 L698.80 1505.79 L698.60 1508.10 L698.32 1510.60 L697.95 1513.31 L697.52 1516.10 L697.06 1518.86 L696.61 1521.48 L696.20 1523.84 L695.85 1525.81 L695.60 1527.30 L670.80 1527.30 L670.55 1525.81 L670.20 1523.84 L669.79 1521.48 L669.34 1518.86 L668.88 1516.10 L668.45 1513.31 L668.08 1510.60 L667.80 1508.10 L667.60 1505.79 L667.45 1503.55 L667.34 1501.35 L667.27 1499.14 L667.22 1496.90 L667.20 1494.56 L667.20 1492.11 L667.20 1489.50 L667.26 1486.71 L667.39 1483.76 L667.57 1480.69 L667.76 1477.54 L667.92 1474.34 L668.03 1471.12 L668.03 1467.93 L667.90 1464.80 L667.62 1461.70 L667.21 1458.59 L666.70 1455.48 L666.13 1452.37 L665.53 1449.26 L664.94 1446.16 L664.38 1443.07 L663.90 1440.00 L663.42 1437.02 L662.87 1434.14 L662.32 1431.32 L661.79 1428.49 L661.34 1425.59 L661.01 1422.55 L660.85 1419.30 L660.90 1415.80 L661.24 1411.76 L661.87 1407.13 L662.69 1402.17 L663.61 1397.14 L664.56 1392.29 L665.45 1387.90 L666.19 1384.22 L666.70 1381.50Z" fill="#0000ff" stroke="#000" stroke-width="1.8" stroke-linejoin="round"/>
<path d="M683.2 1382.1V1527.3" stroke="#000" stroke-width="1.6" stroke-linecap="round"/>
<path d="M683.2 1400.8V1500.0" stroke="#000" stroke-width="4.6"/>
<circle cx="683.2" cy="1436.2" r="5.3" fill="#fff"/>
<path d="M741.05 1256.60 L741.04 1268.40 L741.03 1284.90 L741.02 1304.63 L741.00 1326.10 L741.00 1347.85 L741.00 1368.40 L741.01 1386.27 L741.05 1400.00 L741.10 1409.76 L741.17 1417.03 L741.26 1422.30 L741.35 1426.03 L741.45 1428.71 L741.56 1430.81 L741.68 1432.82 L741.80 1435.20 L741.92 1437.45 L742.04 1438.90 L742.16 1439.78 L742.28 1440.33 L742.43 1440.76 L742.59 1441.31 L742.78 1442.21 L743.00 1443.70 L743.25 1445.74 L743.53 1448.10 L743.84 1450.72 L744.16 1453.50 L744.50 1456.38 L744.86 1459.30 L745.23 1462.16 L745.60 1464.90 L745.99 1467.56 L746.39 1470.22 L746.81 1472.88 L747.24 1475.55 L747.68 1478.22 L748.12 1480.88 L748.56 1483.54 L749.00 1486.20 L749.43 1488.85 L749.86 1491.51 L750.30 1494.16 L750.73 1496.81 L751.17 1499.45 L751.61 1502.10 L752.05 1504.75 L752.50 1507.40 L752.95 1510.05 L753.42 1512.70 L753.89 1515.35 L754.36 1517.99 L754.83 1520.64 L755.29 1523.29 L755.75 1525.95 L756.20 1528.60 L756.65 1531.31 L757.09 1534.09 L757.54 1536.91 L757.98 1539.71 L758.41 1542.45 L758.83 1545.09 L759.22 1547.59 L759.60 1549.90 L759.96 1551.92 L760.30 1553.64 L760.63 1555.18 L760.94 1556.64 L761.23 1558.12 L761.51 1559.74 L761.76 1561.60 L762.00 1563.80 L762.25 1566.37 L762.54 1569.21 L762.84 1572.27 L763.10 1575.47 L763.30 1578.76 L763.41 1582.06 L763.38 1585.33 L763.20 1588.50 L762.85 1591.63 L762.36 1594.82 L761.76 1598.04 L761.05 1601.24 L760.26 1604.41 L759.41 1607.49 L758.52 1610.47 L757.60 1613.30 L756.56 1616.10 L755.34 1618.94 L754.01 1621.75 L752.65 1624.45 L751.33 1626.95 L750.14 1629.18 L749.13 1631.06 L748.40 1632.50 L733.20 1632.50 L732.47 1631.06 L731.46 1629.18 L730.27 1626.95 L728.95 1624.45 L727.59 1621.75 L726.26 1618.94 L725.04 1616.10 L724.00 1613.30 L723.08 1610.47 L722.19 1607.49 L721.34 1604.41 L720.55 1601.24 L719.84 1598.04 L719.24 1594.82 L718.75 1591.63 L718.40 1588.50 L718.22 1585.33 L718.19 1582.06 L718.30 1578.76 L718.50 1575.47 L718.76 1572.27 L719.06 1569.21 L719.35 1566.37 L719.60 1563.80 L719.84 1561.60 L720.09 1559.74 L720.37 1558.12 L720.66 1556.64 L720.97 1555.18 L721.30 1553.64 L721.64 1551.92 L722.00 1549.90 L722.38 1547.59 L722.77 1545.09 L723.19 1542.45 L723.62 1539.71 L724.06 1536.91 L724.51 1534.09 L724.95 1531.31 L725.40 1528.60 L725.85 1525.95 L726.31 1523.29 L726.77 1520.64 L727.24 1517.99 L727.71 1515.35 L728.18 1512.70 L728.65 1510.05 L729.10 1507.40 L729.55 1504.75 L729.99 1502.10 L730.43 1499.45 L730.87 1496.81 L731.30 1494.16 L731.74 1491.51 L732.17 1488.85 L732.60 1486.20 L733.04 1483.54 L733.48 1480.88 L733.92 1478.22 L734.36 1475.55 L734.79 1472.88 L735.21 1470.22 L735.61 1467.56 L736.00 1464.90 L736.37 1462.16 L736.74 1459.30 L737.10 1456.38 L737.44 1453.50 L737.76 1450.72 L738.07 1448.10 L738.35 1445.74 L738.60 1443.70 L738.82 1442.21 L739.01 1441.31 L739.17 1440.76 L739.32 1440.33 L739.44 1439.78 L739.56 1438.90 L739.68 1437.45 L739.80 1435.20 L739.92 1432.82 L740.04 1430.81 L740.15 1428.71 L740.25 1426.03 L740.34 1422.30 L740.43 1417.03 L740.50 1409.76 L740.55 1400.00 L740.59 1386.27 L740.60 1368.40 L740.60 1347.85 L740.60 1326.10 L740.58 1304.63 L740.57 1284.90 L740.56 1268.40 L740.55 1256.60Z" fill="#ff0000" stroke="#000" stroke-width="1.8" stroke-linejoin="round"/>
<path d="M740.8 1257.2V1632.5" stroke="#000" stroke-width="1.6" stroke-linecap="round"/>
<path d="M740.8 1523.4V1597.2" stroke="#000" stroke-width="4.6"/>
<circle cx="740.8" cy="1565.3" r="5.3" fill="#fff"/>
<path d="M865.20 1152.10 L865.46 1153.71 L865.82 1155.78 L866.24 1158.24 L866.71 1161.02 L867.20 1164.04 L867.69 1167.22 L868.17 1170.50 L868.60 1173.80 L869.02 1177.15 L869.45 1180.63 L869.89 1184.26 L870.31 1188.03 L870.72 1191.95 L871.09 1196.03 L871.42 1200.28 L871.70 1204.70 L871.90 1209.44 L872.01 1214.54 L872.07 1219.88 L872.11 1225.34 L872.14 1230.81 L872.20 1236.16 L872.31 1241.26 L872.50 1246.00 L872.77 1250.30 L873.10 1254.24 L873.47 1257.93 L873.87 1261.51 L874.29 1265.08 L874.71 1268.77 L875.11 1272.71 L875.50 1277.00 L875.90 1281.80 L876.35 1287.07 L876.81 1292.61 L877.27 1298.25 L877.68 1303.81 L878.03 1309.11 L878.28 1313.97 L878.40 1318.20 L878.39 1321.77 L878.27 1324.85 L878.05 1327.52 L877.77 1329.91 L877.43 1332.13 L877.06 1334.27 L876.68 1336.46 L876.30 1338.80 L875.88 1341.35 L875.38 1344.03 L874.83 1346.74 L874.27 1349.39 L873.72 1351.88 L873.22 1354.10 L872.80 1355.98 L872.50 1357.40 L839.50 1357.40 L839.20 1355.98 L838.78 1354.10 L838.28 1351.88 L837.73 1349.39 L837.17 1346.74 L836.62 1344.03 L836.12 1341.35 L835.70 1338.80 L835.32 1336.46 L834.94 1334.27 L834.57 1332.13 L834.23 1329.91 L833.95 1327.52 L833.73 1324.85 L833.61 1321.77 L833.60 1318.20 L833.72 1313.97 L833.97 1309.11 L834.32 1303.81 L834.73 1298.25 L835.19 1292.61 L835.65 1287.07 L836.10 1281.80 L836.50 1277.00 L836.89 1272.71 L837.29 1268.77 L837.71 1265.08 L838.13 1261.51 L838.53 1257.93 L838.90 1254.24 L839.23 1250.30 L839.50 1246.00 L839.69 1241.26 L839.80 1236.16 L839.86 1230.81 L839.89 1225.34 L839.93 1219.88 L839.99 1214.54 L840.10 1209.44 L840.30 1204.70 L840.58 1200.28 L840.91 1196.03 L841.28 1191.95 L841.69 1188.03 L842.11 1184.26 L842.55 1180.63 L842.98 1177.15 L843.40 1173.80 L843.83 1170.50 L844.31 1167.22 L844.80 1164.04 L845.29 1161.02 L845.76 1158.24 L846.18 1155.78 L846.54 1153.71 L846.80 1152.10Z" fill="#0000ff" stroke="#000" stroke-width="1.8" stroke-linejoin="round"/>
<path d="M856.0 1152.7V1357.4" stroke="#000" stroke-width="1.6" stroke-linecap="round"/>
<path d="M856.0 1213.0V1322.3" stroke="#000" stroke-width="4.6"/>
<circle cx="856.0" cy="1290.4" r="5.3" fill="#fff"/>
<path d="M916.30 1217.10 L917.10 1220.11 L918.18 1224.09 L919.47 1228.84 L920.89 1234.12 L922.37 1239.72 L923.83 1245.43 L925.20 1251.03 L926.40 1256.30 L927.49 1261.36 L928.56 1266.48 L929.59 1271.64 L930.58 1276.82 L931.51 1282.03 L932.36 1287.23 L933.13 1292.43 L933.80 1297.60 L934.36 1302.75 L934.82 1307.90 L935.19 1313.05 L935.49 1318.20 L935.72 1323.35 L935.91 1328.50 L936.07 1333.65 L936.20 1338.80 L936.29 1343.98 L936.30 1349.20 L936.26 1354.43 L936.19 1359.65 L936.09 1364.85 L935.98 1370.00 L935.88 1375.09 L935.80 1380.10 L935.75 1385.14 L935.71 1390.29 L935.67 1395.45 L935.63 1400.52 L935.57 1405.42 L935.49 1410.05 L935.37 1414.31 L935.20 1418.10 L934.99 1421.30 L934.74 1423.95 L934.45 1426.19 L934.14 1428.17 L933.81 1430.06 L933.45 1431.99 L933.08 1434.12 L932.70 1436.60 L932.30 1439.40 L931.89 1442.36 L931.46 1445.44 L931.01 1448.61 L930.54 1451.83 L930.04 1455.06 L929.53 1458.26 L929.00 1461.40 L928.44 1464.49 L927.84 1467.58 L927.22 1470.67 L926.58 1473.75 L925.92 1476.83 L925.27 1479.92 L924.63 1483.01 L924.00 1486.10 L923.38 1489.15 L922.74 1492.12 L922.11 1495.07 L921.48 1498.04 L920.86 1501.06 L920.25 1504.18 L919.66 1507.45 L919.10 1510.90 L918.54 1514.78 L917.96 1519.16 L917.39 1523.81 L916.84 1528.50 L916.33 1532.99 L915.88 1537.06 L915.49 1540.47 L915.20 1543.00 L912.80 1543.00 L912.51 1540.47 L912.12 1537.06 L911.67 1532.99 L911.16 1528.50 L910.61 1523.81 L910.04 1519.16 L909.46 1514.78 L908.90 1510.90 L908.34 1507.45 L907.75 1504.18 L907.14 1501.06 L906.52 1498.04 L905.89 1495.07 L905.26 1492.12 L904.62 1489.15 L904.00 1486.10 L903.37 1483.01 L902.73 1479.92 L902.08 1476.83 L901.42 1473.75 L900.78 1470.67 L900.16 1467.58 L899.56 1464.49 L899.00 1461.40 L898.47 1458.26 L897.96 1455.06 L897.46 1451.83 L896.99 1448.61 L896.54 1445.44 L896.11 1442.36 L895.70 1439.40 L895.30 1436.60 L894.92 1434.12 L894.55 1431.99 L894.19 1430.06 L893.86 1428.17 L893.55 1426.19 L893.26 1423.95 L893.01 1421.30 L892.80 1418.10 L892.63 1414.31 L892.51 1410.05 L892.43 1405.42 L892.37 1400.52 L892.33 1395.45 L892.29 1390.29 L892.25 1385.14 L892.20 1380.10 L892.12 1375.09 L892.02 1370.00 L891.91 1364.85 L891.81 1359.65 L891.74 1354.43 L891.70 1349.20 L891.71 1343.98 L891.80 1338.80 L891.93 1333.65 L892.09 1328.50 L892.28 1323.35 L892.51 1318.20 L892.81 1313.05 L893.18 1307.90 L893.64 1302.75 L894.20 1297.60 L894.87 1292.43 L895.64 1287.23 L896.49 1282.03 L897.42 1276.82 L898.41 1271.64 L899.44 1266.48 L900.51 1261.36 L901.60 1256.30 L902.80 1251.03 L904.17 1245.43 L905.63 1239.72 L907.11 1234.12 L908.53 1228.84 L909.82 1224.09 L910.90 1220.11 L911.70 1217.10Z" fill="#ff0000" stroke="#000" stroke-width="1.8" stroke-linejoin="round"/>
<path d="M914.0 1217.7V1543.0" stroke="#000" stroke-width="1.6" stroke-linecap="round"/>
<path d="M914.0 1312.0V1424.9" stroke="#000" stroke-width="4.6"/>
<circle cx="914.0" cy="1367.0" r="5.3" fill="#fff"/>
<path d="M1035.40 1378.90 L1035.82 1380.84 L1036.36 1383.40 L1037.00 1386.44 L1037.72 1389.83 L1038.51 1393.45 L1039.34 1397.15 L1040.21 1400.81 L1041.10 1404.30 L1042.07 1407.76 L1043.18 1411.39 L1044.36 1415.11 L1045.58 1418.86 L1046.76 1422.55 L1047.86 1426.12 L1048.82 1429.49 L1049.60 1432.60 L1050.21 1435.35 L1050.72 1437.77 L1051.12 1439.96 L1051.43 1442.05 L1051.64 1444.14 L1051.75 1446.33 L1051.77 1448.75 L1051.70 1451.50 L1051.48 1454.52 L1051.08 1457.69 L1050.55 1461.01 L1049.94 1464.47 L1049.31 1468.09 L1048.69 1471.84 L1048.14 1475.75 L1047.70 1479.80 L1047.37 1484.19 L1047.10 1489.00 L1046.87 1494.08 L1046.67 1499.24 L1046.49 1504.33 L1046.31 1509.18 L1046.12 1513.62 L1045.90 1517.50 L1045.67 1520.76 L1045.44 1523.55 L1045.21 1525.96 L1044.98 1528.13 L1044.73 1530.14 L1044.48 1532.12 L1044.20 1534.17 L1043.90 1536.40 L1043.55 1538.89 L1043.15 1541.57 L1042.72 1544.32 L1042.28 1547.03 L1041.85 1549.60 L1041.46 1551.90 L1041.14 1553.84 L1040.90 1555.30 L1017.50 1555.30 L1017.26 1553.84 L1016.94 1551.90 L1016.55 1549.60 L1016.12 1547.03 L1015.68 1544.32 L1015.25 1541.57 L1014.85 1538.89 L1014.50 1536.40 L1014.20 1534.17 L1013.93 1532.12 L1013.67 1530.14 L1013.43 1528.13 L1013.19 1525.96 L1012.96 1523.55 L1012.73 1520.76 L1012.50 1517.50 L1012.28 1513.62 L1012.09 1509.18 L1011.91 1504.33 L1011.73 1499.24 L1011.53 1494.08 L1011.30 1489.00 L1011.03 1484.19 L1010.70 1479.80 L1010.26 1475.75 L1009.71 1471.84 L1009.09 1468.09 L1008.46 1464.47 L1007.85 1461.01 L1007.32 1457.69 L1006.92 1454.52 L1006.70 1451.50 L1006.63 1448.75 L1006.65 1446.33 L1006.76 1444.14 L1006.97 1442.05 L1007.28 1439.96 L1007.68 1437.77 L1008.19 1435.35 L1008.80 1432.60 L1009.58 1429.49 L1010.54 1426.12 L1011.64 1422.55 L1012.83 1418.86 L1014.04 1415.11 L1015.22 1411.39 L1016.33 1407.76 L1017.30 1404.30 L1018.19 1400.81 L1019.06 1397.15 L1019.89 1393.45 L1020.68 1389.83 L1021.40 1386.44 L1022.04 1383.40 L1022.58 1380.84 L1023.00 1378.90Z" fill="#0000ff" stroke="#000" stroke-width="1.8" stroke-linejoin="round"/>
<path d="M1029.2 1379.5V1555.3" stroke="#000" stroke-width="1.6" stroke-linecap="round"/>
<path d="M1029.2 1444.0V1523.2" stroke="#000" stroke-width="4.6"/>
<circle cx="1029.2" cy="1460.0" r="5.3" fill="#fff"/>
<path d="M1087.05 1437.40 L1087.04 1438.38 L1087.01 1439.70 L1087.00 1441.27 L1087.00 1443.01 L1087.00 1444.84 L1087.00 1446.67 L1087.00 1448.42 L1087.05 1450.00 L1087.14 1451.33 L1087.21 1452.46 L1087.28 1453.49 L1087.39 1454.53 L1087.57 1455.69 L1087.85 1457.08 L1088.25 1458.81 L1088.80 1461.00 L1089.54 1463.70 L1090.45 1466.84 L1091.49 1470.31 L1092.63 1474.02 L1093.82 1477.86 L1095.02 1481.74 L1096.19 1485.55 L1097.30 1489.20 L1098.40 1492.81 L1099.54 1496.53 L1100.70 1500.30 L1101.86 1504.05 L1102.97 1507.71 L1104.02 1511.22 L1104.97 1514.50 L1105.80 1517.50 L1106.54 1520.14 L1107.25 1522.46 L1107.89 1524.54 L1108.44 1526.47 L1108.90 1528.34 L1109.22 1530.25 L1109.40 1532.27 L1109.40 1534.50 L1109.21 1536.87 L1108.85 1539.26 L1108.33 1541.69 L1107.69 1544.19 L1106.95 1546.78 L1106.13 1549.48 L1105.28 1552.32 L1104.40 1555.30 L1103.46 1558.43 L1102.41 1561.67 L1101.27 1565.03 L1100.08 1568.51 L1098.87 1572.11 L1097.67 1575.82 L1096.50 1579.65 L1095.40 1583.60 L1094.31 1587.96 L1093.16 1592.86 L1092.01 1598.05 L1090.89 1603.27 L1089.84 1608.27 L1088.89 1612.79 L1088.10 1616.59 L1087.50 1619.40 L1086.10 1619.40 L1085.50 1616.59 L1084.71 1612.79 L1083.76 1608.27 L1082.71 1603.27 L1081.59 1598.05 L1080.44 1592.86 L1079.29 1587.96 L1078.20 1583.60 L1077.10 1579.65 L1075.93 1575.82 L1074.73 1572.11 L1073.52 1568.51 L1072.33 1565.03 L1071.19 1561.67 L1070.14 1558.43 L1069.20 1555.30 L1068.32 1552.32 L1067.47 1549.48 L1066.65 1546.78 L1065.91 1544.19 L1065.27 1541.69 L1064.75 1539.26 L1064.39 1536.87 L1064.20 1534.50 L1064.20 1532.27 L1064.38 1530.25 L1064.70 1528.34 L1065.16 1526.47 L1065.71 1524.54 L1066.35 1522.46 L1067.06 1520.14 L1067.80 1517.50 L1068.63 1514.50 L1069.58 1511.22 L1070.63 1507.71 L1071.74 1504.05 L1072.90 1500.30 L1074.06 1496.53 L1075.20 1492.81 L1076.30 1489.20 L1077.41 1485.55 L1078.58 1481.74 L1079.78 1477.86 L1080.97 1474.02 L1082.11 1470.31 L1083.15 1466.84 L1084.06 1463.70 L1084.80 1461.00 L1085.35 1458.81 L1085.75 1457.08 L1086.03 1455.69 L1086.21 1454.53 L1086.32 1453.49 L1086.39 1452.46 L1086.46 1451.33 L1086.55 1450.00 L1086.60 1448.42 L1086.60 1446.67 L1086.60 1444.84 L1086.60 1443.01 L1086.60 1441.27 L1086.59 1439.70 L1086.56 1438.38 L1086.55 1437.40Z" fill="#ff0000" stroke="#000" stroke-width="1.8" stroke-linejoin="round"/>
<path d="M1086.8 1438.0V1619.4" stroke="#000" stroke-width="1.6" stroke-linecap="round"/>
<path d="M1086.8 1513.8V1560.0" stroke="#000" stroke-width="4.6"/>
<circle cx="1086.8" cy="1535.5" r="5.3" fill="#fff"/>
</svg></body></html>
